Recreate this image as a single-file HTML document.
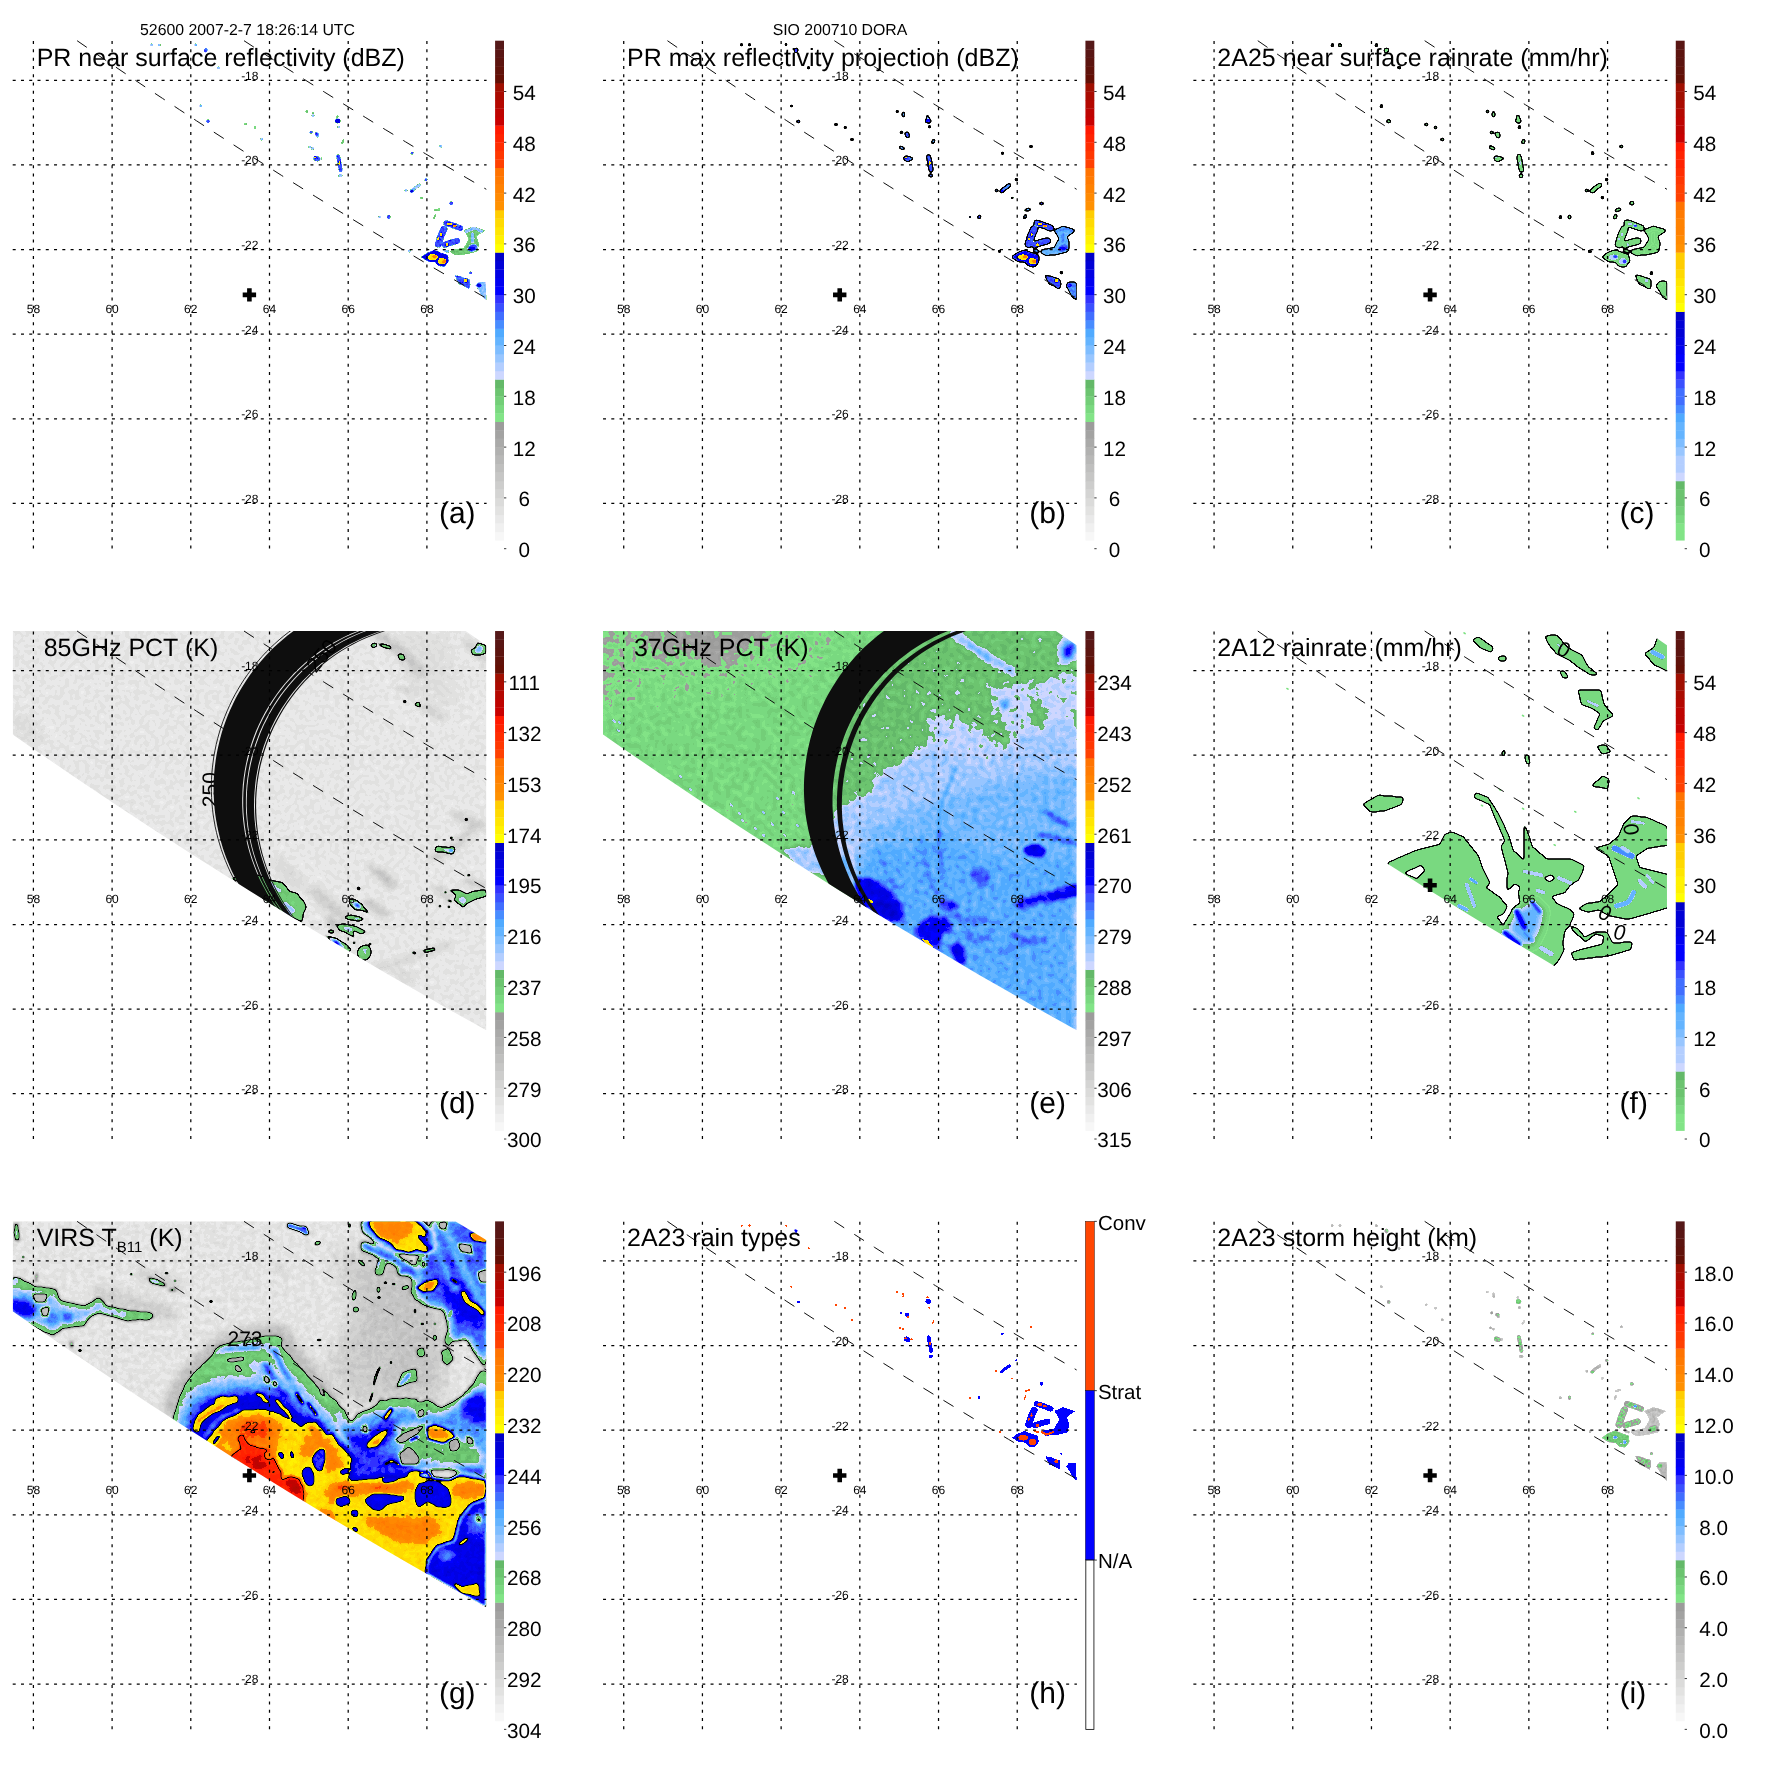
<!DOCTYPE html>
<html><head><meta charset="utf-8"><title>TRMM overpass 52600 DORA</title>
<style>html,body{margin:0;padding:0;background:#fff}svg{display:block}text{font-family:"Liberation Sans", sans-serif;fill:#000;text-rendering:geometricPrecision}</style></head><body>
<svg width="1771" height="1771" viewBox="0 0 1771 1771">
<rect width="1771" height="1771" fill="#fff"/><g opacity="0.999">
<defs><clipPath id="pc"><rect x="12.7" y="40.7" width="473.9" height="508.7"/></clipPath><clipPath id="tmiclip"><polygon points="12.7,40.7 465.6,40.7 486.3,54.9 486.3,439.9 466.6,428.9 446.8,417.8 427.1,406.5 407.4,395.2 387.6,383.8 367.9,372.2 348.2,360.5 328.4,348.7 308.7,336.8 289.0,324.8 269.2,312.6 249.5,300.4 229.8,288.0 210.0,275.5 190.3,262.9 170.6,250.2 150.8,237.3 131.1,224.4 111.4,211.3 91.6,198.1 71.9,184.8 52.2,171.4 32.4,157.9 12.7,144.2"/></clipPath><clipPath id="virsclip"><polygon points="12.7,40.7 455.3,40.7 486.3,59.4 486.3,426.5 466.6,415.6 446.8,404.5 427.1,393.3 407.4,382.0 387.6,370.5 367.9,359.0 348.2,347.3 328.4,335.5 308.7,323.6 289.0,311.6 269.2,299.4 249.5,287.1 229.8,274.8 210.0,262.2 190.3,249.6 170.6,236.9 150.8,224.0 131.1,211.0 111.4,197.9 91.6,184.7 71.9,171.3 52.2,157.8 32.4,144.3 12.7,130.6"/></clipPath><filter id="cme" filterUnits="userSpaceOnUse" x="0" y="30" width="500" height="530" color-interpolation-filters="sRGB"><feTurbulence type="fractalNoise" baseFrequency="0.17" numOctaves="1" seed="3" result="t"/><feColorMatrix in="t" type="matrix" values="1 0 0 0 0 1 0 0 0 0 1 0 0 0 0 0 0 0 0 1" result="n"/><feComposite in="SourceGraphic" in2="n" operator="arithmetic" k1="0" k2="1" k3="0.085" k4="-0.0425" result="fn0"/><feComposite in="fn0" in2="SourceGraphic" operator="in" result="fn"/><feComponentTransfer in="fn" result="col"><feFuncR type="discrete" tableValues="0.996 0.969 0.941 0.914 0.886 0.859 0.831 0.804 0.776 0.749 0.722 0.694 0.667 0.639 0.612 0.510 0.478 0.451 0.424 0.392 0.804 0.702 0.596 0.494 0.392 0.314 0.282 0.255 0.227 0.196 0.000 0.000 0.000 0.000 0.000 1.000 1.000 1.000 1.000 1.000 1.000 1.000 1.000 1.000 1.000 1.000 1.000 1.000 1.000 1.000 0.784 0.745 0.706 0.667 0.627 0.392 0.376 0.361 0.349 0.333 0.333 0.333 0.333 0.333"/><feFuncG type="discrete" tableValues="0.996 0.969 0.941 0.914 0.886 0.859 0.831 0.804 0.776 0.749 0.722 0.694 0.667 0.639 0.612 0.894 0.851 0.808 0.769 0.725 0.843 0.808 0.776 0.741 0.706 0.667 0.549 0.431 0.314 0.196 0.000 0.000 0.000 0.000 0.000 1.000 0.949 0.902 0.855 0.804 0.569 0.541 0.510 0.478 0.451 0.255 0.216 0.176 0.137 0.098 0.000 0.016 0.031 0.043 0.059 0.059 0.071 0.078 0.086 0.098 0.098 0.098 0.098 0.098"/><feFuncB type="discrete" tableValues="0.996 0.969 0.941 0.914 0.882 0.855 0.827 0.800 0.773 0.745 0.718 0.690 0.663 0.635 0.608 0.529 0.502 0.471 0.439 0.412 1.000 1.000 1.000 1.000 1.000 1.000 1.000 1.000 1.000 1.000 1.000 0.945 0.894 0.839 0.784 0.000 0.000 0.000 0.000 0.000 0.000 0.000 0.000 0.000 0.000 0.000 0.000 0.000 0.000 0.000 0.000 0.000 0.000 0.000 0.000 0.020 0.039 0.059 0.078 0.098 0.098 0.098 0.098 0.098"/></feComponentTransfer></filter><filter id="cmd" filterUnits="userSpaceOnUse" x="0" y="30" width="500" height="530" color-interpolation-filters="sRGB"><feTurbulence type="fractalNoise" baseFrequency="0.2" numOctaves="1" seed="7" result="t"/><feColorMatrix in="t" type="matrix" values="1 0 0 0 0 1 0 0 0 0 1 0 0 0 0 0 0 0 0 1" result="n"/><feComposite in="SourceGraphic" in2="n" operator="arithmetic" k1="0" k2="1" k3="0.06" k4="-0.0300" result="fn0"/><feComposite in="fn0" in2="SourceGraphic" operator="in" result="fn"/><feComponentTransfer in="fn" result="col"><feFuncR type="discrete" tableValues="0.996 0.969 0.941 0.914 0.886 0.859 0.831 0.804 0.776 0.749 0.722 0.694 0.667 0.639 0.612 0.510 0.478 0.451 0.424 0.392 0.804 0.702 0.596 0.494 0.392 0.314 0.282 0.255 0.227 0.196 0.000 0.000 0.000 0.000 0.000 1.000 1.000 1.000 1.000 1.000 1.000 1.000 1.000 1.000 1.000 1.000 1.000 1.000 1.000 1.000 0.784 0.745 0.706 0.667 0.627 0.392 0.376 0.361 0.349 0.333 0.333 0.333 0.333 0.333"/><feFuncG type="discrete" tableValues="0.996 0.969 0.941 0.914 0.886 0.859 0.831 0.804 0.776 0.749 0.722 0.694 0.667 0.639 0.612 0.894 0.851 0.808 0.769 0.725 0.843 0.808 0.776 0.741 0.706 0.667 0.549 0.431 0.314 0.196 0.000 0.000 0.000 0.000 0.000 1.000 0.949 0.902 0.855 0.804 0.569 0.541 0.510 0.478 0.451 0.255 0.216 0.176 0.137 0.098 0.000 0.016 0.031 0.043 0.059 0.059 0.071 0.078 0.086 0.098 0.098 0.098 0.098 0.098"/><feFuncB type="discrete" tableValues="0.996 0.969 0.941 0.914 0.882 0.855 0.827 0.800 0.773 0.745 0.718 0.690 0.663 0.635 0.608 0.529 0.502 0.471 0.439 0.412 1.000 1.000 1.000 1.000 1.000 1.000 1.000 1.000 1.000 1.000 1.000 0.945 0.894 0.839 0.784 0.000 0.000 0.000 0.000 0.000 0.000 0.000 0.000 0.000 0.000 0.000 0.000 0.000 0.000 0.000 0.000 0.000 0.000 0.000 0.000 0.020 0.039 0.059 0.078 0.098 0.098 0.098 0.098 0.098"/></feComponentTransfer><feComponentTransfer in="fn" result="m0a"><feFuncR type="discrete" tableValues="0 0 0 0 0 0 0 0 0 0 0 0 0 0 0 1 1 1 1 1 1 1 1 1 1 1 1 1 1 1 1 1 1 1 1 1 1 1 1 1 1 1 1 1 1 1 1 1 1 1 1 1 1 1 1 1 1 1 1 1 1 1 1 1"/></feComponentTransfer><feColorMatrix in="m0a" type="matrix" values="0 0 0 0 0 0 0 0 0 0 0 0 0 0 0 1 0 0 0 0" result="m0"/><feGaussianBlur in="m0" stdDeviation="0.9" result="d0"/><feComponentTransfer in="d0" result="e00"><feFuncA type="table" tableValues="0 0 0 0 0 0 0.5 1 1 1 1 1 1 1 0.5 0 0 0 0 0 0"/></feComponentTransfer><feComposite in="e00" in2="SourceGraphic" operator="in" result="e0"/><feMerge><feMergeNode in="col"/><feMergeNode in="e0"/></feMerge></filter><filter id="cmg" filterUnits="userSpaceOnUse" x="0" y="30" width="500" height="530" color-interpolation-filters="sRGB"><feTurbulence type="fractalNoise" baseFrequency="0.18" numOctaves="2" seed="11" result="t"/><feColorMatrix in="t" type="matrix" values="1 0 0 0 0 1 0 0 0 0 1 0 0 0 0 0 0 0 0 1" result="n"/><feComposite in="SourceGraphic" in2="n" operator="arithmetic" k1="0" k2="1" k3="0.07" k4="-0.0350" result="fn0"/><feComposite in="fn0" in2="SourceGraphic" operator="in" result="fn"/><feComponentTransfer in="fn" result="col"><feFuncR type="discrete" tableValues="0.996 0.969 0.941 0.914 0.886 0.859 0.831 0.804 0.776 0.749 0.722 0.694 0.667 0.639 0.612 0.510 0.478 0.451 0.424 0.392 0.804 0.702 0.596 0.494 0.392 0.314 0.282 0.255 0.227 0.196 0.000 0.000 0.000 0.000 0.000 1.000 1.000 1.000 1.000 1.000 1.000 1.000 1.000 1.000 1.000 1.000 1.000 1.000 1.000 1.000 0.784 0.745 0.706 0.667 0.627 0.392 0.376 0.361 0.349 0.333 0.333 0.333 0.333 0.333"/><feFuncG type="discrete" tableValues="0.996 0.969 0.941 0.914 0.886 0.859 0.831 0.804 0.776 0.749 0.722 0.694 0.667 0.639 0.612 0.894 0.851 0.808 0.769 0.725 0.843 0.808 0.776 0.741 0.706 0.667 0.549 0.431 0.314 0.196 0.000 0.000 0.000 0.000 0.000 1.000 0.949 0.902 0.855 0.804 0.569 0.541 0.510 0.478 0.451 0.255 0.216 0.176 0.137 0.098 0.000 0.016 0.031 0.043 0.059 0.059 0.071 0.078 0.086 0.098 0.098 0.098 0.098 0.098"/><feFuncB type="discrete" tableValues="0.996 0.969 0.941 0.914 0.882 0.855 0.827 0.800 0.773 0.745 0.718 0.690 0.663 0.635 0.608 0.529 0.502 0.471 0.439 0.412 1.000 1.000 1.000 1.000 1.000 1.000 1.000 1.000 1.000 1.000 1.000 0.945 0.894 0.839 0.784 0.000 0.000 0.000 0.000 0.000 0.000 0.000 0.000 0.000 0.000 0.000 0.000 0.000 0.000 0.000 0.000 0.000 0.000 0.000 0.000 0.020 0.039 0.059 0.078 0.098 0.098 0.098 0.098 0.098"/></feComponentTransfer><feComponentTransfer in="fn" result="m0a"><feFuncR type="discrete" tableValues="0 0 0 0 0 0 0 0 0 0 0 0 0 0 0 1 1 1 1 1 1 1 1 1 1 1 1 1 1 1 1 1 1 1 1 1 1 1 1 1 1 1 1 1 1 1 1 1 1 1 1 1 1 1 1 1 1 1 1 1 1 1 1 1"/></feComponentTransfer><feColorMatrix in="m0a" type="matrix" values="0 0 0 0 0 0 0 0 0 0 0 0 0 0 0 1 0 0 0 0" result="m0"/><feGaussianBlur in="m0" stdDeviation="0.9" result="d0"/><feComponentTransfer in="d0" result="e00"><feFuncA type="table" tableValues="0 0 0 0 0 0 0 0.5 1 1 1 1 1 0.5 0 0 0 0 0 0 0"/></feComponentTransfer><feComposite in="e00" in2="SourceGraphic" operator="in" result="e0"/><feComponentTransfer in="fn" result="m1a"><feFuncR type="discrete" tableValues="0 0 0 0 0 0 0 0 0 0 0 0 0 0 0 0 0 0 0 0 0 0 0 0 0 0 0 0 0 0 0 0 0 0 0 1 1 1 1 1 1 1 1 1 1 1 1 1 1 1 1 1 1 1 1 1 1 1 1 1 1 1 1 1"/></feComponentTransfer><feColorMatrix in="m1a" type="matrix" values="0 0 0 0 0 0 0 0 0 0 0 0 0 0 0 1 0 0 0 0" result="m1"/><feGaussianBlur in="m1" stdDeviation="0.9" result="d1"/><feComponentTransfer in="d1" result="e10"><feFuncA type="table" tableValues="0 0 0 0 0 0 0 0.5 1 1 1 1 1 0.5 0 0 0 0 0 0 0"/></feComponentTransfer><feComposite in="e10" in2="SourceGraphic" operator="in" result="e1"/><feComponentTransfer in="fn" result="m2a"><feFuncR type="discrete" tableValues="0 0 0 0 0 0 0 0 0 0 0 0 0 0 0 0 0 0 0 0 0 0 0 0 0 0 0 0 0 0 0 0 0 0 0 0 0 0 0 0 0 0 0 0 0 0 0 1 1 1 1 1 1 1 1 1 1 1 1 1 1 1 1 1"/></feComponentTransfer><feColorMatrix in="m2a" type="matrix" values="0 0 0 0 0 0 0 0 0 0 0 0 0 0 0 1 0 0 0 0" result="m2"/><feGaussianBlur in="m2" stdDeviation="0.9" result="d2"/><feComponentTransfer in="d2" result="e20"><feFuncA type="table" tableValues="0 0 0 0 0 0 0 0.5 1 1 1 1 1 0.5 0 0 0 0 0 0 0"/></feComponentTransfer><feComposite in="e20" in2="SourceGraphic" operator="in" result="e2"/><feMerge><feMergeNode in="col"/><feMergeNode in="e0"/><feMergeNode in="e1"/><feMergeNode in="e2"/></feMerge></filter><filter id="cmf" filterUnits="userSpaceOnUse" x="0" y="30" width="500" height="530" color-interpolation-filters="sRGB"><feComponentTransfer in="SourceGraphic" result="col"><feFuncR type="discrete" tableValues="1.000 0.510 0.510 0.478 0.451 0.424 0.424 0.392 0.804 0.702 0.702 0.596 0.494 0.392 0.392 0.314 0.282 0.255 0.255 0.227 0.196 0.000 0.000 0.000 0.000 0.000 0.000 0.000 1.000 1.000 1.000 1.000 1.000 1.000 1.000 1.000 1.000 1.000 1.000 1.000 1.000 1.000 1.000 1.000 1.000 1.000 1.000 1.000 0.784 0.745 0.745 0.706 0.667 0.627 0.627 0.392 0.376 0.361 0.361 0.349 0.349 0.349 0.349 0.349"/><feFuncG type="discrete" tableValues="1.000 0.894 0.894 0.851 0.808 0.769 0.769 0.725 0.843 0.808 0.808 0.776 0.741 0.706 0.706 0.667 0.549 0.431 0.431 0.314 0.196 0.000 0.000 0.000 0.000 0.000 0.000 0.000 1.000 0.949 0.949 0.902 0.855 0.804 0.804 0.569 0.541 0.510 0.510 0.478 0.451 0.255 0.255 0.216 0.176 0.137 0.137 0.098 0.000 0.016 0.016 0.031 0.043 0.059 0.059 0.059 0.071 0.078 0.078 0.086 0.086 0.086 0.086 0.086"/><feFuncB type="discrete" tableValues="1.000 0.529 0.529 0.502 0.471 0.439 0.439 0.412 1.000 1.000 1.000 1.000 1.000 1.000 1.000 1.000 1.000 1.000 1.000 1.000 1.000 1.000 1.000 0.945 0.894 0.839 0.839 0.784 0.000 0.000 0.000 0.000 0.000 0.000 0.000 0.000 0.000 0.000 0.000 0.000 0.000 0.000 0.000 0.000 0.000 0.000 0.000 0.000 0.000 0.000 0.000 0.000 0.000 0.000 0.000 0.020 0.039 0.059 0.059 0.078 0.078 0.078 0.078 0.078"/></feComponentTransfer><feComponentTransfer in="SourceGraphic" result="m0a"><feFuncR type="discrete" tableValues="0 1 1 1 1 1 1 1 1 1 1 1 1 1 1 1 1 1 1 1 1 1 1 1 1 1 1 1 1 1 1 1 1 1 1 1 1 1 1 1 1 1 1 1 1 1 1 1 1 1 1 1 1 1 1 1 1 1 1 1 1 1 1 1"/></feComponentTransfer><feColorMatrix in="m0a" type="matrix" values="0 0 0 0 0 0 0 0 0 0 0 0 0 0 0 1 0 0 0 0" result="m0"/><feGaussianBlur in="m0" stdDeviation="0.9" result="d0"/><feComponentTransfer in="d0" result="e00"><feFuncA type="table" tableValues="0 0 0 0 0 0 0.5 1 1 1 1 1 1 1 0.5 0 0 0 0 0 0"/></feComponentTransfer><feComposite in="e00" in2="SourceGraphic" operator="in" result="e0"/><feMerge><feMergeNode in="col"/><feMergeNode in="e0"/></feMerge></filter><filter id="cma" filterUnits="userSpaceOnUse" x="0" y="30" width="500" height="530" color-interpolation-filters="sRGB"><feTurbulence type="fractalNoise" baseFrequency="0.45" numOctaves="1" seed="5" result="t"/><feColorMatrix in="t" type="matrix" values="1 0 0 0 0 1 0 0 0 0 1 0 0 0 0 0 0 0 0 1" result="n"/><feComposite in="SourceGraphic" in2="n" operator="arithmetic" k1="0" k2="1" k3="0.11" k4="-0.0550" result="fn0"/><feComposite in="fn0" in2="SourceGraphic" operator="in" result="fn"/><feComponentTransfer in="fn" result="col"><feFuncR type="discrete" tableValues="1.000 1.000 1.000 1.000 1.000 1.000 1.000 1.000 1.000 1.000 1.000 1.000 1.000 1.000 1.000 0.510 0.478 0.451 0.424 0.392 0.804 0.702 0.596 0.494 0.392 0.314 0.282 0.255 0.227 0.196 0.000 0.000 0.000 0.000 0.000 1.000 1.000 1.000 1.000 1.000 1.000 1.000 1.000 1.000 1.000 1.000 1.000 1.000 1.000 1.000 0.784 0.745 0.706 0.667 0.627 0.392 0.376 0.361 0.349 0.333 0.333 0.333 0.333 0.333"/><feFuncG type="discrete" tableValues="1.000 1.000 1.000 1.000 1.000 1.000 1.000 1.000 1.000 1.000 1.000 1.000 1.000 1.000 1.000 0.894 0.851 0.808 0.769 0.725 0.843 0.808 0.776 0.741 0.706 0.667 0.549 0.431 0.314 0.196 0.000 0.000 0.000 0.000 0.000 1.000 0.949 0.902 0.855 0.804 0.569 0.541 0.510 0.478 0.451 0.255 0.216 0.176 0.137 0.098 0.000 0.016 0.031 0.043 0.059 0.059 0.071 0.078 0.086 0.098 0.098 0.098 0.098 0.098"/><feFuncB type="discrete" tableValues="1.000 1.000 1.000 1.000 1.000 1.000 1.000 1.000 1.000 1.000 1.000 1.000 1.000 1.000 1.000 0.529 0.502 0.471 0.439 0.412 1.000 1.000 1.000 1.000 1.000 1.000 1.000 1.000 1.000 1.000 1.000 0.945 0.894 0.839 0.784 0.000 0.000 0.000 0.000 0.000 0.000 0.000 0.000 0.000 0.000 0.000 0.000 0.000 0.000 0.000 0.000 0.000 0.000 0.000 0.000 0.020 0.039 0.059 0.078 0.098 0.098 0.098 0.098 0.098"/></feComponentTransfer></filter><filter id="cmb" filterUnits="userSpaceOnUse" x="0" y="30" width="500" height="530" color-interpolation-filters="sRGB"><feTurbulence type="fractalNoise" baseFrequency="0.4" numOctaves="1" seed="5" result="t"/><feColorMatrix in="t" type="matrix" values="1 0 0 0 0 1 0 0 0 0 1 0 0 0 0 0 0 0 0 1" result="n"/><feComposite in="SourceGraphic" in2="n" operator="arithmetic" k1="0" k2="1" k3="0.07" k4="-0.0350" result="fn0"/><feComposite in="fn0" in2="SourceGraphic" operator="in" result="fn"/><feComponentTransfer in="fn" result="col"><feFuncR type="discrete" tableValues="1.000 1.000 1.000 1.000 1.000 1.000 1.000 1.000 1.000 1.000 1.000 1.000 1.000 1.000 1.000 0.510 0.478 0.451 0.424 0.392 0.804 0.702 0.596 0.494 0.392 0.314 0.282 0.255 0.227 0.196 0.000 0.000 0.000 0.000 0.000 1.000 1.000 1.000 1.000 1.000 1.000 1.000 1.000 1.000 1.000 1.000 1.000 1.000 1.000 1.000 0.784 0.745 0.706 0.667 0.627 0.392 0.376 0.361 0.349 0.333 0.333 0.333 0.333 0.333"/><feFuncG type="discrete" tableValues="1.000 1.000 1.000 1.000 1.000 1.000 1.000 1.000 1.000 1.000 1.000 1.000 1.000 1.000 1.000 0.894 0.851 0.808 0.769 0.725 0.843 0.808 0.776 0.741 0.706 0.667 0.549 0.431 0.314 0.196 0.000 0.000 0.000 0.000 0.000 1.000 0.949 0.902 0.855 0.804 0.569 0.541 0.510 0.478 0.451 0.255 0.216 0.176 0.137 0.098 0.000 0.016 0.031 0.043 0.059 0.059 0.071 0.078 0.086 0.098 0.098 0.098 0.098 0.098"/><feFuncB type="discrete" tableValues="1.000 1.000 1.000 1.000 1.000 1.000 1.000 1.000 1.000 1.000 1.000 1.000 1.000 1.000 1.000 0.529 0.502 0.471 0.439 0.412 1.000 1.000 1.000 1.000 1.000 1.000 1.000 1.000 1.000 1.000 1.000 0.945 0.894 0.839 0.784 0.000 0.000 0.000 0.000 0.000 0.000 0.000 0.000 0.000 0.000 0.000 0.000 0.000 0.000 0.000 0.000 0.000 0.000 0.000 0.000 0.020 0.039 0.059 0.078 0.098 0.098 0.098 0.098 0.098"/></feComponentTransfer><feComponentTransfer in="fn" result="m0a"><feFuncR type="discrete" tableValues="0 0 0 0 0 0 0 0 0 0 0 0 0 0 0 1 1 1 1 1 1 1 1 1 1 1 1 1 1 1 1 1 1 1 1 1 1 1 1 1 1 1 1 1 1 1 1 1 1 1 1 1 1 1 1 1 1 1 1 1 1 1 1 1"/></feComponentTransfer><feColorMatrix in="m0a" type="matrix" values="0 0 0 0 0 0 0 0 0 0 0 0 0 0 0 1 0 0 0 0" result="m0"/><feGaussianBlur in="m0" stdDeviation="0.9" result="d0"/><feComponentTransfer in="d0" result="e00"><feFuncA type="table" tableValues="0 0 0 0 0 0 0.5 1 1 1 1 1 1 1 0.5 0 0 0 0 0 0"/></feComponentTransfer><feComposite in="e00" in2="SourceGraphic" operator="in" result="e0"/><feMerge><feMergeNode in="col"/><feMergeNode in="e0"/></feMerge></filter><filter id="cmc" filterUnits="userSpaceOnUse" x="0" y="30" width="500" height="530" color-interpolation-filters="sRGB"><feComponentTransfer in="SourceGraphic" result="col"><feFuncR type="discrete" tableValues="1.000 0.510 0.510 0.478 0.451 0.424 0.424 0.392 0.804 0.702 0.702 0.596 0.494 0.392 0.392 0.314 0.282 0.255 0.255 0.227 0.196 0.000 0.000 0.000 0.000 0.000 0.000 0.000 1.000 1.000 1.000 1.000 1.000 1.000 1.000 1.000 1.000 1.000 1.000 1.000 1.000 1.000 1.000 1.000 1.000 1.000 1.000 1.000 0.784 0.745 0.745 0.706 0.667 0.627 0.627 0.392 0.376 0.361 0.361 0.349 0.349 0.349 0.349 0.349"/><feFuncG type="discrete" tableValues="1.000 0.894 0.894 0.851 0.808 0.769 0.769 0.725 0.843 0.808 0.808 0.776 0.741 0.706 0.706 0.667 0.549 0.431 0.431 0.314 0.196 0.000 0.000 0.000 0.000 0.000 0.000 0.000 1.000 0.949 0.949 0.902 0.855 0.804 0.804 0.569 0.541 0.510 0.510 0.478 0.451 0.255 0.255 0.216 0.176 0.137 0.137 0.098 0.000 0.016 0.016 0.031 0.043 0.059 0.059 0.059 0.071 0.078 0.078 0.086 0.086 0.086 0.086 0.086"/><feFuncB type="discrete" tableValues="1.000 0.529 0.529 0.502 0.471 0.439 0.439 0.412 1.000 1.000 1.000 1.000 1.000 1.000 1.000 1.000 1.000 1.000 1.000 1.000 1.000 1.000 1.000 0.945 0.894 0.839 0.839 0.784 0.000 0.000 0.000 0.000 0.000 0.000 0.000 0.000 0.000 0.000 0.000 0.000 0.000 0.000 0.000 0.000 0.000 0.000 0.000 0.000 0.000 0.000 0.000 0.000 0.000 0.000 0.000 0.020 0.039 0.059 0.059 0.078 0.078 0.078 0.078 0.078"/></feComponentTransfer><feComponentTransfer in="SourceGraphic" result="m0a"><feFuncR type="discrete" tableValues="0 1 1 1 1 1 1 1 1 1 1 1 1 1 1 1 1 1 1 1 1 1 1 1 1 1 1 1 1 1 1 1 1 1 1 1 1 1 1 1 1 1 1 1 1 1 1 1 1 1 1 1 1 1 1 1 1 1 1 1 1 1 1 1"/></feComponentTransfer><feColorMatrix in="m0a" type="matrix" values="0 0 0 0 0 0 0 0 0 0 0 0 0 0 0 1 0 0 0 0" result="m0"/><feGaussianBlur in="m0" stdDeviation="0.9" result="d0"/><feComponentTransfer in="d0" result="e00"><feFuncA type="table" tableValues="0 0 0 0 0 0 0.5 1 1 1 1 1 1 1 0.5 0 0 0 0 0 0"/></feComponentTransfer><feComposite in="e00" in2="SourceGraphic" operator="in" result="e0"/><feMerge><feMergeNode in="col"/><feMergeNode in="e0"/></feMerge></filter><filter id="cmi" filterUnits="userSpaceOnUse" x="0" y="30" width="500" height="530" color-interpolation-filters="sRGB"><feTurbulence type="fractalNoise" baseFrequency="0.45" numOctaves="1" seed="8" result="t"/><feColorMatrix in="t" type="matrix" values="1 0 0 0 0 1 0 0 0 0 1 0 0 0 0 0 0 0 0 1" result="n"/><feComposite in="SourceGraphic" in2="n" operator="arithmetic" k1="0" k2="1" k3="0.1" k4="-0.0500" result="fn0"/><feComposite in="fn0" in2="SourceGraphic" operator="in" result="fn"/><feComponentTransfer in="fn" result="col"><feFuncR type="discrete" tableValues="1.000 1.000 1.000 1.000 1.000 0.859 0.831 0.804 0.776 0.749 0.722 0.694 0.667 0.639 0.612 0.510 0.478 0.451 0.424 0.392 0.804 0.702 0.596 0.494 0.392 0.314 0.282 0.255 0.227 0.196 0.000 0.000 0.000 0.000 0.000 1.000 1.000 1.000 1.000 1.000 1.000 1.000 1.000 1.000 1.000 1.000 1.000 1.000 1.000 1.000 0.784 0.745 0.706 0.667 0.627 0.392 0.376 0.361 0.349 0.333 0.333 0.333 0.333 0.333"/><feFuncG type="discrete" tableValues="1.000 1.000 1.000 1.000 1.000 0.859 0.831 0.804 0.776 0.749 0.722 0.694 0.667 0.639 0.612 0.894 0.851 0.808 0.769 0.725 0.843 0.808 0.776 0.741 0.706 0.667 0.549 0.431 0.314 0.196 0.000 0.000 0.000 0.000 0.000 1.000 0.949 0.902 0.855 0.804 0.569 0.541 0.510 0.478 0.451 0.255 0.216 0.176 0.137 0.098 0.000 0.016 0.031 0.043 0.059 0.059 0.071 0.078 0.086 0.098 0.098 0.098 0.098 0.098"/><feFuncB type="discrete" tableValues="1.000 1.000 1.000 1.000 1.000 0.855 0.827 0.800 0.773 0.745 0.718 0.690 0.663 0.635 0.608 0.529 0.502 0.471 0.439 0.412 1.000 1.000 1.000 1.000 1.000 1.000 1.000 1.000 1.000 1.000 1.000 0.945 0.894 0.839 0.784 0.000 0.000 0.000 0.000 0.000 0.000 0.000 0.000 0.000 0.000 0.000 0.000 0.000 0.000 0.000 0.000 0.000 0.000 0.000 0.000 0.020 0.039 0.059 0.078 0.098 0.098 0.098 0.098 0.098"/></feComponentTransfer></filter><filter id="cmh" filterUnits="userSpaceOnUse" x="0" y="30" width="500" height="530" color-interpolation-filters="sRGB"><feTurbulence type="fractalNoise" baseFrequency="0.5" numOctaves="1" seed="9" result="t"/><feColorMatrix in="t" type="matrix" values="1 0 0 0 0 1 0 0 0 0 1 0 0 0 0 0 0 0 0 1" result="n"/><feComposite in="SourceGraphic" in2="n" operator="arithmetic" k1="0" k2="1" k3="0.2" k4="-0.1000" result="fn0"/><feComposite in="fn0" in2="SourceGraphic" operator="in" result="fn"/><feComponentTransfer in="fn" result="col"><feFuncR type="discrete" tableValues="1.000 1.000 1.000 1.000 1.000 1.000 1.000 1.000 1.000 1.000 0.000 0.000 0.000 0.000 0.000 0.000 0.000 0.000 0.000 0.000 0.000 0.000 0.000 0.000 0.000 0.000 0.000 0.000 0.000 0.000 1.000 1.000 1.000 1.000 1.000 1.000 1.000 1.000 1.000 1.000 1.000 1.000 1.000 1.000 1.000 1.000 1.000 1.000 1.000 1.000 1.000 1.000 1.000 1.000 1.000 1.000 1.000 1.000 1.000 1.000 1.000 1.000 1.000 1.000"/><feFuncG type="discrete" tableValues="1.000 1.000 1.000 1.000 1.000 1.000 1.000 1.000 1.000 1.000 0.000 0.000 0.000 0.000 0.000 0.000 0.000 0.000 0.000 0.000 0.000 0.000 0.000 0.000 0.000 0.000 0.000 0.000 0.000 0.000 0.271 0.271 0.271 0.271 0.271 0.271 0.271 0.271 0.271 0.271 0.271 0.271 0.271 0.271 0.271 0.271 0.271 0.271 0.271 0.271 0.271 0.271 0.271 0.271 0.271 0.271 0.271 0.271 0.271 0.271 0.271 0.271 0.271 0.271"/><feFuncB type="discrete" tableValues="1.000 1.000 1.000 1.000 1.000 1.000 1.000 1.000 1.000 1.000 1.000 1.000 1.000 1.000 1.000 1.000 1.000 1.000 1.000 1.000 1.000 1.000 1.000 1.000 1.000 1.000 1.000 1.000 1.000 1.000 0.000 0.000 0.000 0.000 0.000 0.000 0.000 0.000 0.000 0.000 0.000 0.000 0.000 0.000 0.000 0.000 0.000 0.000 0.000 0.000 0.000 0.000 0.000 0.000 0.000 0.000 0.000 0.000 0.000 0.000 0.000 0.000 0.000 0.000"/></feComponentTransfer></filter><filter id="b9" filterUnits="userSpaceOnUse" x="-40" y="-20" width="600" height="640" color-interpolation-filters="sRGB"><feGaussianBlur stdDeviation="9"/></filter><filter id="b3" filterUnits="userSpaceOnUse" x="-40" y="-20" width="600" height="640" color-interpolation-filters="sRGB"><feGaussianBlur stdDeviation="3"/></filter><filter id="b2" filterUnits="userSpaceOnUse" x="-40" y="-20" width="600" height="640" color-interpolation-filters="sRGB"><feGaussianBlur stdDeviation="2"/></filter><filter id="b5" filterUnits="userSpaceOnUse" x="-40" y="-20" width="600" height="640" color-interpolation-filters="sRGB"><feGaussianBlur stdDeviation="5"/></filter><filter id="b6" filterUnits="userSpaceOnUse" x="-40" y="-20" width="600" height="640" color-interpolation-filters="sRGB"><feGaussianBlur stdDeviation="6"/></filter><filter id="b1_5" filterUnits="userSpaceOnUse" x="-40" y="-20" width="600" height="640" color-interpolation-filters="sRGB"><feGaussianBlur stdDeviation="1.5"/></filter><filter id="b0_7" filterUnits="userSpaceOnUse" x="-40" y="-20" width="600" height="640" color-interpolation-filters="sRGB"><feGaussianBlur stdDeviation="0.7"/></filter><filter id="b2_5" filterUnits="userSpaceOnUse" x="-40" y="-20" width="600" height="640" color-interpolation-filters="sRGB"><feGaussianBlur stdDeviation="2.5"/></filter><filter id="b7" filterUnits="userSpaceOnUse" x="-40" y="-20" width="600" height="640" color-interpolation-filters="sRGB"><feGaussianBlur stdDeviation="7"/></filter><filter id="b3_5" filterUnits="userSpaceOnUse" x="-40" y="-20" width="600" height="640" color-interpolation-filters="sRGB"><feGaussianBlur stdDeviation="3.5"/></filter><filter id="b4" filterUnits="userSpaceOnUse" x="-40" y="-20" width="600" height="640" color-interpolation-filters="sRGB"><feGaussianBlur stdDeviation="4"/></filter><filter id="b0_9" filterUnits="userSpaceOnUse" x="-40" y="-20" width="600" height="640" color-interpolation-filters="sRGB"><feGaussianBlur stdDeviation="0.9"/></filter><filter id="b0_6" filterUnits="userSpaceOnUse" x="-40" y="-20" width="600" height="640" color-interpolation-filters="sRGB"><feGaussianBlur stdDeviation="0.6"/></filter><filter id="b0_8" filterUnits="userSpaceOnUse" x="-40" y="-20" width="600" height="640" color-interpolation-filters="sRGB"><feGaussianBlur stdDeviation="0.8"/></filter><filter id="b1_2" filterUnits="userSpaceOnUse" x="-40" y="-20" width="600" height="640" color-interpolation-filters="sRGB"><feGaussianBlur stdDeviation="1.2"/></filter><filter id="b1" filterUnits="userSpaceOnUse" x="-40" y="-20" width="600" height="640" color-interpolation-filters="sRGB"><feGaussianBlur stdDeviation="1"/></filter><filter id="b1_3" filterUnits="userSpaceOnUse" x="-40" y="-20" width="600" height="640" color-interpolation-filters="sRGB"><feGaussianBlur stdDeviation="1.3"/></filter><filter id="b0_75" filterUnits="userSpaceOnUse" x="-40" y="-20" width="600" height="640" color-interpolation-filters="sRGB"><feGaussianBlur stdDeviation="0.75"/></filter></defs>
<text x="247.5" y="35.1" font-size="15.85" text-anchor="middle">52600 2007-2-7 18:26:14 UTC</text>
<text x="840" y="35.1" font-size="15.85" text-anchor="middle">SIO 200710 DORA</text>
<g transform="translate(0.00 0.00)">
<g clip-path="url(#pc)"><g filter="url(#cma)"><polygon points="0.0,30.0 500.0,30.0 500.0,560.0 0.0,560.0" fill="#020202"/><ellipse cx="151.6" cy="44.9" rx="1.8" ry="1.6" fill="#5c5c5c"/><ellipse cx="159.2" cy="44.9" rx="1.8" ry="1.6" fill="#5c5c5c"/><ellipse cx="195.7" cy="44.9" rx="1.8" ry="1.6" fill="#5c5c5c"/><ellipse cx="218.5" cy="67.8" rx="1.8" ry="1.6" fill="#5c5c5c"/><ellipse cx="200.7" cy="105.9" rx="1.8" ry="1.6" fill="#5c5c5c"/><ellipse cx="261.7" cy="139.2" rx="1.8" ry="1.6" fill="#5c5c5c"/><ellipse cx="245.6" cy="124.2" rx="1.8" ry="1.6" fill="#484848"/><ellipse cx="254.9" cy="127.4" rx="1.8" ry="1.6" fill="#484848"/><ellipse cx="205.8" cy="50.3" rx="2.1" ry="2.5" fill="#727272" transform="rotate(20 205.8 50.3)"/><ellipse cx="208.0" cy="121.3" rx="2.0" ry="2.0" fill="#727272"/><ellipse cx="306.8" cy="111.4" rx="1.8" ry="1.6" fill="#484848"/><ellipse cx="313.0" cy="113.0" rx="1.8" ry="1.6" fill="#484848"/><ellipse cx="313.0" cy="115.7" rx="1.8" ry="1.6" fill="#5c5c5c"/><ellipse cx="337.2" cy="116.7" rx="1.8" ry="1.6" fill="#484848"/><ellipse cx="338.8" cy="126.9" rx="1.8" ry="1.6" fill="#5c5c5c"/><ellipse cx="311.1" cy="132.2" rx="1.8" ry="1.6" fill="#727272"/><ellipse cx="317.6" cy="136.2" rx="1.8" ry="1.6" fill="#5c5c5c"/><ellipse cx="309.9" cy="147.1" rx="1.8" ry="1.6" fill="#5c5c5c"/><ellipse cx="312.6" cy="148.4" rx="1.8" ry="1.6" fill="#5c5c5c"/><ellipse cx="321.1" cy="158.7" rx="1.8" ry="1.6" fill="#484848"/><ellipse cx="412.1" cy="153.1" rx="1.8" ry="1.6" fill="#727272"/><ellipse cx="426.0" cy="179.7" rx="1.8" ry="1.6" fill="#727272"/><ellipse cx="406.1" cy="190.4" rx="1.8" ry="1.6" fill="#5c5c5c"/><ellipse cx="421.7" cy="197.8" rx="1.8" ry="1.6" fill="#484848"/><ellipse cx="379.7" cy="217.0" rx="1.8" ry="1.6" fill="#5c5c5c"/><ellipse cx="470.7" cy="272.9" rx="1.8" ry="1.6" fill="#727272"/><ellipse cx="409.3" cy="251.2" rx="1.8" ry="1.6" fill="#5c5c5c"/><ellipse cx="440.7" cy="146.3" rx="1.8" ry="1.6" fill="#5c5c5c"/><g filter="url(#b0_75)"><ellipse cx="337.8" cy="120.8" rx="2.9" ry="2.6" fill="#808080"/><ellipse cx="316.7" cy="134.1" rx="2.4" ry="2.1" fill="#727272"/></g><path d="M342.2 142.8L343.4 140.3" fill="none" stroke="#484848" stroke-width="2.8" stroke-linecap="round" stroke-linejoin="round"/><g filter="url(#b0_75)"><ellipse cx="316.7" cy="158.6" rx="3.7" ry="2.8" fill="#727272" transform="rotate(20 316.7 158.6)"/></g><ellipse cx="315.2" cy="157.5" rx="1.3" ry="1.1" fill="#989898"/><g filter="url(#b0_75)"><path d="M338.2 156.5C338.4 157.5 339.0 160.4 339.4 162.7C339.9 164.9 340.5 168.9 340.7 170.1" fill="none" stroke="#727272" stroke-width="4.4" stroke-linecap="round" stroke-linejoin="round"/></g><ellipse cx="339.4" cy="163.0" rx="1.3" ry="1.9" fill="#989898"/><g filter="url(#b0_75)"><ellipse cx="340.4" cy="175.7" rx="2.4" ry="2.0" fill="#5c5c5c"/><path d="M411.1 191.2C411.7 190.7 413.5 189.2 414.8 188.1C416.2 187.1 418.5 185.7 419.2 185.2" fill="none" stroke="#5c5c5c" stroke-width="3.6" stroke-linecap="round" stroke-linejoin="round"/></g><ellipse cx="412.0" cy="191.2" rx="1.8" ry="1.6" fill="#808080"/><g filter="url(#b0_75)"><ellipse cx="451.2" cy="203.3" rx="2.2" ry="2.0" fill="#727272"/></g><path d="M435.3 210.2L439.1 209.5" fill="none" stroke="#484848" stroke-width="2.9" stroke-linecap="round" stroke-linejoin="round"/><path d="M434.1 218.0L435.3 215.5" fill="none" stroke="#484848" stroke-width="2.8" stroke-linecap="round" stroke-linejoin="round"/><ellipse cx="388.8" cy="217.0" rx="1.9" ry="2.4" fill="#727272" transform="rotate(20 388.8 217.0)"/><g filter="url(#b0_75)"><path d="M446.3 223.2C447.3 223.5 450.4 224.3 452.7 225.2C455.1 226.0 459.2 227.6 460.4 228.1" fill="none" stroke="#727272" stroke-width="6.2" stroke-linecap="round" stroke-linejoin="round"/></g><ellipse cx="449.6" cy="223.9" rx="2.7" ry="1.5" fill="#989898"/><ellipse cx="454.6" cy="225.7" rx="2.1" ry="1.3" fill="#aaaaaa"/><g filter="url(#b0_75)"><path d="M443.8 229.4C443.3 230.5 441.8 233.5 440.9 236.0C440.0 238.4 438.9 242.7 438.4 244.0" fill="none" stroke="#727272" stroke-width="7.5" stroke-linecap="round" stroke-linejoin="round"/></g><ellipse cx="441.2" cy="234.7" rx="1.2" ry="2.1" fill="#989898"/><ellipse cx="438.4" cy="238.7" rx="1.3" ry="1.5" fill="#989898"/><g filter="url(#b0_75)"><path d="M444.7 244.7C445.6 244.3 448.2 243.4 450.2 242.8C452.3 242.2 455.9 241.2 457.1 240.9" fill="none" stroke="#727272" stroke-width="6.5" stroke-linecap="round" stroke-linejoin="round"/></g><ellipse cx="447.1" cy="244.9" rx="1.6" ry="1.8" fill="#989898"/><g filter="url(#b0_75)"><polygon points="463.9,230.4 472.6,226.6 485.0,230.4 476.3,236.6 478.8,242.8 477.6,251.5 467.6,254.0 455.2,255.2 451.5,250.2 463.9,247.8 468.9,239.1 466.4,234.1" fill="#484848"/><path d="M463.9 230.4L472.6 226.6L485.0 230.4L476.3 236.6L478.8 242.8L477.6 251.5L467.6 254.0L455.2 255.2L451.5 250.2L463.9 247.8L468.9 239.1L466.4 234.1L463.9 230.4" fill="none" stroke="#484848" stroke-width="1.0" stroke-linecap="round" stroke-linejoin="round"/><path d="M466.4 231.6C467.6 231.1 471.4 228.6 473.9 228.5C476.3 228.4 480.1 230.6 481.3 231.0" fill="none" stroke="#5c5c5c" stroke-width="3.2" stroke-linecap="round" stroke-linejoin="round"/><path d="M472.6 234.1L472.6 241.6" fill="none" stroke="#5c5c5c" stroke-width="3.4" stroke-linecap="round" stroke-linejoin="round"/><ellipse cx="472.6" cy="248.0" rx="5.1" ry="3.5" fill="#727272" transform="rotate(-20 472.6 248.0)"/></g><ellipse cx="472.0" cy="248.4" rx="3.1" ry="1.9" fill="#808080"/><g filter="url(#b0_75)"><polygon points="421.7,257.1 426.6,253.4 434.1,250.2 440.3,252.7 447.8,255.2 448.4,261.4 444.7,266.4 438.4,265.8 435.3,262.0 427.9,261.2" fill="#808080"/><path d="M421.7 257.1L426.6 253.4L434.1 250.2L440.3 252.7L447.8 255.2L448.4 261.4L444.7 266.4L438.4 265.8L435.3 262.0L427.9 261.2L421.7 257.1" fill="none" stroke="#808080" stroke-width="1.0" stroke-linecap="round" stroke-linejoin="round"/></g><ellipse cx="432.9" cy="257.1" rx="4.9" ry="2.9" fill="#989898"/><ellipse cx="434.7" cy="256.5" rx="2.3" ry="1.5" fill="#aaaaaa"/><ellipse cx="442.2" cy="261.2" rx="3.9" ry="3.3" fill="#989898"/><ellipse cx="444.0" cy="261.4" rx="1.9" ry="1.9" fill="#aaaaaa"/><path d="M451.5 251.5C452.3 251.9 454.6 254.0 456.5 254.0C458.3 254.0 461.6 251.9 462.7 251.5" fill="none" stroke="#484848" stroke-width="3.1" stroke-linecap="round" stroke-linejoin="round"/><path d="M444.0 250.2L447.8 251.5" fill="none" stroke="#5c5c5c" stroke-width="3.0" stroke-linecap="round" stroke-linejoin="round"/><g filter="url(#b0_75)"><polygon points="455.2,275.7 460.2,276.3 464.5,278.2 469.5,279.4 470.1,285.0 468.9,288.8 463.9,285.7 458.9,283.8" fill="#727272"/><path d="M455.2 275.7L460.2 276.3L464.5 278.2L469.5 279.4L470.1 285.0L468.9 288.8L463.9 285.7L458.9 283.8L455.2 275.7" fill="none" stroke="#727272" stroke-width="1.0" stroke-linecap="round" stroke-linejoin="round"/></g><ellipse cx="465.8" cy="280.7" rx="1.9" ry="2.1" fill="#989898"/><g filter="url(#b0_75)"><polygon points="475.7,285.7 478.8,281.9 485.7,281.9 486.3,299.9 481.9,296.2 478.8,290.0" fill="#5c5c5c"/><path d="M475.7 285.7L478.8 281.9L485.7 281.9L486.3 299.9L481.9 296.2L478.8 290.0L475.7 285.7" fill="none" stroke="#5c5c5c" stroke-width="1.0" stroke-linecap="round" stroke-linejoin="round"/></g><ellipse cx="479.1" cy="285.3" rx="2.5" ry="2.1" fill="#808080"/></g></g>
<path d="M244.0 40.7L254.1 47.3L264.2 53.8L274.3 60.3L284.4 66.8L294.5 73.2L304.6 79.6L314.7 86.0L324.8 92.3L334.9 98.6L345.0 104.9L355.1 111.1L365.2 117.3L375.2 123.5L385.3 129.6L395.4 135.7L405.5 141.8L415.6 147.9L425.7 153.9L435.8 159.9L445.9 165.8L456.0 171.7L466.1 177.6L476.2 183.5L486.3 189.3" stroke="#0e0e0e" stroke-width="1.0" stroke-dasharray="11.8 11.7" fill="none"/>
<path d="M77.1 40.7L94.1 52.4L111.2 64.0L128.2 75.5L145.3 87.0L162.4 98.3L179.4 109.6L196.5 120.8L213.5 131.9L230.6 142.9L247.6 153.9L264.7 164.7L281.7 175.5L298.8 186.2L315.8 196.8L332.9 207.3L349.9 217.7L367.0 228.1L384.0 238.4L401.1 248.5L418.1 258.6L435.1 268.7L452.2 278.6L469.2 288.4L486.3 298.2" stroke="#0e0e0e" stroke-width="1.0" stroke-dasharray="11.8 11.7" fill="none"/>

<path d="M33.4 41.1V549.4M112.1 41.1V549.4M190.8 41.1V549.4M269.5 41.1V549.4M348.2 41.1V549.4M426.9 41.1V549.4M12.7 80.3H486.6M12.7 164.9H486.6M12.7 249.5H486.6M12.7 334.2H486.6M12.7 418.8H486.6M12.7 503.4H486.6" stroke="#000" stroke-width="1.25" stroke-dasharray="3 5.27" fill="none"/>
<g font-size="12" text-anchor="middle">
<text x="33.4" y="312.9">58</text>
<text x="112.1" y="312.9">60</text>
<text x="190.8" y="312.9">62</text>
<text x="269.5" y="312.9">64</text>
<text x="348.2" y="312.9">66</text>
<text x="426.9" y="312.9">68</text>
<text x="249.8" y="79.7">-18</text>
<text x="249.8" y="164.3">-20</text>
<text x="249.8" y="248.9">-22</text>
<text x="249.8" y="333.6">-24</text>
<text x="249.8" y="418.2">-26</text>
<text x="249.8" y="502.8">-28</text>
</g>
<path d="M242.70000000000002 294.9H256.1M249.4 288.2V301.59999999999997" stroke="#000" stroke-width="4.6" fill="none"/>
<text x="36.7" y="65.5" font-size="25" xml:space="preserve">PR near surface reflectivity (dBZ)</text>
<text x="438.9" y="522.6" font-size="30">(a)</text>
<rect x="495.1" y="531.79" width="8.9" height="8.77" fill="#f7f7f7"/>
<rect x="495.1" y="523.32" width="8.9" height="8.77" fill="#f0f0f0"/>
<rect x="495.1" y="514.85" width="8.9" height="8.77" fill="#e9e9e9"/>
<rect x="495.1" y="506.38" width="8.9" height="8.77" fill="#e2e2e1"/>
<rect x="495.1" y="497.92" width="8.9" height="8.77" fill="#dbdbda"/>
<rect x="495.1" y="489.45" width="8.9" height="8.77" fill="#d4d4d3"/>
<rect x="495.1" y="480.98" width="8.9" height="8.77" fill="#cdcdcc"/>
<rect x="495.1" y="472.52" width="8.9" height="8.77" fill="#c6c6c5"/>
<rect x="495.1" y="464.05" width="8.9" height="8.77" fill="#bfbfbe"/>
<rect x="495.1" y="455.58" width="8.9" height="8.77" fill="#b8b8b7"/>
<rect x="495.1" y="447.12" width="8.9" height="8.77" fill="#b1b1b0"/>
<rect x="495.1" y="438.65" width="8.9" height="8.77" fill="#aaaaa9"/>
<rect x="495.1" y="430.18" width="8.9" height="8.77" fill="#a3a3a2"/>
<rect x="495.1" y="421.72" width="8.9" height="8.77" fill="#9c9c9b"/>
<rect x="495.1" y="413.25" width="8.9" height="8.77" fill="#82e487"/>
<rect x="495.1" y="404.78" width="8.9" height="8.77" fill="#7ad980"/>
<rect x="495.1" y="396.31" width="8.9" height="8.77" fill="#73ce78"/>
<rect x="495.1" y="387.85" width="8.9" height="8.77" fill="#6cc470"/>
<rect x="495.1" y="379.38" width="8.9" height="8.77" fill="#64b969"/>
<rect x="495.1" y="370.91" width="8.9" height="8.77" fill="#cdd7ff"/>
<rect x="495.1" y="362.45" width="8.9" height="8.77" fill="#b3ceff"/>
<rect x="495.1" y="353.98" width="8.9" height="8.77" fill="#98c6ff"/>
<rect x="495.1" y="345.51" width="8.9" height="8.77" fill="#7ebdff"/>
<rect x="495.1" y="337.05" width="8.9" height="8.77" fill="#64b4ff"/>
<rect x="495.1" y="328.58" width="8.9" height="8.77" fill="#50aaff"/>
<rect x="495.1" y="320.11" width="8.9" height="8.77" fill="#488cff"/>
<rect x="495.1" y="311.64" width="8.9" height="8.77" fill="#416eff"/>
<rect x="495.1" y="303.18" width="8.9" height="8.77" fill="#3a50ff"/>
<rect x="495.1" y="294.71" width="8.9" height="8.77" fill="#3232ff"/>
<rect x="495.1" y="286.24" width="8.9" height="8.77" fill="#0000ff"/>
<rect x="495.1" y="277.78" width="8.9" height="8.77" fill="#0000f1"/>
<rect x="495.1" y="269.31" width="8.9" height="8.77" fill="#0000e4"/>
<rect x="495.1" y="260.84" width="8.9" height="8.77" fill="#0000d6"/>
<rect x="495.1" y="252.38" width="8.9" height="8.77" fill="#0000c8"/>
<rect x="495.1" y="243.91" width="8.9" height="8.77" fill="#ffff00"/>
<rect x="495.1" y="235.44" width="8.9" height="8.77" fill="#fff200"/>
<rect x="495.1" y="226.97" width="8.9" height="8.77" fill="#ffe600"/>
<rect x="495.1" y="218.51" width="8.9" height="8.77" fill="#ffda00"/>
<rect x="495.1" y="210.04" width="8.9" height="8.77" fill="#ffcd00"/>
<rect x="495.1" y="201.57" width="8.9" height="8.77" fill="#ff9100"/>
<rect x="495.1" y="193.11" width="8.9" height="8.77" fill="#ff8a00"/>
<rect x="495.1" y="184.64" width="8.9" height="8.77" fill="#ff8200"/>
<rect x="495.1" y="176.17" width="8.9" height="8.77" fill="#ff7a00"/>
<rect x="495.1" y="167.71" width="8.9" height="8.77" fill="#ff7300"/>
<rect x="495.1" y="159.24" width="8.9" height="8.77" fill="#ff4100"/>
<rect x="495.1" y="150.77" width="8.9" height="8.77" fill="#ff3700"/>
<rect x="495.1" y="142.30" width="8.9" height="8.77" fill="#ff2d00"/>
<rect x="495.1" y="133.84" width="8.9" height="8.77" fill="#ff2300"/>
<rect x="495.1" y="125.37" width="8.9" height="8.77" fill="#ff1900"/>
<rect x="495.1" y="116.90" width="8.9" height="8.77" fill="#c80000"/>
<rect x="495.1" y="108.44" width="8.9" height="8.77" fill="#be0400"/>
<rect x="495.1" y="99.97" width="8.9" height="8.77" fill="#b40800"/>
<rect x="495.1" y="91.50" width="8.9" height="8.77" fill="#aa0b00"/>
<rect x="495.1" y="83.03" width="8.9" height="8.77" fill="#a00f00"/>
<rect x="495.1" y="74.57" width="8.9" height="8.77" fill="#640f05"/>
<rect x="495.1" y="66.10" width="8.9" height="8.77" fill="#60120a"/>
<rect x="495.1" y="57.63" width="8.9" height="8.77" fill="#5c140f"/>
<rect x="495.1" y="49.17" width="8.9" height="8.77" fill="#591614"/>
<rect x="495.1" y="40.70" width="8.9" height="8.77" fill="#551919"/>
<line x1="504.0" x2="506.3" y1="91.5" y2="91.5" stroke="#000" stroke-width="0.8"/>
<text x="524.2" y="99.9" font-size="20.7" text-anchor="middle">54</text>
<line x1="504.0" x2="506.3" y1="142.3" y2="142.3" stroke="#000" stroke-width="0.8"/>
<text x="524.2" y="150.7" font-size="20.7" text-anchor="middle">48</text>
<line x1="504.0" x2="506.3" y1="193.1" y2="193.1" stroke="#000" stroke-width="0.8"/>
<text x="524.2" y="201.5" font-size="20.7" text-anchor="middle">42</text>
<line x1="504.0" x2="506.3" y1="243.9" y2="243.9" stroke="#000" stroke-width="0.8"/>
<text x="524.2" y="252.3" font-size="20.7" text-anchor="middle">36</text>
<line x1="504.0" x2="506.3" y1="294.7" y2="294.7" stroke="#000" stroke-width="0.8"/>
<text x="524.2" y="303.1" font-size="20.7" text-anchor="middle">30</text>
<line x1="504.0" x2="506.3" y1="345.5" y2="345.5" stroke="#000" stroke-width="0.8"/>
<text x="524.2" y="353.9" font-size="20.7" text-anchor="middle">24</text>
<line x1="504.0" x2="506.3" y1="396.3" y2="396.3" stroke="#000" stroke-width="0.8"/>
<text x="524.2" y="404.7" font-size="20.7" text-anchor="middle">18</text>
<line x1="504.0" x2="506.3" y1="447.1" y2="447.1" stroke="#000" stroke-width="0.8"/>
<text x="524.2" y="455.5" font-size="20.7" text-anchor="middle">12</text>
<line x1="504.0" x2="506.3" y1="497.9" y2="497.9" stroke="#000" stroke-width="0.8"/>
<text x="524.2" y="506.3" font-size="20.7" text-anchor="middle">6</text>
<line x1="504.0" x2="506.3" y1="548.7" y2="548.7" stroke="#000" stroke-width="0.8"/>
<text x="524.2" y="557.1" font-size="20.7" text-anchor="middle">0</text>
</g>
<g transform="translate(590.33 0.00)">
<g clip-path="url(#pc)"><g filter="url(#cmb)"><polygon points="0.0,30.0 500.0,30.0 500.0,560.0 0.0,560.0" fill="#020202"/><ellipse cx="151.6" cy="44.9" rx="1.7" ry="1.6" fill="#6a6a6a"/><ellipse cx="159.2" cy="44.9" rx="1.7" ry="1.6" fill="#6a6a6a"/><ellipse cx="195.7" cy="44.9" rx="1.7" ry="1.6" fill="#6a6a6a"/><ellipse cx="218.5" cy="67.8" rx="1.7" ry="1.6" fill="#6a6a6a"/><ellipse cx="200.7" cy="105.9" rx="1.7" ry="1.6" fill="#6a6a6a"/><ellipse cx="261.7" cy="139.2" rx="1.7" ry="1.6" fill="#6a6a6a"/><ellipse cx="245.6" cy="124.2" rx="1.7" ry="1.6" fill="#626262"/><ellipse cx="254.9" cy="127.4" rx="1.7" ry="1.6" fill="#626262"/><ellipse cx="205.8" cy="50.3" rx="2.1" ry="2.4" fill="#727272" transform="rotate(20 205.8 50.3)"/><ellipse cx="208.0" cy="121.3" rx="2.0" ry="1.9" fill="#727272"/><ellipse cx="306.8" cy="111.4" rx="1.7" ry="1.6" fill="#626262"/><ellipse cx="313.0" cy="113.0" rx="1.7" ry="1.6" fill="#626262"/><ellipse cx="313.0" cy="115.7" rx="1.7" ry="1.6" fill="#6a6a6a"/><ellipse cx="337.2" cy="116.7" rx="1.7" ry="1.6" fill="#626262"/><ellipse cx="338.8" cy="126.9" rx="1.7" ry="1.6" fill="#6a6a6a"/><ellipse cx="311.1" cy="132.2" rx="1.7" ry="1.6" fill="#727272"/><ellipse cx="317.6" cy="136.2" rx="1.7" ry="1.6" fill="#6a6a6a"/><ellipse cx="309.9" cy="147.1" rx="1.7" ry="1.6" fill="#6a6a6a"/><ellipse cx="312.6" cy="148.4" rx="1.7" ry="1.6" fill="#6a6a6a"/><ellipse cx="321.1" cy="158.7" rx="1.7" ry="1.6" fill="#626262"/><ellipse cx="412.1" cy="153.1" rx="1.7" ry="1.6" fill="#727272"/><ellipse cx="426.0" cy="179.7" rx="1.7" ry="1.6" fill="#727272"/><ellipse cx="406.1" cy="190.4" rx="1.7" ry="1.6" fill="#6a6a6a"/><ellipse cx="421.7" cy="197.8" rx="1.7" ry="1.6" fill="#626262"/><ellipse cx="379.7" cy="217.0" rx="1.7" ry="1.6" fill="#6a6a6a"/><ellipse cx="470.7" cy="272.9" rx="1.7" ry="1.6" fill="#727272"/><ellipse cx="409.3" cy="251.2" rx="1.7" ry="1.6" fill="#6a6a6a"/><ellipse cx="440.7" cy="146.3" rx="1.7" ry="1.6" fill="#6a6a6a"/><g filter="url(#b0_7)"><ellipse cx="337.8" cy="120.8" rx="2.9" ry="2.6" fill="#7a7a7a"/><ellipse cx="316.7" cy="134.1" rx="2.4" ry="2.1" fill="#727272"/></g><path d="M342.2 142.8L343.4 140.3" fill="none" stroke="#626262" stroke-width="2.7" stroke-linecap="round" stroke-linejoin="round"/><g filter="url(#b0_7)"><ellipse cx="316.7" cy="158.6" rx="3.7" ry="2.8" fill="#727272" transform="rotate(20 316.7 158.6)"/></g><ellipse cx="315.2" cy="157.5" rx="1.3" ry="1.1" fill="#989898"/><g filter="url(#b0_7)"><path d="M338.2 156.5C338.4 157.5 339.0 160.4 339.4 162.7C339.9 164.9 340.5 168.9 340.7 170.1" fill="none" stroke="#727272" stroke-width="4.3" stroke-linecap="round" stroke-linejoin="round"/></g><ellipse cx="339.4" cy="163.0" rx="1.3" ry="1.9" fill="#989898"/><g filter="url(#b0_7)"><ellipse cx="340.4" cy="175.7" rx="2.4" ry="1.9" fill="#6a6a6a"/><path d="M411.1 191.2C411.7 190.7 413.5 189.2 414.8 188.1C416.2 187.1 418.5 185.7 419.2 185.2" fill="none" stroke="#6a6a6a" stroke-width="3.5" stroke-linecap="round" stroke-linejoin="round"/></g><ellipse cx="412.0" cy="191.2" rx="1.8" ry="1.6" fill="#7a7a7a"/><g filter="url(#b0_7)"><ellipse cx="451.2" cy="203.3" rx="2.1" ry="1.9" fill="#727272"/></g><path d="M435.3 210.2L439.1 209.5" fill="none" stroke="#626262" stroke-width="2.8" stroke-linecap="round" stroke-linejoin="round"/><path d="M434.1 218.0L435.3 215.5" fill="none" stroke="#626262" stroke-width="2.7" stroke-linecap="round" stroke-linejoin="round"/><ellipse cx="388.8" cy="217.0" rx="1.8" ry="2.3" fill="#727272" transform="rotate(20 388.8 217.0)"/><g filter="url(#b0_7)"><path d="M446.3 223.2C447.3 223.5 450.4 224.3 452.7 225.2C455.1 226.0 459.2 227.6 460.4 228.1" fill="none" stroke="#727272" stroke-width="6.1000000000000005" stroke-linecap="round" stroke-linejoin="round"/></g><ellipse cx="449.6" cy="223.9" rx="2.7" ry="1.5" fill="#989898"/><ellipse cx="454.6" cy="225.7" rx="2.1" ry="1.3" fill="#aaaaaa"/><g filter="url(#b0_7)"><path d="M443.8 229.4C443.3 230.5 441.8 233.5 440.9 236.0C440.0 238.4 438.9 242.7 438.4 244.0" fill="none" stroke="#727272" stroke-width="7.4" stroke-linecap="round" stroke-linejoin="round"/></g><ellipse cx="441.2" cy="234.7" rx="1.2" ry="2.1" fill="#989898"/><ellipse cx="438.4" cy="238.7" rx="1.3" ry="1.5" fill="#989898"/><g filter="url(#b0_7)"><path d="M444.7 244.7C445.6 244.3 448.2 243.4 450.2 242.8C452.3 242.2 455.9 241.2 457.1 240.9" fill="none" stroke="#727272" stroke-width="6.4" stroke-linecap="round" stroke-linejoin="round"/></g><ellipse cx="447.1" cy="244.9" rx="1.6" ry="1.8" fill="#989898"/><g filter="url(#b0_7)"><polygon points="463.9,230.4 472.6,226.6 485.0,230.4 476.3,236.6 478.8,242.8 477.6,251.5 467.6,254.0 455.2,255.2 451.5,250.2 463.9,247.8 468.9,239.1 466.4,234.1" fill="#626262"/><path d="M463.9 230.4L472.6 226.6L485.0 230.4L476.3 236.6L478.8 242.8L477.6 251.5L467.6 254.0L455.2 255.2L451.5 250.2L463.9 247.8L468.9 239.1L466.4 234.1L463.9 230.4" fill="none" stroke="#626262" stroke-width="0.9" stroke-linecap="round" stroke-linejoin="round"/><path d="M466.4 231.6C467.6 231.1 471.4 228.6 473.9 228.5C476.3 228.4 480.1 230.6 481.3 231.0" fill="none" stroke="#6a6a6a" stroke-width="3.1" stroke-linecap="round" stroke-linejoin="round"/><path d="M472.6 234.1L472.6 241.6" fill="none" stroke="#6a6a6a" stroke-width="3.3" stroke-linecap="round" stroke-linejoin="round"/><ellipse cx="472.6" cy="248.0" rx="5.0" ry="3.5" fill="#727272" transform="rotate(-20 472.6 248.0)"/></g><ellipse cx="472.0" cy="248.4" rx="3.1" ry="1.9" fill="#7a7a7a"/><g filter="url(#b0_7)"><polygon points="421.7,257.1 426.6,253.4 434.1,250.2 440.3,252.7 447.8,255.2 448.4,261.4 444.7,266.4 438.4,265.8 435.3,262.0 427.9,261.2" fill="#7a7a7a"/><path d="M421.7 257.1L426.6 253.4L434.1 250.2L440.3 252.7L447.8 255.2L448.4 261.4L444.7 266.4L438.4 265.8L435.3 262.0L427.9 261.2L421.7 257.1" fill="none" stroke="#7a7a7a" stroke-width="0.9" stroke-linecap="round" stroke-linejoin="round"/></g><ellipse cx="432.9" cy="257.1" rx="4.9" ry="2.9" fill="#989898"/><ellipse cx="434.7" cy="256.5" rx="2.3" ry="1.5" fill="#aaaaaa"/><ellipse cx="442.2" cy="261.2" rx="3.9" ry="3.3" fill="#989898"/><ellipse cx="444.0" cy="261.4" rx="1.9" ry="1.9" fill="#aaaaaa"/><path d="M451.5 251.5C452.3 251.9 454.6 254.0 456.5 254.0C458.3 254.0 461.6 251.9 462.7 251.5" fill="none" stroke="#626262" stroke-width="3.0" stroke-linecap="round" stroke-linejoin="round"/><path d="M444.0 250.2L447.8 251.5" fill="none" stroke="#6a6a6a" stroke-width="2.9" stroke-linecap="round" stroke-linejoin="round"/><g filter="url(#b0_7)"><polygon points="455.2,275.7 460.2,276.3 464.5,278.2 469.5,279.4 470.1,285.0 468.9,288.8 463.9,285.7 458.9,283.8" fill="#727272"/><path d="M455.2 275.7L460.2 276.3L464.5 278.2L469.5 279.4L470.1 285.0L468.9 288.8L463.9 285.7L458.9 283.8L455.2 275.7" fill="none" stroke="#727272" stroke-width="0.9" stroke-linecap="round" stroke-linejoin="round"/></g><ellipse cx="465.8" cy="280.7" rx="1.9" ry="2.1" fill="#989898"/><g filter="url(#b0_7)"><polygon points="475.7,285.7 478.8,281.9 485.7,281.9 486.3,299.9 481.9,296.2 478.8,290.0" fill="#6a6a6a"/><path d="M475.7 285.7L478.8 281.9L485.7 281.9L486.3 299.9L481.9 296.2L478.8 290.0L475.7 285.7" fill="none" stroke="#6a6a6a" stroke-width="0.9" stroke-linecap="round" stroke-linejoin="round"/></g><ellipse cx="479.1" cy="285.3" rx="2.5" ry="2.1" fill="#7a7a7a"/></g></g>
<path d="M244.0 40.7L254.1 47.3L264.2 53.8L274.3 60.3L284.4 66.8L294.5 73.2L304.6 79.6L314.7 86.0L324.8 92.3L334.9 98.6L345.0 104.9L355.1 111.1L365.2 117.3L375.2 123.5L385.3 129.6L395.4 135.7L405.5 141.8L415.6 147.9L425.7 153.9L435.8 159.9L445.9 165.8L456.0 171.7L466.1 177.6L476.2 183.5L486.3 189.3" stroke="#0e0e0e" stroke-width="1.0" stroke-dasharray="11.8 11.7" fill="none"/>
<path d="M77.1 40.7L94.1 52.4L111.2 64.0L128.2 75.5L145.3 87.0L162.4 98.3L179.4 109.6L196.5 120.8L213.5 131.9L230.6 142.9L247.6 153.9L264.7 164.7L281.7 175.5L298.8 186.2L315.8 196.8L332.9 207.3L349.9 217.7L367.0 228.1L384.0 238.4L401.1 248.5L418.1 258.6L435.1 268.7L452.2 278.6L469.2 288.4L486.3 298.2" stroke="#0e0e0e" stroke-width="1.0" stroke-dasharray="11.8 11.7" fill="none"/>

<path d="M33.4 41.1V549.4M112.1 41.1V549.4M190.8 41.1V549.4M269.5 41.1V549.4M348.2 41.1V549.4M426.9 41.1V549.4M12.7 80.3H486.6M12.7 164.9H486.6M12.7 249.5H486.6M12.7 334.2H486.6M12.7 418.8H486.6M12.7 503.4H486.6" stroke="#000" stroke-width="1.25" stroke-dasharray="3 5.27" fill="none"/>
<g font-size="12" text-anchor="middle">
<text x="33.4" y="312.9">58</text>
<text x="112.1" y="312.9">60</text>
<text x="190.8" y="312.9">62</text>
<text x="269.5" y="312.9">64</text>
<text x="348.2" y="312.9">66</text>
<text x="426.9" y="312.9">68</text>
<text x="249.8" y="79.7">-18</text>
<text x="249.8" y="164.3">-20</text>
<text x="249.8" y="248.9">-22</text>
<text x="249.8" y="333.6">-24</text>
<text x="249.8" y="418.2">-26</text>
<text x="249.8" y="502.8">-28</text>
</g>
<path d="M242.70000000000002 294.9H256.1M249.4 288.2V301.59999999999997" stroke="#000" stroke-width="4.6" fill="none"/>
<text x="36.7" y="65.5" font-size="25" xml:space="preserve">PR max reflectivity projection (dBZ)</text>
<text x="438.9" y="522.6" font-size="30">(b)</text>
<rect x="495.1" y="531.79" width="8.9" height="8.77" fill="#f7f7f7"/>
<rect x="495.1" y="523.32" width="8.9" height="8.77" fill="#f0f0f0"/>
<rect x="495.1" y="514.85" width="8.9" height="8.77" fill="#e9e9e9"/>
<rect x="495.1" y="506.38" width="8.9" height="8.77" fill="#e2e2e1"/>
<rect x="495.1" y="497.92" width="8.9" height="8.77" fill="#dbdbda"/>
<rect x="495.1" y="489.45" width="8.9" height="8.77" fill="#d4d4d3"/>
<rect x="495.1" y="480.98" width="8.9" height="8.77" fill="#cdcdcc"/>
<rect x="495.1" y="472.52" width="8.9" height="8.77" fill="#c6c6c5"/>
<rect x="495.1" y="464.05" width="8.9" height="8.77" fill="#bfbfbe"/>
<rect x="495.1" y="455.58" width="8.9" height="8.77" fill="#b8b8b7"/>
<rect x="495.1" y="447.12" width="8.9" height="8.77" fill="#b1b1b0"/>
<rect x="495.1" y="438.65" width="8.9" height="8.77" fill="#aaaaa9"/>
<rect x="495.1" y="430.18" width="8.9" height="8.77" fill="#a3a3a2"/>
<rect x="495.1" y="421.72" width="8.9" height="8.77" fill="#9c9c9b"/>
<rect x="495.1" y="413.25" width="8.9" height="8.77" fill="#82e487"/>
<rect x="495.1" y="404.78" width="8.9" height="8.77" fill="#7ad980"/>
<rect x="495.1" y="396.31" width="8.9" height="8.77" fill="#73ce78"/>
<rect x="495.1" y="387.85" width="8.9" height="8.77" fill="#6cc470"/>
<rect x="495.1" y="379.38" width="8.9" height="8.77" fill="#64b969"/>
<rect x="495.1" y="370.91" width="8.9" height="8.77" fill="#cdd7ff"/>
<rect x="495.1" y="362.45" width="8.9" height="8.77" fill="#b3ceff"/>
<rect x="495.1" y="353.98" width="8.9" height="8.77" fill="#98c6ff"/>
<rect x="495.1" y="345.51" width="8.9" height="8.77" fill="#7ebdff"/>
<rect x="495.1" y="337.05" width="8.9" height="8.77" fill="#64b4ff"/>
<rect x="495.1" y="328.58" width="8.9" height="8.77" fill="#50aaff"/>
<rect x="495.1" y="320.11" width="8.9" height="8.77" fill="#488cff"/>
<rect x="495.1" y="311.64" width="8.9" height="8.77" fill="#416eff"/>
<rect x="495.1" y="303.18" width="8.9" height="8.77" fill="#3a50ff"/>
<rect x="495.1" y="294.71" width="8.9" height="8.77" fill="#3232ff"/>
<rect x="495.1" y="286.24" width="8.9" height="8.77" fill="#0000ff"/>
<rect x="495.1" y="277.78" width="8.9" height="8.77" fill="#0000f1"/>
<rect x="495.1" y="269.31" width="8.9" height="8.77" fill="#0000e4"/>
<rect x="495.1" y="260.84" width="8.9" height="8.77" fill="#0000d6"/>
<rect x="495.1" y="252.38" width="8.9" height="8.77" fill="#0000c8"/>
<rect x="495.1" y="243.91" width="8.9" height="8.77" fill="#ffff00"/>
<rect x="495.1" y="235.44" width="8.9" height="8.77" fill="#fff200"/>
<rect x="495.1" y="226.97" width="8.9" height="8.77" fill="#ffe600"/>
<rect x="495.1" y="218.51" width="8.9" height="8.77" fill="#ffda00"/>
<rect x="495.1" y="210.04" width="8.9" height="8.77" fill="#ffcd00"/>
<rect x="495.1" y="201.57" width="8.9" height="8.77" fill="#ff9100"/>
<rect x="495.1" y="193.11" width="8.9" height="8.77" fill="#ff8a00"/>
<rect x="495.1" y="184.64" width="8.9" height="8.77" fill="#ff8200"/>
<rect x="495.1" y="176.17" width="8.9" height="8.77" fill="#ff7a00"/>
<rect x="495.1" y="167.71" width="8.9" height="8.77" fill="#ff7300"/>
<rect x="495.1" y="159.24" width="8.9" height="8.77" fill="#ff4100"/>
<rect x="495.1" y="150.77" width="8.9" height="8.77" fill="#ff3700"/>
<rect x="495.1" y="142.30" width="8.9" height="8.77" fill="#ff2d00"/>
<rect x="495.1" y="133.84" width="8.9" height="8.77" fill="#ff2300"/>
<rect x="495.1" y="125.37" width="8.9" height="8.77" fill="#ff1900"/>
<rect x="495.1" y="116.90" width="8.9" height="8.77" fill="#c80000"/>
<rect x="495.1" y="108.44" width="8.9" height="8.77" fill="#be0400"/>
<rect x="495.1" y="99.97" width="8.9" height="8.77" fill="#b40800"/>
<rect x="495.1" y="91.50" width="8.9" height="8.77" fill="#aa0b00"/>
<rect x="495.1" y="83.03" width="8.9" height="8.77" fill="#a00f00"/>
<rect x="495.1" y="74.57" width="8.9" height="8.77" fill="#640f05"/>
<rect x="495.1" y="66.10" width="8.9" height="8.77" fill="#60120a"/>
<rect x="495.1" y="57.63" width="8.9" height="8.77" fill="#5c140f"/>
<rect x="495.1" y="49.17" width="8.9" height="8.77" fill="#591614"/>
<rect x="495.1" y="40.70" width="8.9" height="8.77" fill="#551919"/>
<line x1="504.0" x2="506.3" y1="91.5" y2="91.5" stroke="#000" stroke-width="0.8"/>
<text x="524.2" y="99.9" font-size="20.7" text-anchor="middle">54</text>
<line x1="504.0" x2="506.3" y1="142.3" y2="142.3" stroke="#000" stroke-width="0.8"/>
<text x="524.2" y="150.7" font-size="20.7" text-anchor="middle">48</text>
<line x1="504.0" x2="506.3" y1="193.1" y2="193.1" stroke="#000" stroke-width="0.8"/>
<text x="524.2" y="201.5" font-size="20.7" text-anchor="middle">42</text>
<line x1="504.0" x2="506.3" y1="243.9" y2="243.9" stroke="#000" stroke-width="0.8"/>
<text x="524.2" y="252.3" font-size="20.7" text-anchor="middle">36</text>
<line x1="504.0" x2="506.3" y1="294.7" y2="294.7" stroke="#000" stroke-width="0.8"/>
<text x="524.2" y="303.1" font-size="20.7" text-anchor="middle">30</text>
<line x1="504.0" x2="506.3" y1="345.5" y2="345.5" stroke="#000" stroke-width="0.8"/>
<text x="524.2" y="353.9" font-size="20.7" text-anchor="middle">24</text>
<line x1="504.0" x2="506.3" y1="396.3" y2="396.3" stroke="#000" stroke-width="0.8"/>
<text x="524.2" y="404.7" font-size="20.7" text-anchor="middle">18</text>
<line x1="504.0" x2="506.3" y1="447.1" y2="447.1" stroke="#000" stroke-width="0.8"/>
<text x="524.2" y="455.5" font-size="20.7" text-anchor="middle">12</text>
<line x1="504.0" x2="506.3" y1="497.9" y2="497.9" stroke="#000" stroke-width="0.8"/>
<text x="524.2" y="506.3" font-size="20.7" text-anchor="middle">6</text>
<line x1="504.0" x2="506.3" y1="548.7" y2="548.7" stroke="#000" stroke-width="0.8"/>
<text x="524.2" y="557.1" font-size="20.7" text-anchor="middle">0</text>
</g>
<g transform="translate(1180.67 0.00)">
<g clip-path="url(#pc)"><g filter="url(#cmc)"><polygon points="0.0,30.0 500.0,30.0 500.0,560.0 0.0,560.0" fill="#020202"/><ellipse cx="151.6" cy="44.9" rx="1.6" ry="1.5" fill="#0c0c0c"/><ellipse cx="159.2" cy="44.9" rx="1.6" ry="1.5" fill="#0c0c0c"/><ellipse cx="195.7" cy="44.9" rx="1.6" ry="1.5" fill="#0c0c0c"/><ellipse cx="218.5" cy="67.8" rx="1.6" ry="1.5" fill="#0c0c0c"/><ellipse cx="200.7" cy="105.9" rx="1.6" ry="1.5" fill="#0c0c0c"/><ellipse cx="261.7" cy="139.2" rx="1.6" ry="1.5" fill="#0c0c0c"/><ellipse cx="245.6" cy="124.2" rx="1.6" ry="1.5" fill="#0c0c0c"/><ellipse cx="254.9" cy="127.4" rx="1.6" ry="1.5" fill="#0c0c0c"/><ellipse cx="205.8" cy="50.3" rx="2.0" ry="2.3" fill="#0c0c0c" transform="rotate(20 205.8 50.3)"/><ellipse cx="208.0" cy="121.3" rx="1.9" ry="1.8" fill="#0c0c0c"/><ellipse cx="306.8" cy="111.4" rx="1.6" ry="1.5" fill="#0c0c0c"/><ellipse cx="313.0" cy="113.0" rx="1.6" ry="1.5" fill="#0c0c0c"/><ellipse cx="313.0" cy="115.7" rx="1.6" ry="1.5" fill="#0c0c0c"/><ellipse cx="337.2" cy="116.7" rx="1.6" ry="1.5" fill="#0c0c0c"/><ellipse cx="338.8" cy="126.9" rx="1.6" ry="1.5" fill="#0c0c0c"/><ellipse cx="311.1" cy="132.2" rx="1.6" ry="1.5" fill="#0c0c0c"/><ellipse cx="317.6" cy="136.2" rx="1.6" ry="1.5" fill="#0c0c0c"/><ellipse cx="309.9" cy="147.1" rx="1.6" ry="1.5" fill="#0c0c0c"/><ellipse cx="312.6" cy="148.4" rx="1.6" ry="1.5" fill="#0c0c0c"/><ellipse cx="321.1" cy="158.7" rx="1.6" ry="1.5" fill="#0c0c0c"/><ellipse cx="412.1" cy="153.1" rx="1.6" ry="1.5" fill="#0c0c0c"/><ellipse cx="426.0" cy="179.7" rx="1.6" ry="1.5" fill="#0c0c0c"/><ellipse cx="406.1" cy="190.4" rx="1.6" ry="1.5" fill="#0c0c0c"/><ellipse cx="421.7" cy="197.8" rx="1.6" ry="1.5" fill="#0c0c0c"/><ellipse cx="379.7" cy="217.0" rx="1.6" ry="1.5" fill="#0c0c0c"/><ellipse cx="470.7" cy="272.9" rx="1.6" ry="1.5" fill="#0c0c0c"/><ellipse cx="409.3" cy="251.2" rx="1.6" ry="1.5" fill="#0c0c0c"/><ellipse cx="440.7" cy="146.3" rx="1.6" ry="1.5" fill="#0c0c0c"/><g filter="url(#b0_6)"><ellipse cx="337.8" cy="120.8" rx="2.8" ry="2.5" fill="#0c0c0c"/><ellipse cx="316.7" cy="134.1" rx="2.2" ry="2.0" fill="#0c0c0c"/></g><path d="M342.2 142.8L343.4 140.3" fill="none" stroke="#0c0c0c" stroke-width="2.5" stroke-linecap="round" stroke-linejoin="round"/><g filter="url(#b0_6)"><ellipse cx="316.7" cy="158.6" rx="3.6" ry="2.6" fill="#0c0c0c" transform="rotate(20 316.7 158.6)"/></g><ellipse cx="315.2" cy="157.5" rx="1.3" ry="1.1" fill="#282828"/><g filter="url(#b0_6)"><path d="M338.2 156.5C338.4 157.5 339.0 160.4 339.4 162.7C339.9 164.9 340.5 168.9 340.7 170.1" fill="none" stroke="#0c0c0c" stroke-width="4.1" stroke-linecap="round" stroke-linejoin="round"/></g><ellipse cx="339.4" cy="163.0" rx="1.3" ry="1.9" fill="#282828"/><g filter="url(#b0_6)"><ellipse cx="340.4" cy="175.7" rx="2.2" ry="1.9" fill="#0c0c0c"/><path d="M411.1 191.2C411.7 190.7 413.5 189.2 414.8 188.1C416.2 187.1 418.5 185.7 419.2 185.2" fill="none" stroke="#0c0c0c" stroke-width="3.3" stroke-linecap="round" stroke-linejoin="round"/></g><ellipse cx="412.0" cy="191.2" rx="1.8" ry="1.6" fill="#0c0c0c"/><g filter="url(#b0_6)"><ellipse cx="451.2" cy="203.3" rx="2.0" ry="1.9" fill="#0c0c0c"/></g><path d="M435.3 210.2L439.1 209.5" fill="none" stroke="#0c0c0c" stroke-width="2.5999999999999996" stroke-linecap="round" stroke-linejoin="round"/><path d="M434.1 218.0L435.3 215.5" fill="none" stroke="#0c0c0c" stroke-width="2.5" stroke-linecap="round" stroke-linejoin="round"/><ellipse cx="388.8" cy="217.0" rx="1.7" ry="2.2" fill="#0c0c0c" transform="rotate(20 388.8 217.0)"/><g filter="url(#b0_6)"><path d="M446.3 223.2C447.3 223.5 450.4 224.3 452.7 225.2C455.1 226.0 459.2 227.6 460.4 228.1" fill="none" stroke="#0c0c0c" stroke-width="5.9" stroke-linecap="round" stroke-linejoin="round"/></g><ellipse cx="449.6" cy="223.9" rx="2.7" ry="1.5" fill="#282828"/><ellipse cx="454.6" cy="225.7" rx="2.1" ry="1.3" fill="#525252"/><g filter="url(#b0_6)"><path d="M443.8 229.4C443.3 230.5 441.8 233.5 440.9 236.0C440.0 238.4 438.9 242.7 438.4 244.0" fill="none" stroke="#0c0c0c" stroke-width="7.2" stroke-linecap="round" stroke-linejoin="round"/></g><ellipse cx="441.2" cy="234.7" rx="1.2" ry="2.1" fill="#282828"/><ellipse cx="438.4" cy="238.7" rx="1.3" ry="1.5" fill="#282828"/><g filter="url(#b0_6)"><path d="M444.7 244.7C445.6 244.3 448.2 243.4 450.2 242.8C452.3 242.2 455.9 241.2 457.1 240.9" fill="none" stroke="#0c0c0c" stroke-width="6.2" stroke-linecap="round" stroke-linejoin="round"/></g><ellipse cx="447.1" cy="244.9" rx="1.6" ry="1.8" fill="#282828"/><g filter="url(#b0_6)"><polygon points="463.9,230.4 472.6,226.6 485.0,230.4 476.3,236.6 478.8,242.8 477.6,251.5 467.6,254.0 455.2,255.2 451.5,250.2 463.9,247.8 468.9,239.1 466.4,234.1" fill="#0c0c0c"/><path d="M463.9 230.4L472.6 226.6L485.0 230.4L476.3 236.6L478.8 242.8L477.6 251.5L467.6 254.0L455.2 255.2L451.5 250.2L463.9 247.8L468.9 239.1L466.4 234.1L463.9 230.4" fill="none" stroke="#0c0c0c" stroke-width="0.7" stroke-linecap="round" stroke-linejoin="round"/><path d="M466.4 231.6C467.6 231.1 471.4 228.6 473.9 228.5C476.3 228.4 480.1 230.6 481.3 231.0" fill="none" stroke="#0c0c0c" stroke-width="2.9000000000000004" stroke-linecap="round" stroke-linejoin="round"/><path d="M472.6 234.1L472.6 241.6" fill="none" stroke="#0c0c0c" stroke-width="3.0999999999999996" stroke-linecap="round" stroke-linejoin="round"/><ellipse cx="472.6" cy="248.0" rx="4.9" ry="3.4" fill="#0c0c0c" transform="rotate(-20 472.6 248.0)"/></g><ellipse cx="472.0" cy="248.4" rx="3.1" ry="1.9" fill="#0c0c0c"/><g filter="url(#b0_6)"><polygon points="421.7,257.1 426.6,253.4 434.1,250.2 440.3,252.7 447.8,255.2 448.4,261.4 444.7,266.4 438.4,265.8 435.3,262.0 427.9,261.2" fill="#0c0c0c"/><path d="M421.7 257.1L426.6 253.4L434.1 250.2L440.3 252.7L447.8 255.2L448.4 261.4L444.7 266.4L438.4 265.8L435.3 262.0L427.9 261.2L421.7 257.1" fill="none" stroke="#0c0c0c" stroke-width="0.7" stroke-linecap="round" stroke-linejoin="round"/></g><ellipse cx="432.9" cy="257.1" rx="4.9" ry="2.9" fill="#282828"/><ellipse cx="434.7" cy="256.5" rx="2.3" ry="1.5" fill="#525252"/><ellipse cx="442.2" cy="261.2" rx="3.9" ry="3.3" fill="#282828"/><ellipse cx="444.0" cy="261.4" rx="1.9" ry="1.9" fill="#525252"/><path d="M451.5 251.5C452.3 251.9 454.6 254.0 456.5 254.0C458.3 254.0 461.6 251.9 462.7 251.5" fill="none" stroke="#0c0c0c" stroke-width="2.8" stroke-linecap="round" stroke-linejoin="round"/><path d="M444.0 250.2L447.8 251.5" fill="none" stroke="#0c0c0c" stroke-width="2.7" stroke-linecap="round" stroke-linejoin="round"/><g filter="url(#b0_6)"><polygon points="455.2,275.7 460.2,276.3 464.5,278.2 469.5,279.4 470.1,285.0 468.9,288.8 463.9,285.7 458.9,283.8" fill="#0c0c0c"/><path d="M455.2 275.7L460.2 276.3L464.5 278.2L469.5 279.4L470.1 285.0L468.9 288.8L463.9 285.7L458.9 283.8L455.2 275.7" fill="none" stroke="#0c0c0c" stroke-width="0.7" stroke-linecap="round" stroke-linejoin="round"/></g><ellipse cx="465.8" cy="280.7" rx="1.9" ry="2.1" fill="#282828"/><g filter="url(#b0_6)"><polygon points="475.7,285.7 478.8,281.9 485.7,281.9 486.3,299.9 481.9,296.2 478.8,290.0" fill="#0c0c0c"/><path d="M475.7 285.7L478.8 281.9L485.7 281.9L486.3 299.9L481.9 296.2L478.8 290.0L475.7 285.7" fill="none" stroke="#0c0c0c" stroke-width="0.7" stroke-linecap="round" stroke-linejoin="round"/></g><ellipse cx="479.1" cy="285.3" rx="2.5" ry="2.1" fill="#0c0c0c"/></g></g>
<path d="M244.0 40.7L254.1 47.3L264.2 53.8L274.3 60.3L284.4 66.8L294.5 73.2L304.6 79.6L314.7 86.0L324.8 92.3L334.9 98.6L345.0 104.9L355.1 111.1L365.2 117.3L375.2 123.5L385.3 129.6L395.4 135.7L405.5 141.8L415.6 147.9L425.7 153.9L435.8 159.9L445.9 165.8L456.0 171.7L466.1 177.6L476.2 183.5L486.3 189.3" stroke="#0e0e0e" stroke-width="1.0" stroke-dasharray="11.8 11.7" fill="none"/>
<path d="M77.1 40.7L94.1 52.4L111.2 64.0L128.2 75.5L145.3 87.0L162.4 98.3L179.4 109.6L196.5 120.8L213.5 131.9L230.6 142.9L247.6 153.9L264.7 164.7L281.7 175.5L298.8 186.2L315.8 196.8L332.9 207.3L349.9 217.7L367.0 228.1L384.0 238.4L401.1 248.5L418.1 258.6L435.1 268.7L452.2 278.6L469.2 288.4L486.3 298.2" stroke="#0e0e0e" stroke-width="1.0" stroke-dasharray="11.8 11.7" fill="none"/>

<path d="M33.4 41.1V549.4M112.1 41.1V549.4M190.8 41.1V549.4M269.5 41.1V549.4M348.2 41.1V549.4M426.9 41.1V549.4M12.7 80.3H486.6M12.7 164.9H486.6M12.7 249.5H486.6M12.7 334.2H486.6M12.7 418.8H486.6M12.7 503.4H486.6" stroke="#000" stroke-width="1.25" stroke-dasharray="3 5.27" fill="none"/>
<g font-size="12" text-anchor="middle">
<text x="33.4" y="312.9">58</text>
<text x="112.1" y="312.9">60</text>
<text x="190.8" y="312.9">62</text>
<text x="269.5" y="312.9">64</text>
<text x="348.2" y="312.9">66</text>
<text x="426.9" y="312.9">68</text>
<text x="249.8" y="79.7">-18</text>
<text x="249.8" y="164.3">-20</text>
<text x="249.8" y="248.9">-22</text>
<text x="249.8" y="333.6">-24</text>
<text x="249.8" y="418.2">-26</text>
<text x="249.8" y="502.8">-28</text>
</g>
<path d="M242.70000000000002 294.9H256.1M249.4 288.2V301.59999999999997" stroke="#000" stroke-width="4.6" fill="none"/>
<text x="36.7" y="65.5" font-size="25" xml:space="preserve">2A25 near surface rainrate (mm/hr)</text>
<text x="438.9" y="522.6" font-size="30">(c)</text>
<rect x="495.1" y="531.79" width="8.9" height="8.77" fill="#82e487"/>
<rect x="495.1" y="523.32" width="8.9" height="8.77" fill="#82e487"/>
<rect x="495.1" y="514.85" width="8.9" height="8.77" fill="#7ad980"/>
<rect x="495.1" y="506.38" width="8.9" height="8.77" fill="#73ce78"/>
<rect x="495.1" y="497.92" width="8.9" height="8.77" fill="#6cc470"/>
<rect x="495.1" y="489.45" width="8.9" height="8.77" fill="#6cc470"/>
<rect x="495.1" y="480.98" width="8.9" height="8.77" fill="#64b969"/>
<rect x="495.1" y="472.52" width="8.9" height="8.77" fill="#cdd7ff"/>
<rect x="495.1" y="464.05" width="8.9" height="8.77" fill="#b3ceff"/>
<rect x="495.1" y="455.58" width="8.9" height="8.77" fill="#b3ceff"/>
<rect x="495.1" y="447.12" width="8.9" height="8.77" fill="#98c6ff"/>
<rect x="495.1" y="438.65" width="8.9" height="8.77" fill="#7ebdff"/>
<rect x="495.1" y="430.18" width="8.9" height="8.77" fill="#64b4ff"/>
<rect x="495.1" y="421.72" width="8.9" height="8.77" fill="#64b4ff"/>
<rect x="495.1" y="413.25" width="8.9" height="8.77" fill="#50aaff"/>
<rect x="495.1" y="404.78" width="8.9" height="8.77" fill="#488cff"/>
<rect x="495.1" y="396.31" width="8.9" height="8.77" fill="#416eff"/>
<rect x="495.1" y="387.85" width="8.9" height="8.77" fill="#416eff"/>
<rect x="495.1" y="379.38" width="8.9" height="8.77" fill="#3a50ff"/>
<rect x="495.1" y="370.91" width="8.9" height="8.77" fill="#3232ff"/>
<rect x="495.1" y="362.45" width="8.9" height="8.77" fill="#0000ff"/>
<rect x="495.1" y="353.98" width="8.9" height="8.77" fill="#0000ff"/>
<rect x="495.1" y="345.51" width="8.9" height="8.77" fill="#0000f1"/>
<rect x="495.1" y="337.05" width="8.9" height="8.77" fill="#0000e4"/>
<rect x="495.1" y="328.58" width="8.9" height="8.77" fill="#0000d6"/>
<rect x="495.1" y="320.11" width="8.9" height="8.77" fill="#0000d6"/>
<rect x="495.1" y="311.64" width="8.9" height="8.77" fill="#0000c8"/>
<rect x="495.1" y="303.18" width="8.9" height="8.77" fill="#ffff00"/>
<rect x="495.1" y="294.71" width="8.9" height="8.77" fill="#fff200"/>
<rect x="495.1" y="286.24" width="8.9" height="8.77" fill="#fff200"/>
<rect x="495.1" y="277.78" width="8.9" height="8.77" fill="#ffe600"/>
<rect x="495.1" y="269.31" width="8.9" height="8.77" fill="#ffda00"/>
<rect x="495.1" y="260.84" width="8.9" height="8.77" fill="#ffcd00"/>
<rect x="495.1" y="252.38" width="8.9" height="8.77" fill="#ffcd00"/>
<rect x="495.1" y="243.91" width="8.9" height="8.77" fill="#ff9100"/>
<rect x="495.1" y="235.44" width="8.9" height="8.77" fill="#ff8a00"/>
<rect x="495.1" y="226.97" width="8.9" height="8.77" fill="#ff8200"/>
<rect x="495.1" y="218.51" width="8.9" height="8.77" fill="#ff8200"/>
<rect x="495.1" y="210.04" width="8.9" height="8.77" fill="#ff7a00"/>
<rect x="495.1" y="201.57" width="8.9" height="8.77" fill="#ff7300"/>
<rect x="495.1" y="193.11" width="8.9" height="8.77" fill="#ff4100"/>
<rect x="495.1" y="184.64" width="8.9" height="8.77" fill="#ff4100"/>
<rect x="495.1" y="176.17" width="8.9" height="8.77" fill="#ff3700"/>
<rect x="495.1" y="167.71" width="8.9" height="8.77" fill="#ff2d00"/>
<rect x="495.1" y="159.24" width="8.9" height="8.77" fill="#ff2300"/>
<rect x="495.1" y="150.77" width="8.9" height="8.77" fill="#ff2300"/>
<rect x="495.1" y="142.30" width="8.9" height="8.77" fill="#ff1900"/>
<rect x="495.1" y="133.84" width="8.9" height="8.77" fill="#c80000"/>
<rect x="495.1" y="125.37" width="8.9" height="8.77" fill="#be0400"/>
<rect x="495.1" y="116.90" width="8.9" height="8.77" fill="#be0400"/>
<rect x="495.1" y="108.44" width="8.9" height="8.77" fill="#b40800"/>
<rect x="495.1" y="99.97" width="8.9" height="8.77" fill="#aa0b00"/>
<rect x="495.1" y="91.50" width="8.9" height="8.77" fill="#a00f00"/>
<rect x="495.1" y="83.03" width="8.9" height="8.77" fill="#a00f00"/>
<rect x="495.1" y="74.57" width="8.9" height="8.77" fill="#640f05"/>
<rect x="495.1" y="66.10" width="8.9" height="8.77" fill="#60120a"/>
<rect x="495.1" y="57.63" width="8.9" height="8.77" fill="#5c140f"/>
<rect x="495.1" y="49.17" width="8.9" height="8.77" fill="#5c140f"/>
<rect x="495.1" y="40.70" width="8.9" height="8.77" fill="#591614"/>
<line x1="504.0" x2="506.3" y1="91.5" y2="91.5" stroke="#000" stroke-width="0.8"/>
<text x="524.2" y="99.9" font-size="20.7" text-anchor="middle">54</text>
<line x1="504.0" x2="506.3" y1="142.3" y2="142.3" stroke="#000" stroke-width="0.8"/>
<text x="524.2" y="150.7" font-size="20.7" text-anchor="middle">48</text>
<line x1="504.0" x2="506.3" y1="193.1" y2="193.1" stroke="#000" stroke-width="0.8"/>
<text x="524.2" y="201.5" font-size="20.7" text-anchor="middle">42</text>
<line x1="504.0" x2="506.3" y1="243.9" y2="243.9" stroke="#000" stroke-width="0.8"/>
<text x="524.2" y="252.3" font-size="20.7" text-anchor="middle">36</text>
<line x1="504.0" x2="506.3" y1="294.7" y2="294.7" stroke="#000" stroke-width="0.8"/>
<text x="524.2" y="303.1" font-size="20.7" text-anchor="middle">30</text>
<line x1="504.0" x2="506.3" y1="345.5" y2="345.5" stroke="#000" stroke-width="0.8"/>
<text x="524.2" y="353.9" font-size="20.7" text-anchor="middle">24</text>
<line x1="504.0" x2="506.3" y1="396.3" y2="396.3" stroke="#000" stroke-width="0.8"/>
<text x="524.2" y="404.7" font-size="20.7" text-anchor="middle">18</text>
<line x1="504.0" x2="506.3" y1="447.1" y2="447.1" stroke="#000" stroke-width="0.8"/>
<text x="524.2" y="455.5" font-size="20.7" text-anchor="middle">12</text>
<line x1="504.0" x2="506.3" y1="497.9" y2="497.9" stroke="#000" stroke-width="0.8"/>
<text x="524.2" y="506.3" font-size="20.7" text-anchor="middle">6</text>
<line x1="504.0" x2="506.3" y1="548.7" y2="548.7" stroke="#000" stroke-width="0.8"/>
<text x="524.2" y="557.1" font-size="20.7" text-anchor="middle">0</text>
</g>
<g transform="translate(0.00 590.33)">
<g clip-path="url(#pc)"><g clip-path="url(#tmiclip)"><g filter="url(#cmd)"><polygon points="0.0,30.0 500.0,30.0 500.0,560.0 0.0,560.0" fill="#0f0f0f"/><g filter="url(#b9)"><polygon points="392.1,41.3 449.0,41.3 458.5,120.3 411.1,114.0" fill="#141414"/></g><g filter="url(#b7)"><path d="M19.0 129.8L34.8 148.8" fill="none" stroke="#181818" stroke-width="14" stroke-linecap="round" stroke-linejoin="round"/></g><g filter="url(#b3_5)"><path d="M378.1 44.0C381.6 46.7 392.2 53.7 399.3 60.1C406.3 66.4 416.9 78.4 420.5 82.1" fill="none" stroke="#242424" stroke-width="9" stroke-linecap="round" stroke-linejoin="round"/></g><g filter="url(#b2)"><path d="M397.6 99.0L416.2 101.6" fill="none" stroke="#1c1c1c" stroke-width="4" stroke-linecap="round" stroke-linejoin="round"/></g><g filter="url(#b3)"><path d="M424.7 116.0L441.6 127.0" fill="none" stroke="#1e1e1e" stroke-width="7" stroke-linecap="round" stroke-linejoin="round"/><path d="M467.0 51.6L485.7 70.2" fill="none" stroke="#1e1e1e" stroke-width="8" stroke-linecap="round" stroke-linejoin="round"/><path d="M454.3 224.5L484.0 235.5" fill="none" stroke="#202020" stroke-width="7" stroke-linecap="round" stroke-linejoin="round"/><path d="M475.5 235.5C471.3 239.7 457.2 255.8 450.1 260.9C443.0 266.0 436.0 265.1 433.2 266.0" fill="none" stroke="#202020" stroke-width="7" stroke-linecap="round" stroke-linejoin="round"/><path d="M369.6 276.1L390.8 294.8" fill="none" stroke="#1c1c1c" stroke-width="7" stroke-linecap="round" stroke-linejoin="round"/><path d="M437.4 299.0L450.1 307.5" fill="none" stroke="#1e1e1e" stroke-width="8" stroke-linecap="round" stroke-linejoin="round"/><path d="M467.0 290.5L485.7 297.3" fill="none" stroke="#1e1e1e" stroke-width="8" stroke-linecap="round" stroke-linejoin="round"/><path d="M379.7 282.3L391.6 294.2" fill="none" stroke="#262626" stroke-width="9" stroke-linecap="round" stroke-linejoin="round"/></g><g filter="url(#b4)"><path d="M314.5 300.1C317.5 303.1 326.8 313.3 332.3 317.9C337.8 322.4 345.1 325.8 347.7 327.4" fill="none" stroke="#222222" stroke-width="10" stroke-linecap="round" stroke-linejoin="round"/></g><g filter="url(#b3)"><path d="M367.9 312.0L385.7 323.8" fill="none" stroke="#222222" stroke-width="8" stroke-linecap="round" stroke-linejoin="round"/><path d="M329.9 329.7L338.2 338.0" fill="none" stroke="#262626" stroke-width="8" stroke-linecap="round" stroke-linejoin="round"/><path d="M373.1 379.6C379.4 377.5 398.4 371.2 411.1 367.0C423.7 362.8 442.7 356.4 449.0 354.3" fill="none" stroke="#1c1c1c" stroke-width="6" stroke-linecap="round" stroke-linejoin="round"/></g><g filter="url(#b4)"><path d="M395.3 379.6L411.1 389.1" fill="none" stroke="#1a1a1a" stroke-width="8" stroke-linecap="round" stroke-linejoin="round"/></g><g filter="url(#b5)"><path d="M278.3 272.1L300.4 294.3" fill="none" stroke="#1a1a1a" stroke-width="10" stroke-linecap="round" stroke-linejoin="round"/></g><g filter="url(#b0_7)"><ellipse cx="373.9" cy="55.0" rx="3.2" ry="2.2" fill="#4e4e4e" transform="rotate(-15 373.9 55.0)"/><polygon points="378.1,52.9 384.0,53.7 390.8,55.8 391.7,59.2 385.7,58.0 379.8,55.8" fill="#484848"/><path d="M397.6 64.3C398.2 63.5 401.4 63.2 402.7 63.9C403.9 64.6 405.2 67.5 405.2 68.5C405.2 69.6 403.7 70.2 402.7 70.2C401.7 70.2 400.1 69.5 399.3 68.5C398.4 67.6 397.0 65.1 397.6 64.3Z" fill="#484848"/><polygon points="470.4,60.1 475.5,56.7 477.2,51.6 486.5,55.0 486.5,62.6 480.6,65.2 473.0,64.3" fill="#464646"/></g><g filter="url(#b0_9)"><polygon points="474.7,60.1 478.9,55.0 483.1,56.7 482.3,61.8 477.2,63.5" fill="#5e5e5e"/></g><g filter="url(#b0_6)"><ellipse cx="404.8" cy="111.3" rx="1.7" ry="1.7" fill="#4e4e4e"/></g><g filter="url(#b0_7)"><path d="M414.5 113.4C415.0 112.7 417.7 111.2 418.8 111.7C419.8 112.3 421.3 116.1 420.9 116.8C420.5 117.5 417.3 116.5 416.2 116.0C415.2 115.4 414.1 114.1 414.5 113.4Z" fill="#484848"/></g><g filter="url(#b0_6)"><ellipse cx="466.2" cy="229.1" rx="1.7" ry="1.7" fill="#4e4e4e"/><ellipse cx="451.4" cy="247.3" rx="1.5" ry="1.5" fill="#4a4a4a"/></g><g filter="url(#b0_7)"><path d="M434.9 258.4C435.1 257.4 435.1 256.0 437.4 255.8C439.7 255.6 445.9 257.1 448.4 257.1C451.0 257.1 451.5 255.5 452.6 255.8C453.8 256.2 455.2 257.8 455.2 259.2C455.2 260.6 453.9 263.7 452.6 264.3C451.4 264.8 449.5 262.9 447.6 262.6C445.6 262.2 442.8 262.4 440.8 262.2C438.8 262.0 436.7 262.0 435.7 261.3C434.7 260.7 434.6 259.3 434.9 258.4Z" fill="#464646"/></g><g filter="url(#b0_8)"><path d="M441.6 258.8C442.1 258.4 447.3 258.1 449.3 258.4C451.2 258.6 453.2 259.3 453.5 260.0C453.8 260.8 452.1 262.4 451.0 262.6C449.8 262.7 448.3 261.5 446.7 260.9C445.2 260.3 441.2 259.2 441.6 258.8Z" fill="#585858"/></g><g filter="url(#b0_7)"><ellipse cx="451.0" cy="260.2" rx="2.2" ry="1.8" fill="#646464"/></g><g filter="url(#b0_6)"><ellipse cx="468.7" cy="285.0" rx="1.7" ry="1.5" fill="#4e4e4e"/></g><g filter="url(#b0_7)"><polygon points="449.3,299.9 458.6,299.0 467.0,303.2 473.0,300.7 485.7,299.0 487.4,305.8 475.5,309.2 467.0,313.4 462.8,317.6 457.7,312.6 453.5,310.0 456.0,304.9" fill="#464646"/></g><g filter="url(#b0_8)"><polygon points="457.7,305.8 464.5,305.8 468.7,310.0 462.8,315.1 458.6,311.7" fill="#545454"/></g><g filter="url(#b0_6)"><ellipse cx="445.4" cy="302.0" rx="1.4" ry="1.4" fill="#4e4e4e"/><ellipse cx="449.7" cy="310.6" rx="2.4" ry="1.3" fill="#4a4a4a" transform="rotate(25 449.7 310.6)"/><ellipse cx="439.9" cy="315.9" rx="1.4" ry="1.4" fill="#4e4e4e"/><ellipse cx="448.8" cy="316.4" rx="1.5" ry="1.5" fill="#4e4e4e"/><ellipse cx="358.6" cy="298.2" rx="2.0" ry="1.7" fill="#4e4e4e" transform="rotate(30 358.6 298.2)"/></g><g filter="url(#b0_7)"><path d="M348.5 310.0C348.6 308.3 352.8 308.3 355.2 309.2C357.6 310.0 360.6 312.8 362.9 315.1C365.1 317.4 369.1 321.9 368.8 322.7C368.5 323.6 363.6 320.7 361.2 320.2C358.8 319.6 356.5 321.0 354.4 319.3C352.3 317.6 348.3 311.7 348.5 310.0Z" fill="#484848"/></g><g filter="url(#b0_8)"><path d="M351.0 311.7C350.9 310.7 354.4 310.9 356.1 311.7C357.8 312.6 361.0 315.8 361.2 316.8C361.3 317.8 358.6 318.5 356.9 317.6C355.2 316.8 351.2 312.7 351.0 311.7Z" fill="#5a5a5a"/><ellipse cx="357.4" cy="315.1" rx="2.6" ry="1.6" fill="#7e7e7e" transform="rotate(35 357.4 315.1)"/></g><g filter="url(#b0_7)"><path d="M345.1 326.1C345.9 325.4 349.6 324.6 352.7 324.8C355.8 325.1 362.6 326.8 363.7 327.8C364.8 328.8 362.2 330.6 359.5 330.8C356.8 331.0 350.0 329.9 347.6 329.1C345.2 328.3 344.2 326.8 345.1 326.1Z" fill="#484848"/><polygon points="352.7,327.0 359.5,327.8 356.9,329.5" fill="#585858"/><polygon points="335.8,334.5 344.2,333.3 356.0,335.7 366.7,341.6 360.8,344.0 353.6,340.4 354.2,347.5 344.2,341.6 339.4,340.4" fill="#484848"/></g><g filter="url(#b0_8)"><polygon points="343.0,335.7 352.5,336.9 351.3,341.6 344.2,339.2" fill="#5a5a5a"/></g><g filter="url(#b0_7)"><ellipse cx="331.1" cy="341.2" rx="3.0" ry="2.0" fill="#484848" transform="rotate(10 331.1 341.2)"/><polygon points="325.2,345.2 335.8,347.5 347.7,354.6 351.3,359.4 347.7,362.4 338.2,358.2" fill="#484848"/></g><g filter="url(#b0_9)"><polygon points="328.7,346.9 338.2,351.1 345.3,358.2 338.2,356.4" fill="#6a6a6a"/></g><g filter="url(#b0_8)"><ellipse cx="336.4" cy="352.9" rx="3.5" ry="1.7" fill="#828282" transform="rotate(35 336.4 352.9)"/></g><g filter="url(#b0_7)"><path d="M359.6 357.0C361.3 355.4 365.9 353.9 367.9 354.6C369.8 355.4 371.4 359.4 371.4 361.8C371.4 364.1 369.4 367.5 367.9 368.9C366.3 370.3 363.7 370.9 361.9 370.1C360.2 369.3 357.6 366.3 357.2 364.1C356.8 362.0 357.8 358.6 359.6 357.0Z" fill="#484848"/><polygon points="361.9,358.2 366.7,358.2 365.5,364.1" fill="#565656"/></g><g filter="url(#b0_6)"><ellipse cx="354.2" cy="352.3" rx="1.5" ry="1.3" fill="#4e4e4e"/><ellipse cx="370.2" cy="353.7" rx="1.5" ry="1.3" fill="#4e4e4e"/><ellipse cx="348.9" cy="358.8" rx="2.5" ry="1.5" fill="#4a4a4a" transform="rotate(40 348.9 358.8)"/><ellipse cx="414.2" cy="362.6" rx="2.2" ry="1.3" fill="#4a4a4a" transform="rotate(20 414.2 362.6)"/><polygon points="422.1,360.0 434.8,356.9 435.7,360.0 425.3,362.6" fill="#4a4a4a"/></g><g filter="url(#b0_7)"><polygon points="256.4,283.5 271.8,290.0 282.5,291.8 290.8,301.3 296.7,302.5 303.8,310.8 306.8,316.7 303.8,322.6 302.1,332.1 268.3,315.5 256.4,300.1" fill="#464646"/></g><g filter="url(#b0_8)"><path d="M270.6 293.0L280.1 301.3" fill="none" stroke="#585858" stroke-width="3.4" stroke-linecap="round" stroke-linejoin="round"/><path d="M284.9 313.1L293.2 320.3" fill="none" stroke="#5a5a5a" stroke-width="4" stroke-linecap="round" stroke-linejoin="round"/><path d="M283.7 320.3L290.8 323.8" fill="none" stroke="#646464" stroke-width="3" stroke-linecap="round" stroke-linejoin="round"/></g><g filter="url(#b0_7)"><polygon points="231.5,288.2 237.4,285.3 245.7,288.2 245.7,295.4" fill="#464646"/></g></g></g><g clip-path="url(#tmiclip)"><text x="217.3" y="199.3" font-size="21" text-anchor="middle" transform="rotate(-90 217.3 199.3)">250</text><polygon points="316.8,26.0 311.7,28.9 306.6,31.9 301.6,35.1 296.7,38.4 291.9,41.9 287.2,45.5 282.6,49.3 278.2,53.2 273.8,57.2 269.6,61.4 265.5,65.7 261.6,70.1 257.7,74.6 254.1,79.2 250.5,84.0 247.1,88.9 243.9,93.8 240.8,98.9 237.9,104.0 235.1,109.2 232.5,114.6 230.0,120.0 227.7,125.4 225.6,130.9 223.6,136.5 221.8,142.2 220.2,147.9 218.8,153.6 217.5,159.4 216.4,165.2 215.5,171.1 214.8,177.0 214.2,182.9 213.8,188.8 213.6,194.7 213.6,200.6 213.8,206.6 214.1,212.5 214.6,218.4 215.3,224.3 216.2,230.1 217.3,235.9 218.5,241.7 219.9,247.5 221.5,253.2 223.2,258.9 225.1,264.5 227.2,270.0 229.5,275.5 231.9,280.9 234.5,286.2 237.2,291.5 240.1,296.6 243.2,301.7 246.4,306.7 249.8,311.6 253.3,316.3 256.9,321.0 260.7,325.6 264.7,330.0 286.4,330.0 282.0,324.6 277.8,319.1 273.7,313.4 269.9,307.6 266.4,301.6 263.0,295.5 259.9,289.3 257.0,283.0 254.4,276.5 252.0,270.0 249.9,263.4 248.0,256.7 246.4,249.9 245.0,243.1 243.9,236.2 243.1,229.3 242.5,222.4 242.2,215.4 242.2,208.5 242.4,201.5 242.8,194.6 243.6,187.7 244.6,180.8 245.9,174.0 247.4,167.2 249.2,160.4 251.2,153.8 253.5,147.2 256.0,140.7 258.8,134.4 261.8,128.1 265.1,122.0 268.6,115.9 272.3,110.1 276.2,104.3 280.4,98.7 284.7,93.3 289.3,88.1 294.0,83.0 299.0,78.1 304.1,73.4 309.4,68.9 314.9,64.6 320.5,60.5 326.3,56.7 332.2,53.0 338.3,49.6 344.5,46.4 350.8,43.5 357.2,40.8 363.7,38.3 370.3,36.1 377.0,34.1 383.7,32.4 390.5,31.0 397.4,29.8 404.3,28.9 411.2,28.2 418.1,27.8 425.1,27.7" fill="#0e0e0e"/><polyline points="313.1,26.0 308.0,28.9 302.9,32.0 297.9,35.2 293.1,38.6 288.3,42.1 283.7,45.7 279.1,49.5 274.7,53.5 270.4,57.5 266.2,61.7 262.2,66.0 258.3,70.5 254.5,75.0 250.9,79.7 247.4,84.4 244.0,89.3 240.8,94.3 237.8,99.4 234.9,104.5 232.1,109.8 229.6,115.1 227.2,120.5 224.9,126.0 222.8,131.5 220.9,137.1 219.2,142.7 217.6,148.4 216.2,154.2 215.0,160.0 213.9,165.8 213.1,171.7 212.4,177.5 211.8,183.4 211.5,189.3 211.3,195.2 211.4,201.1 211.6,207.1 211.9,213.0 212.5,218.8 213.2,224.7 214.2,230.6 215.2,236.4 216.5,242.2 217.9,247.9 219.6,253.6 221.3,259.2 223.3,264.8 225.4,270.3 227.7,275.8 230.1,281.2 232.8,286.5 235.5,291.7 238.5,296.8 241.5,301.9 244.8,306.8 248.2,311.7 251.7,316.4 255.4,321.1 259.2,325.6 263.1,330.0" fill="none" stroke="#0e0e0e" stroke-width="0.90"/><polygon points="426.1,28.0 419.2,28.2 412.2,28.6 405.3,29.2 398.4,30.2 391.6,31.3 384.8,32.8 378.0,34.5 371.4,36.4 364.8,38.6 358.3,41.1 351.9,43.8 345.6,46.7 339.4,49.9 333.3,53.3 327.4,56.9 321.6,60.8 316.0,64.9 310.5,69.2 305.2,73.7 300.1,78.3 295.2,83.2 290.4,88.3 285.8,93.5 281.5,98.9 277.3,104.5 273.4,110.2 269.7,116.1 266.2,122.1 262.9,128.3 259.9,134.5 257.1,140.9 254.6,147.3 252.3,153.9 250.2,160.5 248.5,167.3 246.9,174.0 245.6,180.9 244.6,187.7 243.9,194.6 243.4,201.6 243.2,208.5 243.2,215.5 243.5,222.4 244.1,229.3 244.9,236.2 246.0,243.1 247.3,249.9 248.9,256.7 250.8,263.4 252.9,270.0 255.3,276.5 257.9,283.0 260.8,289.3 263.8,295.5 267.2,301.6 270.7,307.6 274.5,313.4 278.5,319.1 282.7,324.6 287.1,330.0 289.0,330.0 284.6,324.6 280.5,319.1 276.5,313.4 272.8,307.6 269.3,301.6 266.0,295.5 263.0,289.3 260.2,282.9 257.6,276.5 255.3,270.0 253.2,263.3 251.4,256.7 249.8,249.9 248.5,243.1 247.4,236.3 246.7,229.4 246.1,222.5 245.9,215.5 245.9,208.6 246.1,201.7 246.6,194.8 247.4,187.9 248.4,181.1 249.7,174.2 251.3,167.5 253.1,160.8 255.2,154.2 257.5,147.7 260.0,141.2 262.8,134.9 265.9,128.7 269.1,122.6 272.6,116.6 276.4,110.7 280.3,105.0 284.5,99.5 288.8,94.1 293.4,88.9 298.1,83.8 303.1,79.0 308.2,74.3 313.5,69.9 319.0,65.6 324.6,61.5 330.4,57.7 336.3,54.1 342.3,50.7 348.5,47.5 354.8,44.6 361.1,41.9 367.6,39.5 374.2,37.3 380.8,35.4 387.6,33.7 394.3,32.2 401.2,31.1 408.0,30.2 414.9,29.5 421.9,29.1 428.8,29.0" fill="#0e0e0e"/><polygon points="429.7,29.3 422.8,29.4 415.8,29.8 409.0,30.5 402.1,31.4 395.3,32.6 388.5,34.0 381.8,35.7 375.1,37.6 368.6,39.8 362.1,42.2 355.7,44.9 349.4,47.8 343.3,51.0 337.2,54.4 331.3,58.0 325.6,61.8 320.0,65.8 314.5,70.1 309.2,74.6 304.1,79.2 299.1,84.1 294.4,89.1 289.8,94.3 285.5,99.7 281.3,105.2 277.4,110.9 273.6,116.7 270.1,122.7 266.9,128.8 263.8,135.0 261.0,141.3 258.5,147.8 256.1,154.3 254.1,160.9 252.3,167.6 250.7,174.3 249.4,181.1 248.3,188.0 247.5,194.8 247.0,201.7 246.8,208.7 246.7,215.6 247.0,222.5 247.5,229.4 248.3,236.3 249.3,243.1 250.6,249.9 252.2,256.7 254.0,263.3 256.1,269.9 258.4,276.5 260.9,282.9 263.7,289.2 266.7,295.5 270.0,301.6 273.5,307.5 277.2,313.4 281.1,319.1 285.3,324.6 289.6,330.0 294.8,330.0 290.6,324.6 286.6,319.0 282.8,313.3 279.2,307.4 275.9,301.5 272.7,295.4 269.8,289.1 267.1,282.8 264.7,276.4 262.5,269.9 260.6,263.3 258.9,256.6 257.4,249.9 256.2,243.2 255.3,236.4 254.6,229.5 254.2,222.7 254.0,215.8 254.1,208.9 254.5,202.1 255.1,195.3 255.9,188.4 257.1,181.7 258.4,174.9 260.1,168.3 261.9,161.7 264.0,155.1 266.4,148.7 269.0,142.3 271.8,136.1 274.9,129.9 278.2,123.9 281.7,118.0 285.5,112.3 289.4,106.6 293.6,101.2 298.0,95.9 302.5,90.7 307.3,85.8 312.2,81.0 317.3,76.4 322.6,72.0 328.0,67.8 333.6,63.9 339.4,60.1 345.2,56.5 351.2,53.2 357.4,50.1 363.6,47.2 369.9,44.6 376.4,42.2 382.9,40.0 389.5,38.1 396.1,36.5 402.9,35.1 409.6,33.9 416.4,33.0 423.3,32.4 430.1,32.0 437.0,31.8" fill="#0e0e0e"/><polygon points="437.9,32.2 431.1,32.3 424.2,32.7 417.4,33.3 410.6,34.2 403.8,35.4 397.1,36.8 390.5,38.4 383.9,40.3 377.4,42.5 370.9,44.9 364.6,47.5 358.4,50.4 352.3,53.5 346.3,56.8 340.4,60.4 334.7,64.1 329.1,68.1 323.6,72.3 318.4,76.7 313.2,81.2 308.3,86.0 303.6,91.0 299.0,96.1 294.6,101.4 290.5,106.8 286.5,112.4 282.8,118.2 279.3,124.1 276.0,130.1 272.9,136.2 270.0,142.5 267.4,148.8 265.1,155.2 262.9,161.8 261.1,168.4 259.4,175.0 258.1,181.7 256.9,188.5 256.1,195.3 255.4,202.1 255.1,209.0 255.0,215.8 255.1,222.7 255.5,229.5 256.2,236.4 257.1,243.2 258.3,249.9 259.7,256.6 261.4,263.3 263.4,269.9 265.5,276.4 267.9,282.8 270.6,289.1 273.5,295.3 276.6,301.4 280.0,307.4 283.5,313.3 287.3,319.0 291.3,324.6 295.5,330.0 296.3,330.0 292.2,324.6 288.2,319.0 284.4,313.3 280.9,307.4 277.5,301.4 274.4,295.3 271.6,289.1 268.9,282.8 266.5,276.4 264.4,269.9 262.5,263.3 260.8,256.6 259.4,249.9 258.2,243.2 257.3,236.4 256.7,229.6 256.3,222.7 256.1,215.9 256.2,209.0 256.6,202.2 257.2,195.4 258.1,188.6 259.2,181.8 260.6,175.1 262.3,168.5 264.2,161.9 266.3,155.4 268.7,148.9 271.3,142.6 274.1,136.4 277.2,130.3 280.5,124.3 284.0,118.4 287.8,112.6 291.7,107.1 295.9,101.6 300.3,96.3 304.8,91.2 309.6,86.3 314.5,81.5 319.6,77.0 324.9,72.6 330.3,68.4 335.9,64.4 341.6,60.7 347.5,57.1 353.5,53.8 359.6,50.7 365.8,47.9 372.2,45.3 378.6,42.9 385.1,40.7 391.7,38.8 398.3,37.2 405.0,35.8 411.8,34.6 418.6,33.7 425.4,33.1 432.2,32.7 439.1,32.6" fill="#0e0e0e"/><text x="327" y="70" font-size="21" text-anchor="middle" transform="rotate(-50 327 70)">250</text></g></g>
<path d="M244.0 40.7L254.1 47.3L264.2 53.8L274.3 60.3L284.4 66.8L294.5 73.2L304.6 79.6L314.7 86.0L324.8 92.3L334.9 98.6L345.0 104.9L355.1 111.1L365.2 117.3L375.2 123.5L385.3 129.6L395.4 135.7L405.5 141.8L415.6 147.9L425.7 153.9L435.8 159.9L445.9 165.8L456.0 171.7L466.1 177.6L476.2 183.5L486.3 189.3" stroke="#0e0e0e" stroke-width="1.0" stroke-dasharray="11.8 11.7" fill="none"/>
<path d="M77.1 40.7L94.1 52.4L111.2 64.0L128.2 75.5L145.3 87.0L162.4 98.3L179.4 109.6L196.5 120.8L213.5 131.9L230.6 142.9L247.6 153.9L264.7 164.7L281.7 175.5L298.8 186.2L315.8 196.8L332.9 207.3L349.9 217.7L367.0 228.1L384.0 238.4L401.1 248.5L418.1 258.6L435.1 268.7L452.2 278.6L469.2 288.4L486.3 298.2" stroke="#0e0e0e" stroke-width="1.0" stroke-dasharray="11.8 11.7" fill="none"/>

<path d="M33.4 41.1V549.4M112.1 41.1V549.4M190.8 41.1V549.4M269.5 41.1V549.4M348.2 41.1V549.4M426.9 41.1V549.4M12.7 80.3H486.6M12.7 164.9H486.6M12.7 249.5H486.6M12.7 334.2H486.6M12.7 418.8H486.6M12.7 503.4H486.6" stroke="#000" stroke-width="1.25" stroke-dasharray="3 5.27" fill="none"/>
<g font-size="12" text-anchor="middle">
<text x="33.4" y="312.9">58</text>
<text x="112.1" y="312.9">60</text>
<text x="190.8" y="312.9">62</text>
<text x="269.5" y="312.9">64</text>
<text x="348.2" y="312.9">66</text>
<text x="426.9" y="312.9">68</text>
<text x="249.8" y="79.7">-18</text>
<text x="249.8" y="164.3">-20</text>
<text x="249.8" y="248.9">-22</text>
<text x="249.8" y="333.6">-24</text>
<text x="249.8" y="418.2">-26</text>
<text x="249.8" y="502.8">-28</text>
</g>
<text x="36.7" y="65.5" font-size="25" xml:space="preserve"> 85GHz PCT (K)</text>
<text x="438.9" y="522.6" font-size="30">(d)</text>
<rect x="495.1" y="531.79" width="8.9" height="8.77" fill="#f7f7f7"/>
<rect x="495.1" y="523.32" width="8.9" height="8.77" fill="#f0f0f0"/>
<rect x="495.1" y="514.85" width="8.9" height="8.77" fill="#e9e9e9"/>
<rect x="495.1" y="506.38" width="8.9" height="8.77" fill="#e2e2e1"/>
<rect x="495.1" y="497.92" width="8.9" height="8.77" fill="#dbdbda"/>
<rect x="495.1" y="489.45" width="8.9" height="8.77" fill="#d4d4d3"/>
<rect x="495.1" y="480.98" width="8.9" height="8.77" fill="#cdcdcc"/>
<rect x="495.1" y="472.52" width="8.9" height="8.77" fill="#c6c6c5"/>
<rect x="495.1" y="464.05" width="8.9" height="8.77" fill="#bfbfbe"/>
<rect x="495.1" y="455.58" width="8.9" height="8.77" fill="#b8b8b7"/>
<rect x="495.1" y="447.12" width="8.9" height="8.77" fill="#b1b1b0"/>
<rect x="495.1" y="438.65" width="8.9" height="8.77" fill="#aaaaa9"/>
<rect x="495.1" y="430.18" width="8.9" height="8.77" fill="#a3a3a2"/>
<rect x="495.1" y="421.72" width="8.9" height="8.77" fill="#9c9c9b"/>
<rect x="495.1" y="413.25" width="8.9" height="8.77" fill="#82e487"/>
<rect x="495.1" y="404.78" width="8.9" height="8.77" fill="#7ad980"/>
<rect x="495.1" y="396.31" width="8.9" height="8.77" fill="#73ce78"/>
<rect x="495.1" y="387.85" width="8.9" height="8.77" fill="#6cc470"/>
<rect x="495.1" y="379.38" width="8.9" height="8.77" fill="#64b969"/>
<rect x="495.1" y="370.91" width="8.9" height="8.77" fill="#cdd7ff"/>
<rect x="495.1" y="362.45" width="8.9" height="8.77" fill="#b3ceff"/>
<rect x="495.1" y="353.98" width="8.9" height="8.77" fill="#98c6ff"/>
<rect x="495.1" y="345.51" width="8.9" height="8.77" fill="#7ebdff"/>
<rect x="495.1" y="337.05" width="8.9" height="8.77" fill="#64b4ff"/>
<rect x="495.1" y="328.58" width="8.9" height="8.77" fill="#50aaff"/>
<rect x="495.1" y="320.11" width="8.9" height="8.77" fill="#488cff"/>
<rect x="495.1" y="311.64" width="8.9" height="8.77" fill="#416eff"/>
<rect x="495.1" y="303.18" width="8.9" height="8.77" fill="#3a50ff"/>
<rect x="495.1" y="294.71" width="8.9" height="8.77" fill="#3232ff"/>
<rect x="495.1" y="286.24" width="8.9" height="8.77" fill="#0000ff"/>
<rect x="495.1" y="277.78" width="8.9" height="8.77" fill="#0000f1"/>
<rect x="495.1" y="269.31" width="8.9" height="8.77" fill="#0000e4"/>
<rect x="495.1" y="260.84" width="8.9" height="8.77" fill="#0000d6"/>
<rect x="495.1" y="252.38" width="8.9" height="8.77" fill="#0000c8"/>
<rect x="495.1" y="243.91" width="8.9" height="8.77" fill="#ffff00"/>
<rect x="495.1" y="235.44" width="8.9" height="8.77" fill="#fff200"/>
<rect x="495.1" y="226.97" width="8.9" height="8.77" fill="#ffe600"/>
<rect x="495.1" y="218.51" width="8.9" height="8.77" fill="#ffda00"/>
<rect x="495.1" y="210.04" width="8.9" height="8.77" fill="#ffcd00"/>
<rect x="495.1" y="201.57" width="8.9" height="8.77" fill="#ff9100"/>
<rect x="495.1" y="193.11" width="8.9" height="8.77" fill="#ff8a00"/>
<rect x="495.1" y="184.64" width="8.9" height="8.77" fill="#ff8200"/>
<rect x="495.1" y="176.17" width="8.9" height="8.77" fill="#ff7a00"/>
<rect x="495.1" y="167.71" width="8.9" height="8.77" fill="#ff7300"/>
<rect x="495.1" y="159.24" width="8.9" height="8.77" fill="#ff4100"/>
<rect x="495.1" y="150.77" width="8.9" height="8.77" fill="#ff3700"/>
<rect x="495.1" y="142.30" width="8.9" height="8.77" fill="#ff2d00"/>
<rect x="495.1" y="133.84" width="8.9" height="8.77" fill="#ff2300"/>
<rect x="495.1" y="125.37" width="8.9" height="8.77" fill="#ff1900"/>
<rect x="495.1" y="116.90" width="8.9" height="8.77" fill="#c80000"/>
<rect x="495.1" y="108.44" width="8.9" height="8.77" fill="#be0400"/>
<rect x="495.1" y="99.97" width="8.9" height="8.77" fill="#b40800"/>
<rect x="495.1" y="91.50" width="8.9" height="8.77" fill="#aa0b00"/>
<rect x="495.1" y="83.03" width="8.9" height="8.77" fill="#a00f00"/>
<rect x="495.1" y="74.57" width="8.9" height="8.77" fill="#640f05"/>
<rect x="495.1" y="66.10" width="8.9" height="8.77" fill="#60120a"/>
<rect x="495.1" y="57.63" width="8.9" height="8.77" fill="#5c140f"/>
<rect x="495.1" y="49.17" width="8.9" height="8.77" fill="#591614"/>
<rect x="495.1" y="40.70" width="8.9" height="8.77" fill="#551919"/>
<line x1="504.0" x2="506.3" y1="91.5" y2="91.5" stroke="#000" stroke-width="0.8"/>
<text x="524.2" y="99.9" font-size="20.7" text-anchor="middle">111</text>
<line x1="504.0" x2="506.3" y1="142.3" y2="142.3" stroke="#000" stroke-width="0.8"/>
<text x="524.2" y="150.7" font-size="20.7" text-anchor="middle">132</text>
<line x1="504.0" x2="506.3" y1="193.1" y2="193.1" stroke="#000" stroke-width="0.8"/>
<text x="524.2" y="201.5" font-size="20.7" text-anchor="middle">153</text>
<line x1="504.0" x2="506.3" y1="243.9" y2="243.9" stroke="#000" stroke-width="0.8"/>
<text x="524.2" y="252.3" font-size="20.7" text-anchor="middle">174</text>
<line x1="504.0" x2="506.3" y1="294.7" y2="294.7" stroke="#000" stroke-width="0.8"/>
<text x="524.2" y="303.1" font-size="20.7" text-anchor="middle">195</text>
<line x1="504.0" x2="506.3" y1="345.5" y2="345.5" stroke="#000" stroke-width="0.8"/>
<text x="524.2" y="353.9" font-size="20.7" text-anchor="middle">216</text>
<line x1="504.0" x2="506.3" y1="396.3" y2="396.3" stroke="#000" stroke-width="0.8"/>
<text x="524.2" y="404.7" font-size="20.7" text-anchor="middle">237</text>
<line x1="504.0" x2="506.3" y1="447.1" y2="447.1" stroke="#000" stroke-width="0.8"/>
<text x="524.2" y="455.5" font-size="20.7" text-anchor="middle">258</text>
<line x1="504.0" x2="506.3" y1="497.9" y2="497.9" stroke="#000" stroke-width="0.8"/>
<text x="524.2" y="506.3" font-size="20.7" text-anchor="middle">279</text>
<line x1="504.0" x2="506.3" y1="548.7" y2="548.7" stroke="#000" stroke-width="0.8"/>
<text x="524.2" y="557.1" font-size="20.7" text-anchor="middle">300</text>
</g>
<g transform="translate(590.33 590.33)">
<g clip-path="url(#pc)"><g clip-path="url(#tmiclip)"><g filter="url(#cme)"><polygon points="0.0,30.0 500.0,30.0 500.0,560.0 0.0,560.0" fill="#424242"/><g filter="url(#b9)"><polygon points="12.0,30.0 270.0,30.0 230.0,80.0 140.0,100.0 60.0,105.0 12.0,130.0" fill="#3f3f3f"/></g><g filter="url(#b3)"><polygon points="6.8,41.0 184.7,41.0 179.1,50.2 152.2,62.9 143.8,77.0 118.4,81.3 108.5,68.5 88.7,65.0 69.0,71.4 56.3,58.7 37.9,50.2 25.2,77.0 15.3,113.7 6.8,119.4" fill="#3c3c3c"/></g><g filter="url(#b2)"><polygon points="56.3,41.0 179.1,41.0 150.8,55.8 136.7,71.4 119.8,75.6 108.5,62.9 88.7,58.7 66.1,62.9" fill="#383838"/><polygon points="425.1,27.7 418.1,27.8 411.2,28.2 404.3,28.9 397.4,29.8 390.5,31.0 383.7,32.4 377.0,34.1 370.3,36.1 363.7,38.3 357.2,40.8 350.8,43.5 344.5,46.4 338.3,49.6 332.2,53.0 326.3,56.7 320.5,60.5 314.9,64.6 309.4,68.9 304.1,73.4 299.0,78.1 294.0,83.0 289.3,88.1 284.7,93.3 280.4,98.7 276.2,104.3 272.3,110.1 268.6,115.9 265.1,122.0 261.8,128.1 258.8,134.4 256.0,140.7 253.5,147.2 251.2,153.8 249.2,160.4 247.4,167.2 245.9,174.0 244.6,180.8 243.6,187.7 242.8,194.6 242.4,201.5 242.2,208.5 242.2,215.4 242.5,222.4 243.1,229.3 243.9,236.2 245.0,243.1 246.4,249.9 248.0,256.7 249.9,263.4 252.0,270.0 254.4,276.5 257.0,283.0 259.9,289.3 263.0,295.5 266.4,301.6 269.9,307.6 273.7,313.4 277.8,319.1 282.0,324.6 286.4,330.0 486.6,440.0 486.6,40.0" fill="#4b4b4b"/></g><g filter="url(#b5)"><polygon points="330.0,40.0 486.0,40.0 486.0,120.0 380.0,100.0" fill="#4a4a4a"/></g><g filter="url(#b3)"><polygon points="248.1,216.8 282.0,202.7 289.1,182.9 307.4,175.8 314.5,168.8 338.5,154.7 340.6,126.4 352.6,126.4 359.7,142.0 372.4,153.2 387.9,161.7 396.4,170.2 416.1,158.9 426.0,147.6 420.4,127.8 406.2,119.4 402.0,102.4 427.4,95.4 441.5,108.1 440.1,133.5 451.4,142.0 459.9,132.1 454.2,118.0 468.4,108.1 488.1,94.0 488.1,288.8 248.1,288.8 486.6,445.0 273.0,318.0" fill="#585858"/><polygon points="445.8,91.1 488.1,79.8 488.1,136.3 471.2,133.5 459.9,122.2 447.2,113.7" fill="#535353"/><polygon points="399.2,94.0 442.9,91.1 442.9,136.3 423.2,147.6 402.0,125.0" fill="#525252"/><polygon points="338.5,125.0 380.8,133.5 416.1,158.9 394.9,173.0 338.5,156.1" fill="#545454"/></g><g filter="url(#b2)"><path d="M363.9 44.5C366.7 46.4 374.5 51.6 380.8 55.8C387.2 60.1 395.2 65.7 402.0 70.0C408.8 74.2 418.5 79.4 421.8 81.3" fill="none" stroke="#595959" stroke-width="9" stroke-linecap="round" stroke-linejoin="round"/><path d="M380.8 55.8L402.0 70.0" fill="none" stroke="#646464" stroke-width="4" stroke-linecap="round" stroke-linejoin="round"/><ellipse cx="414.7" cy="113.7" rx="5.0" ry="4.0" fill="#6e6e6e"/></g><g filter="url(#b3)"><ellipse cx="478.2" cy="59.4" rx="9.0" ry="13.0" fill="#666666" transform="rotate(20 478.2 59.4)"/></g><g filter="url(#b2)"><ellipse cx="478.2" cy="60.1" rx="3.5" ry="7.0" fill="#828282" transform="rotate(20 478.2 60.1)"/></g><g filter="url(#b6)"><polygon points="275.0,239.4 338.5,211.1 409.1,189.9 488.1,175.8 488.1,288.8 253.8,288.8 486.6,460.0 273.0,330.0" fill="#5f5f5f"/><polygon points="267.9,265.0 352.6,246.6 423.2,272.0 488.1,265.0 488.1,455.5 267.9,328.5" fill="#646464"/></g><g filter="url(#b1_5)"><path d="M347.0 284.7C347.2 277.1 347.4 251.6 348.4 239.4C349.3 227.1 349.5 221.7 352.6 211.1C355.7 200.5 364.4 181.7 366.7 175.8" fill="none" stroke="#666666" stroke-width="3" stroke-linecap="round" stroke-linejoin="round"/></g><g filter="url(#b2)"><path d="M331.4 250.8C332.6 256.7 335.0 276.5 338.5 286.1C342.0 295.8 350.2 305.0 352.6 308.7" fill="none" stroke="#6c6c6c" stroke-width="5" stroke-linecap="round" stroke-linejoin="round"/><path d="M348.4 238.1C348.8 243.8 350.5 263.5 351.2 272.0C351.9 280.5 352.4 286.1 352.6 289.0" fill="none" stroke="#6e6e6e" stroke-width="4" stroke-linecap="round" stroke-linejoin="round"/><path d="M289.1 257.9C290.3 262.1 293.1 276.7 296.1 283.3C299.2 289.9 305.5 295.1 307.4 297.4" fill="none" stroke="#6c6c6c" stroke-width="4" stroke-linecap="round" stroke-linejoin="round"/><path d="M265.1 289.0C267.8 285.0 279.2 287.1 286.3 290.4C293.3 293.7 303.0 302.6 307.4 308.7C311.9 314.8 314.5 323.3 313.1 327.1C311.7 330.8 304.4 332.5 299.0 331.3C293.5 330.1 285.4 322.8 280.6 320.0C275.8 317.2 272.6 319.5 270.0 314.4C267.4 309.2 262.4 293.0 265.1 289.0Z" fill="#808080"/></g><g filter="url(#b1_5)"><path d="M286.3 308.7C289.1 308.5 302.7 316.7 306.0 320.0C309.3 323.3 308.8 328.2 306.0 328.5C303.2 328.7 292.4 324.7 289.1 321.4C285.8 318.1 283.4 309.0 286.3 308.7Z" fill="#868686"/></g><g filter="url(#b0_7)"><ellipse cx="279.9" cy="310.8" rx="3.0" ry="1.6" fill="#969696" transform="rotate(30 279.9 310.8)"/></g><g filter="url(#b2)"><path d="M324.4 342.6C324.8 338.4 333.3 328.0 338.5 325.7C343.7 323.3 353.1 325.7 355.4 328.5C357.8 331.3 353.8 337.4 352.6 342.6C351.4 347.8 351.2 358.1 348.4 359.5C345.5 360.9 339.7 353.9 335.7 351.1C331.7 348.2 323.9 346.8 324.4 342.6Z" fill="#7c7c7c"/></g><g filter="url(#b0_7)"><polygon points="330.0,348.2 337.1,349.7 344.1,358.1 338.5,356.7" fill="#969696"/></g><g filter="url(#b2)"><path d="M349.8 308.7C352.1 307.8 364.4 310.8 366.7 313.0C369.1 315.1 366.2 320.5 363.9 321.4C361.5 322.4 354.9 320.7 352.6 318.6C350.2 316.5 347.4 309.7 349.8 308.7Z" fill="#787878"/><path d="M341.3 337.0C342.2 334.6 351.9 328.0 355.4 328.5C358.9 329.0 363.4 337.4 362.5 339.8C361.5 342.1 353.3 343.1 349.8 342.6C346.2 342.1 340.4 339.3 341.3 337.0Z" fill="#7e7e7e"/><path d="M359.7 356.7C360.4 353.7 368.4 351.5 370.9 353.9C373.5 356.2 375.9 367.8 375.2 370.8C374.5 373.9 369.3 374.6 366.7 372.2C364.1 369.9 358.9 359.8 359.7 356.7Z" fill="#808080"/><path d="M428.8 314.4C432.1 313.4 442.0 310.6 448.6 308.7C455.2 306.8 461.8 305.2 468.4 303.1C474.9 301.0 484.8 297.2 488.1 296.0" fill="none" stroke="#7a7a7a" stroke-width="9" stroke-linecap="round" stroke-linejoin="round"/><path d="M459.9 308.7L488.1 303.1" fill="none" stroke="#848484" stroke-width="5" stroke-linecap="round" stroke-linejoin="round"/></g><g filter="url(#b1_5)"><path d="M433.1 257.9C434.2 256.0 440.6 253.4 444.4 253.7C448.1 253.9 454.5 257.2 455.6 259.3C456.8 261.4 454.5 265.4 451.4 266.4C448.4 267.3 440.4 266.4 437.3 265.0C434.2 263.5 431.9 259.8 433.1 257.9Z" fill="#808080"/></g><g filter="url(#b2)"><path d="M448.6 245.2C451.4 245.7 458.9 246.6 465.5 248.0C472.1 249.4 484.3 252.7 488.1 253.7" fill="none" stroke="#727272" stroke-width="6" stroke-linecap="round" stroke-linejoin="round"/><path d="M454.2 221.2C456.6 222.6 464.1 227.3 468.4 229.7C472.6 232.0 477.8 234.4 479.6 235.3" fill="none" stroke="#767676" stroke-width="5" stroke-linecap="round" stroke-linejoin="round"/><path d="M380.8 277.7C383.4 276.3 396.6 280.5 399.2 283.3C401.8 286.1 398.9 293.2 396.4 294.6C393.8 296.0 386.2 294.6 383.7 291.8C381.1 289.0 378.2 279.1 380.8 277.7Z" fill="#727272"/><path d="M423.2 345.4C425.5 346.4 432.6 350.4 437.3 351.1C442.0 351.8 449.1 349.9 451.4 349.7" fill="none" stroke="#707070" stroke-width="7" stroke-linecap="round" stroke-linejoin="round"/><path d="M409.1 360.9L423.2 360.9" fill="none" stroke="#747474" stroke-width="4" stroke-linecap="round" stroke-linejoin="round"/><path d="M366.7 325.7C369.1 326.6 376.1 330.8 380.8 331.3C385.5 331.8 392.6 329.0 394.9 328.5" fill="none" stroke="#707070" stroke-width="6" stroke-linecap="round" stroke-linejoin="round"/><path d="M373.8 342.6C376.1 343.8 383.2 349.7 387.9 349.7C392.6 349.7 399.7 343.8 402.0 342.6" fill="none" stroke="#6e6e6e" stroke-width="6" stroke-linecap="round" stroke-linejoin="round"/></g><g filter="url(#b2_5)"><polygon points="190.4,257.7 221.4,254.9 235.5,232.3 249.6,218.2 259.7,218.2 259.7,288.8 207.3,281.7" fill="#575757"/></g><g filter="url(#b2)"><polygon points="221.4,274.6 259.7,267.6 259.7,288.8" fill="#646464"/></g><ellipse cx="90.1" cy="186.4" rx="2.4" ry="1.3" fill="#565656" transform="rotate(40 90.1 186.4)"/><ellipse cx="100.0" cy="199.1" rx="2.4" ry="1.3" fill="#565656" transform="rotate(40 100.0 199.1)"/><ellipse cx="140.9" cy="214.6" rx="2.4" ry="1.3" fill="#565656" transform="rotate(40 140.9 214.6)"/><ellipse cx="149.4" cy="223.1" rx="2.4" ry="1.3" fill="#565656" transform="rotate(40 149.4 223.1)"/><ellipse cx="152.2" cy="230.2" rx="2.4" ry="1.3" fill="#565656" transform="rotate(40 152.2 230.2)"/><ellipse cx="164.9" cy="237.9" rx="2.4" ry="1.3" fill="#565656" transform="rotate(40 164.9 237.9)"/><ellipse cx="173.4" cy="222.4" rx="2.4" ry="1.3" fill="#565656" transform="rotate(40 173.4 222.4)"/><ellipse cx="187.5" cy="208.3" rx="2.4" ry="1.3" fill="#565656" transform="rotate(40 187.5 208.3)"/><ellipse cx="203.1" cy="202.7" rx="2.4" ry="1.3" fill="#565656" transform="rotate(40 203.1 202.7)"/><ellipse cx="193.2" cy="222.4" rx="2.4" ry="1.3" fill="#565656" transform="rotate(40 193.2 222.4)"/><ellipse cx="181.9" cy="233.7" rx="2.4" ry="1.3" fill="#565656" transform="rotate(40 181.9 233.7)"/><ellipse cx="207.3" cy="235.1" rx="2.4" ry="1.3" fill="#565656" transform="rotate(40 207.3 235.1)"/><ellipse cx="173.4" cy="245.0" rx="2.4" ry="1.3" fill="#565656" transform="rotate(40 173.4 245.0)"/><ellipse cx="194.6" cy="245.0" rx="2.4" ry="1.3" fill="#565656" transform="rotate(40 194.6 245.0)"/><ellipse cx="23.8" cy="130.7" rx="2.4" ry="1.3" fill="#565656" transform="rotate(40 23.8 130.7)"/><ellipse cx="29.4" cy="132.1" rx="2.4" ry="1.3" fill="#565656" transform="rotate(40 29.4 132.1)"/><ellipse cx="28.0" cy="140.5" rx="2.4" ry="1.3" fill="#565656" transform="rotate(40 28.0 140.5)"/></g></g><g clip-path="url(#tmiclip)"><polygon points="316.8,26.0 311.7,28.9 306.6,31.9 301.6,35.1 296.7,38.4 291.9,41.9 287.2,45.5 282.6,49.3 278.2,53.2 273.8,57.2 269.6,61.4 265.5,65.7 261.6,70.1 257.7,74.6 254.1,79.2 250.5,84.0 247.1,88.9 243.9,93.8 240.8,98.9 237.9,104.0 235.1,109.2 232.5,114.6 230.0,120.0 227.7,125.4 225.6,130.9 223.6,136.5 221.8,142.2 220.2,147.9 218.8,153.6 217.5,159.4 216.4,165.2 215.5,171.1 214.8,177.0 214.2,182.9 213.8,188.8 213.6,194.7 213.6,200.6 213.8,206.6 214.1,212.5 214.6,218.4 215.3,224.3 216.2,230.1 217.3,235.9 218.5,241.7 219.9,247.5 221.5,253.2 223.2,258.9 225.1,264.5 227.2,270.0 229.5,275.5 231.9,280.9 234.5,286.2 237.2,291.5 240.1,296.6 243.2,301.7 246.4,306.7 249.8,311.6 253.3,316.3 256.9,321.0 260.7,325.6 264.7,330.0 286.4,330.0 282.0,324.6 277.8,319.1 273.7,313.4 269.9,307.6 266.4,301.6 263.0,295.5 259.9,289.3 257.0,283.0 254.4,276.5 252.0,270.0 249.9,263.4 248.0,256.7 246.4,249.9 245.0,243.1 243.9,236.2 243.1,229.3 242.5,222.4 242.2,215.4 242.2,208.5 242.4,201.5 242.8,194.6 243.6,187.7 244.6,180.8 245.9,174.0 247.4,167.2 249.2,160.4 251.2,153.8 253.5,147.2 256.0,140.7 258.8,134.4 261.8,128.1 265.1,122.0 268.6,115.9 272.3,110.1 276.2,104.3 280.4,98.7 284.7,93.3 289.3,88.1 294.0,83.0 299.0,78.1 304.1,73.4 309.4,68.9 314.9,64.6 320.5,60.5 326.3,56.7 332.2,53.0 338.3,49.6 344.5,46.4 350.8,43.5 357.2,40.8 363.7,38.3 370.3,36.1 377.0,34.1 383.7,32.4 390.5,31.0 397.4,29.8 404.3,28.9 411.2,28.2 418.1,27.8 425.1,27.7" fill="#0e0e0e"/><polygon points="429.5,29.2 422.6,29.4 415.7,29.8 408.8,30.4 402.0,31.3 395.1,32.5 388.4,33.9 381.6,35.6 375.0,37.6 368.4,39.7 361.9,42.2 355.6,44.9 349.3,47.8 343.1,50.9 337.1,54.3 331.2,57.9 325.4,61.8 319.8,65.8 314.3,70.1 309.0,74.5 303.9,79.2 299.0,84.0 294.2,89.1 289.7,94.3 285.3,99.6 281.1,105.2 277.2,110.9 273.5,116.7 270.0,122.7 266.7,128.8 263.7,135.0 260.9,141.3 258.3,147.8 256.0,154.3 253.9,160.9 252.1,167.6 250.5,174.3 249.2,181.1 248.2,188.0 247.4,194.8 246.9,201.7 246.6,208.6 246.6,215.6 246.9,222.5 247.4,229.4 248.2,236.3 249.2,243.1 250.5,249.9 252.1,256.7 253.9,263.3 255.9,270.0 258.2,276.5 260.8,282.9 263.6,289.2 266.6,295.5 269.9,301.6 273.4,307.5 277.1,313.4 281.0,319.1 285.2,324.6 289.5,330.0 293.0,330.0 288.8,324.6 284.7,319.0 280.8,313.3 277.2,307.5 273.8,301.5 270.6,295.4 267.7,289.2 265.0,282.8 262.5,276.4 260.3,269.9 258.3,263.3 256.5,256.6 255.1,249.9 253.8,243.1 252.9,236.3 252.1,229.5 251.7,222.6 251.5,215.7 251.6,208.8 251.9,202.0 252.5,195.1 253.3,188.3 254.4,181.5 255.7,174.7 257.3,168.0 259.2,161.4 261.3,154.8 263.6,148.4 266.2,142.0 269.0,135.7 272.1,129.5 275.4,123.5 278.9,117.6 282.6,111.8 286.6,106.1 290.8,100.7 295.1,95.3 299.7,90.2 304.4,85.2 309.4,80.4 314.5,75.8 319.8,71.4 325.2,67.1 330.8,63.1 336.6,59.3 342.4,55.8 348.5,52.4 354.6,49.3 360.8,46.4 367.2,43.8 373.7,41.4 380.2,39.2 386.8,37.3 393.5,35.6 400.2,34.2 407.0,33.0 413.8,32.1 420.7,31.5 427.6,31.1 434.4,31.0" fill="#0e0e0e"/></g></g>
<path d="M244.0 40.7L254.1 47.3L264.2 53.8L274.3 60.3L284.4 66.8L294.5 73.2L304.6 79.6L314.7 86.0L324.8 92.3L334.9 98.6L345.0 104.9L355.1 111.1L365.2 117.3L375.2 123.5L385.3 129.6L395.4 135.7L405.5 141.8L415.6 147.9L425.7 153.9L435.8 159.9L445.9 165.8L456.0 171.7L466.1 177.6L476.2 183.5L486.3 189.3" stroke="#0e0e0e" stroke-width="1.0" stroke-dasharray="11.8 11.7" fill="none"/>
<path d="M77.1 40.7L94.1 52.4L111.2 64.0L128.2 75.5L145.3 87.0L162.4 98.3L179.4 109.6L196.5 120.8L213.5 131.9L230.6 142.9L247.6 153.9L264.7 164.7L281.7 175.5L298.8 186.2L315.8 196.8L332.9 207.3L349.9 217.7L367.0 228.1L384.0 238.4L401.1 248.5L418.1 258.6L435.1 268.7L452.2 278.6L469.2 288.4L486.3 298.2" stroke="#0e0e0e" stroke-width="1.0" stroke-dasharray="11.8 11.7" fill="none"/>

<path d="M33.4 41.1V549.4M112.1 41.1V549.4M190.8 41.1V549.4M269.5 41.1V549.4M348.2 41.1V549.4M426.9 41.1V549.4M12.7 80.3H486.6M12.7 164.9H486.6M12.7 249.5H486.6M12.7 334.2H486.6M12.7 418.8H486.6M12.7 503.4H486.6" stroke="#000" stroke-width="1.25" stroke-dasharray="3 5.27" fill="none"/>
<g font-size="12" text-anchor="middle">
<text x="33.4" y="312.9">58</text>
<text x="112.1" y="312.9">60</text>
<text x="190.8" y="312.9">62</text>
<text x="269.5" y="312.9">64</text>
<text x="348.2" y="312.9">66</text>
<text x="426.9" y="312.9">68</text>
<text x="249.8" y="79.7">-18</text>
<text x="249.8" y="164.3">-20</text>
<text x="249.8" y="248.9">-22</text>
<text x="249.8" y="333.6">-24</text>
<text x="249.8" y="418.2">-26</text>
<text x="249.8" y="502.8">-28</text>
</g>
<text x="36.7" y="65.5" font-size="25" xml:space="preserve"> 37GHz PCT (K)</text>
<text x="438.9" y="522.6" font-size="30">(e)</text>
<rect x="495.1" y="531.79" width="8.9" height="8.77" fill="#f7f7f7"/>
<rect x="495.1" y="523.32" width="8.9" height="8.77" fill="#f0f0f0"/>
<rect x="495.1" y="514.85" width="8.9" height="8.77" fill="#e9e9e9"/>
<rect x="495.1" y="506.38" width="8.9" height="8.77" fill="#e2e2e1"/>
<rect x="495.1" y="497.92" width="8.9" height="8.77" fill="#dbdbda"/>
<rect x="495.1" y="489.45" width="8.9" height="8.77" fill="#d4d4d3"/>
<rect x="495.1" y="480.98" width="8.9" height="8.77" fill="#cdcdcc"/>
<rect x="495.1" y="472.52" width="8.9" height="8.77" fill="#c6c6c5"/>
<rect x="495.1" y="464.05" width="8.9" height="8.77" fill="#bfbfbe"/>
<rect x="495.1" y="455.58" width="8.9" height="8.77" fill="#b8b8b7"/>
<rect x="495.1" y="447.12" width="8.9" height="8.77" fill="#b1b1b0"/>
<rect x="495.1" y="438.65" width="8.9" height="8.77" fill="#aaaaa9"/>
<rect x="495.1" y="430.18" width="8.9" height="8.77" fill="#a3a3a2"/>
<rect x="495.1" y="421.72" width="8.9" height="8.77" fill="#9c9c9b"/>
<rect x="495.1" y="413.25" width="8.9" height="8.77" fill="#82e487"/>
<rect x="495.1" y="404.78" width="8.9" height="8.77" fill="#7ad980"/>
<rect x="495.1" y="396.31" width="8.9" height="8.77" fill="#73ce78"/>
<rect x="495.1" y="387.85" width="8.9" height="8.77" fill="#6cc470"/>
<rect x="495.1" y="379.38" width="8.9" height="8.77" fill="#64b969"/>
<rect x="495.1" y="370.91" width="8.9" height="8.77" fill="#cdd7ff"/>
<rect x="495.1" y="362.45" width="8.9" height="8.77" fill="#b3ceff"/>
<rect x="495.1" y="353.98" width="8.9" height="8.77" fill="#98c6ff"/>
<rect x="495.1" y="345.51" width="8.9" height="8.77" fill="#7ebdff"/>
<rect x="495.1" y="337.05" width="8.9" height="8.77" fill="#64b4ff"/>
<rect x="495.1" y="328.58" width="8.9" height="8.77" fill="#50aaff"/>
<rect x="495.1" y="320.11" width="8.9" height="8.77" fill="#488cff"/>
<rect x="495.1" y="311.64" width="8.9" height="8.77" fill="#416eff"/>
<rect x="495.1" y="303.18" width="8.9" height="8.77" fill="#3a50ff"/>
<rect x="495.1" y="294.71" width="8.9" height="8.77" fill="#3232ff"/>
<rect x="495.1" y="286.24" width="8.9" height="8.77" fill="#0000ff"/>
<rect x="495.1" y="277.78" width="8.9" height="8.77" fill="#0000f1"/>
<rect x="495.1" y="269.31" width="8.9" height="8.77" fill="#0000e4"/>
<rect x="495.1" y="260.84" width="8.9" height="8.77" fill="#0000d6"/>
<rect x="495.1" y="252.38" width="8.9" height="8.77" fill="#0000c8"/>
<rect x="495.1" y="243.91" width="8.9" height="8.77" fill="#ffff00"/>
<rect x="495.1" y="235.44" width="8.9" height="8.77" fill="#fff200"/>
<rect x="495.1" y="226.97" width="8.9" height="8.77" fill="#ffe600"/>
<rect x="495.1" y="218.51" width="8.9" height="8.77" fill="#ffda00"/>
<rect x="495.1" y="210.04" width="8.9" height="8.77" fill="#ffcd00"/>
<rect x="495.1" y="201.57" width="8.9" height="8.77" fill="#ff9100"/>
<rect x="495.1" y="193.11" width="8.9" height="8.77" fill="#ff8a00"/>
<rect x="495.1" y="184.64" width="8.9" height="8.77" fill="#ff8200"/>
<rect x="495.1" y="176.17" width="8.9" height="8.77" fill="#ff7a00"/>
<rect x="495.1" y="167.71" width="8.9" height="8.77" fill="#ff7300"/>
<rect x="495.1" y="159.24" width="8.9" height="8.77" fill="#ff4100"/>
<rect x="495.1" y="150.77" width="8.9" height="8.77" fill="#ff3700"/>
<rect x="495.1" y="142.30" width="8.9" height="8.77" fill="#ff2d00"/>
<rect x="495.1" y="133.84" width="8.9" height="8.77" fill="#ff2300"/>
<rect x="495.1" y="125.37" width="8.9" height="8.77" fill="#ff1900"/>
<rect x="495.1" y="116.90" width="8.9" height="8.77" fill="#c80000"/>
<rect x="495.1" y="108.44" width="8.9" height="8.77" fill="#be0400"/>
<rect x="495.1" y="99.97" width="8.9" height="8.77" fill="#b40800"/>
<rect x="495.1" y="91.50" width="8.9" height="8.77" fill="#aa0b00"/>
<rect x="495.1" y="83.03" width="8.9" height="8.77" fill="#a00f00"/>
<rect x="495.1" y="74.57" width="8.9" height="8.77" fill="#640f05"/>
<rect x="495.1" y="66.10" width="8.9" height="8.77" fill="#60120a"/>
<rect x="495.1" y="57.63" width="8.9" height="8.77" fill="#5c140f"/>
<rect x="495.1" y="49.17" width="8.9" height="8.77" fill="#591614"/>
<rect x="495.1" y="40.70" width="8.9" height="8.77" fill="#551919"/>
<line x1="504.0" x2="506.3" y1="91.5" y2="91.5" stroke="#000" stroke-width="0.8"/>
<text x="524.2" y="99.9" font-size="20.7" text-anchor="middle">234</text>
<line x1="504.0" x2="506.3" y1="142.3" y2="142.3" stroke="#000" stroke-width="0.8"/>
<text x="524.2" y="150.7" font-size="20.7" text-anchor="middle">243</text>
<line x1="504.0" x2="506.3" y1="193.1" y2="193.1" stroke="#000" stroke-width="0.8"/>
<text x="524.2" y="201.5" font-size="20.7" text-anchor="middle">252</text>
<line x1="504.0" x2="506.3" y1="243.9" y2="243.9" stroke="#000" stroke-width="0.8"/>
<text x="524.2" y="252.3" font-size="20.7" text-anchor="middle">261</text>
<line x1="504.0" x2="506.3" y1="294.7" y2="294.7" stroke="#000" stroke-width="0.8"/>
<text x="524.2" y="303.1" font-size="20.7" text-anchor="middle">270</text>
<line x1="504.0" x2="506.3" y1="345.5" y2="345.5" stroke="#000" stroke-width="0.8"/>
<text x="524.2" y="353.9" font-size="20.7" text-anchor="middle">279</text>
<line x1="504.0" x2="506.3" y1="396.3" y2="396.3" stroke="#000" stroke-width="0.8"/>
<text x="524.2" y="404.7" font-size="20.7" text-anchor="middle">288</text>
<line x1="504.0" x2="506.3" y1="447.1" y2="447.1" stroke="#000" stroke-width="0.8"/>
<text x="524.2" y="455.5" font-size="20.7" text-anchor="middle">297</text>
<line x1="504.0" x2="506.3" y1="497.9" y2="497.9" stroke="#000" stroke-width="0.8"/>
<text x="524.2" y="506.3" font-size="20.7" text-anchor="middle">306</text>
<line x1="504.0" x2="506.3" y1="548.7" y2="548.7" stroke="#000" stroke-width="0.8"/>
<text x="524.2" y="557.1" font-size="20.7" text-anchor="middle">315</text>
</g>
<g transform="translate(1180.67 590.33)">
<g clip-path="url(#pc)"><g clip-path="url(#tmiclip)"><g filter="url(#cmf)"><polygon points="0.0,30.0 500.0,30.0 500.0,560.0 0.0,560.0" fill="#020202"/><g filter="url(#b0_6)"><polygon points="182.4,213.8 197.7,205.2 222.7,207.1 220.8,213.8 203.5,220.5 190.1,221.5" fill="#0c0c0c"/><polygon points="207.3,272.4 222.7,265.7 236.1,259.9 259.2,254.1 264.0,244.5 270.7,241.7 282.2,246.5 297.6,265.7 301.4,277.2 309.1,292.5 305.2,297.3 318.7,306.9 326.4,315.6 322.5,323.3 315.8,326.1 322.5,335.7 330.2,332.9 334.0,323.3 339.8,315.6 337.9,302.1 339.8,296.4 334.0,293.5 326.4,300.2 327.3,281.0 320.6,256.1 324.4,250.3 312.9,223.4 309.1,213.8 293.7,207.1 294.7,202.3 307.2,207.1 312.9,215.7 318.7,225.3 328.3,246.5 332.1,259.9 343.6,270.5 344.0,234.9 348.4,246.5 351.3,256.1 366.7,269.5 380.1,269.5 389.7,268.5 403.2,275.3 401.2,282.9 397.4,289.7 389.7,294.5 384.0,302.1 370.5,306.0 376.3,313.7 389.7,319.4 393.6,323.3 388.8,334.8 384.0,340.5 382.0,352.0 383.0,359.7 378.2,369.3 372.4,376.0 351.3,380.8 207.3,284.9" fill="#0c0c0c"/><polygon points="222.7,282.9 240.0,274.3 244.8,280.1 236.1,288.7" fill="#020202"/><polygon points="362.8,287.2 370.5,284.1 374.7,287.9 368.6,291.8" fill="#020202"/><polygon points="414.7,258.0 428.1,254.1 437.7,246.5 443.5,233.0 451.1,225.3 466.5,227.3 485.7,235.9 489.5,254.1 466.5,258.0 455.0,265.7 458.8,277.2 489.5,284.9 489.5,316.5 466.5,323.3 447.3,329.0 428.1,325.2 418.5,319.4 407.0,321.3 398.4,318.5 405.1,313.7 418.5,311.7 428.1,304.1 437.7,294.5 431.9,277.2 428.1,265.7" fill="#0c0c0c"/><polygon points="389.7,335.7 397.4,338.6 404.1,347.2 414.7,341.5 426.2,342.5 431.9,353.0 451.1,352.0 450.2,358.8 428.1,365.5 408.9,367.4 393.6,369.3 390.7,362.6 402.2,358.8 422.3,354.0 423.3,345.3 414.7,343.4 405.1,351.1 393.6,341.5" fill="#0c0c0c"/><polygon points="410.8,195.6 422.3,186.0 428.1,188.9 427.1,198.5 418.5,196.5" fill="#0c0c0c"/><polygon points="291.8,49.2 298.1,47.0 312.4,57.1 310.8,61.8 299.7,57.1" fill="#0c0c0c"/><polygon points="317.1,66.6 325.0,66.0 325.7,70.4 318.7,70.4" fill="#0c0c0c"/><polygon points="364.6,46.0 375.6,44.4 386.7,57.1 400.9,65.0 407.2,76.1 416.7,84.0 410.4,84.6 397.8,76.7 388.3,69.1 375.6,62.8 367.7,53.3" fill="#0c0c0c"/><polygon points="378.8,80.8 383.5,80.8 387.6,87.1 382.6,87.1" fill="#0c0c0c"/><polygon points="397.8,99.8 419.9,99.8 423.0,114.0 432.5,125.1 423.0,129.8 416.7,139.9 412.9,137.7 419.9,123.5 410.4,117.2 400.9,114.0" fill="#0c0c0c"/><polygon points="416.7,155.8 424.6,154.5 430.0,161.4 421.5,163.7" fill="#0c0c0c"/><polygon points="344.0,164.6 347.8,165.2 349.1,174.1 345.9,172.5" fill="#0c0c0c"/><polygon points="321.2,160.8 324.4,160.2 323.8,165.2 321.2,165.2" fill="#0c0c0c"/><polygon points="464.2,63.4 473.6,57.1 476.8,47.6 487.9,44.4 487.9,80.8 473.6,74.5" fill="#0c0c0c"/></g><g filter="url(#b3)"><polygon points="326.4,338.6 337.9,319.4 353.2,311.7 362.8,321.3 359.0,338.6 351.3,354.0 339.8,354.0" fill="#363636"/></g><g filter="url(#b1_2)"><path d="M324.4 342.5L337.9 354.0" fill="none" stroke="#5a5a5a" stroke-width="6" stroke-linecap="round" stroke-linejoin="round"/><path d="M336.0 321.3L343.6 336.7" fill="none" stroke="#5a5a5a" stroke-width="6" stroke-linecap="round" stroke-linejoin="round"/><path d="M351.3 311.7L359.0 321.3" fill="none" stroke="#565656" stroke-width="4" stroke-linecap="round" stroke-linejoin="round"/><path d="M343.6 342.5L351.3 350.1" fill="none" stroke="#424242" stroke-width="4" stroke-linecap="round" stroke-linejoin="round"/></g><path d="M360.9 357.8L370.5 363.6" fill="none" stroke="#2a2a2a" stroke-width="5" stroke-linecap="round" stroke-linejoin="round"/><path d="M343.6 281.0L360.9 284.9" fill="none" stroke="#2a2a2a" stroke-width="4" stroke-linecap="round" stroke-linejoin="round"/><path d="M357.1 300.2L362.8 302.1" fill="none" stroke="#2a2a2a" stroke-width="4" stroke-linecap="round" stroke-linejoin="round"/><path d="M378.2 287.7L389.7 292.5" fill="none" stroke="#2a2a2a" stroke-width="4" stroke-linecap="round" stroke-linejoin="round"/><path d="M286.0 294.5L293.7 315.6" fill="none" stroke="#2e2e2e" stroke-width="4" stroke-linecap="round" stroke-linejoin="round"/><path d="M289.9 288.7L295.6 292.5" fill="none" stroke="#3e3e3e" stroke-width="3" stroke-linecap="round" stroke-linejoin="round"/><path d="M278.4 315.6L286.0 319.4" fill="none" stroke="#363636" stroke-width="4" stroke-linecap="round" stroke-linejoin="round"/><path d="M433.9 258.0L451.1 265.7" fill="none" stroke="#424242" stroke-width="6" stroke-linecap="round" stroke-linejoin="round"/><path d="M441.5 257.0L447.3 260.9" fill="none" stroke="#2a2a2a" stroke-width="4" stroke-linecap="round" stroke-linejoin="round"/><path d="M435.8 315.6C437.7 314.9 444.4 314.0 447.3 311.7C450.2 309.5 452.1 303.7 453.1 302.1" fill="none" stroke="#363636" stroke-width="5" stroke-linecap="round" stroke-linejoin="round"/><path d="M458.8 290.6L464.6 296.4" fill="none" stroke="#2a2a2a" stroke-width="4" stroke-linecap="round" stroke-linejoin="round"/><path d="M466.5 284.9L472.3 292.5" fill="none" stroke="#2a2a2a" stroke-width="3" stroke-linecap="round" stroke-linejoin="round"/><path d="M451.1 231.1L462.7 233.0" fill="none" stroke="#2a2a2a" stroke-width="3" stroke-linecap="round" stroke-linejoin="round"/><path d="M472.1 61.8L481.5 66.6" fill="none" stroke="#363636" stroke-width="5" stroke-linecap="round" stroke-linejoin="round"/><path d="M407.2 110.9L416.7 115.6" fill="none" stroke="#2a2a2a" stroke-width="3" stroke-linecap="round" stroke-linejoin="round"/><path d="M377.2 53.9L380.4 57.1" fill="none" stroke="#2a2a2a" stroke-width="2" stroke-linecap="round" stroke-linejoin="round"/></g></g><ellipse cx="106.8" cy="98.5" rx="1.5" ry="0.9" fill="#7de182" transform="rotate(30 106.8 98.5)"/><ellipse cx="283.9" cy="42.9" rx="1.5" ry="0.9" fill="#7de182" transform="rotate(30 283.9 42.9)"/><ellipse cx="342.4" cy="125.4" rx="1.5" ry="0.9" fill="#7de182" transform="rotate(30 342.4 125.4)"/><ellipse cx="394.6" cy="221.5" rx="1.5" ry="0.9" fill="#7de182" transform="rotate(30 394.6 221.5)"/><ellipse cx="457.8" cy="207.9" rx="1.5" ry="0.9" fill="#7de182" transform="rotate(30 457.8 207.9)"/><ellipse cx="374.0" cy="254.7" rx="1.5" ry="0.9" fill="#7de182" transform="rotate(30 374.0 254.7)"/><ellipse cx="319.3" cy="199.4" rx="1.5" ry="0.9" fill="#7de182" transform="rotate(30 319.3 199.4)"/><ellipse cx="342.4" cy="218.4" rx="1.5" ry="0.9" fill="#7de182" transform="rotate(30 342.4 218.4)"/><ellipse cx="301.3" cy="215.2" rx="1.5" ry="0.9" fill="#7de182" transform="rotate(30 301.3 215.2)"/><text x="443.5" y="241.1" font-size="21" font-style="italic" text-anchor="middle" transform="rotate(70 443.5 241.1)">0</text><text x="422.3" y="329.4" font-size="21" font-style="italic" text-anchor="middle" transform="rotate(15 422.3 329.4)">0</text><text x="438.1" y="349.2" font-size="21" font-style="italic" text-anchor="middle" transform="rotate(5 438.1 349.2)">0</text><text x="381.0" y="66.0" font-size="21" font-style="italic" text-anchor="middle" transform="rotate(15 381.0 66.0)">0</text></g>
<path d="M244.0 40.7L254.1 47.3L264.2 53.8L274.3 60.3L284.4 66.8L294.5 73.2L304.6 79.6L314.7 86.0L324.8 92.3L334.9 98.6L345.0 104.9L355.1 111.1L365.2 117.3L375.2 123.5L385.3 129.6L395.4 135.7L405.5 141.8L415.6 147.9L425.7 153.9L435.8 159.9L445.9 165.8L456.0 171.7L466.1 177.6L476.2 183.5L486.3 189.3" stroke="#0e0e0e" stroke-width="1.0" stroke-dasharray="11.8 11.7" fill="none"/>
<path d="M77.1 40.7L94.1 52.4L111.2 64.0L128.2 75.5L145.3 87.0L162.4 98.3L179.4 109.6L196.5 120.8L213.5 131.9L230.6 142.9L247.6 153.9L264.7 164.7L281.7 175.5L298.8 186.2L315.8 196.8L332.9 207.3L349.9 217.7L367.0 228.1L384.0 238.4L401.1 248.5L418.1 258.6L435.1 268.7L452.2 278.6L469.2 288.4L486.3 298.2" stroke="#0e0e0e" stroke-width="1.0" stroke-dasharray="11.8 11.7" fill="none"/>

<path d="M33.4 41.1V549.4M112.1 41.1V549.4M190.8 41.1V549.4M269.5 41.1V549.4M348.2 41.1V549.4M426.9 41.1V549.4M12.7 80.3H486.6M12.7 164.9H486.6M12.7 249.5H486.6M12.7 334.2H486.6M12.7 418.8H486.6M12.7 503.4H486.6" stroke="#000" stroke-width="1.25" stroke-dasharray="3 5.27" fill="none"/>
<g font-size="12" text-anchor="middle">
<text x="33.4" y="312.9">58</text>
<text x="112.1" y="312.9">60</text>
<text x="190.8" y="312.9">62</text>
<text x="269.5" y="312.9">64</text>
<text x="348.2" y="312.9">66</text>
<text x="426.9" y="312.9">68</text>
<text x="249.8" y="79.7">-18</text>
<text x="249.8" y="164.3">-20</text>
<text x="249.8" y="248.9">-22</text>
<text x="249.8" y="333.6">-24</text>
<text x="249.8" y="418.2">-26</text>
<text x="249.8" y="502.8">-28</text>
</g>
<path d="M242.70000000000002 294.9H256.1M249.4 288.2V301.59999999999997" stroke="#000" stroke-width="4.6" fill="none"/>
<text x="36.7" y="65.5" font-size="25" xml:space="preserve">2A12 rainrate (mm/hr)</text>
<text x="438.9" y="522.6" font-size="30">(f)</text>
<rect x="495.1" y="531.79" width="8.9" height="8.77" fill="#82e487"/>
<rect x="495.1" y="523.32" width="8.9" height="8.77" fill="#82e487"/>
<rect x="495.1" y="514.85" width="8.9" height="8.77" fill="#7ad980"/>
<rect x="495.1" y="506.38" width="8.9" height="8.77" fill="#73ce78"/>
<rect x="495.1" y="497.92" width="8.9" height="8.77" fill="#6cc470"/>
<rect x="495.1" y="489.45" width="8.9" height="8.77" fill="#6cc470"/>
<rect x="495.1" y="480.98" width="8.9" height="8.77" fill="#64b969"/>
<rect x="495.1" y="472.52" width="8.9" height="8.77" fill="#cdd7ff"/>
<rect x="495.1" y="464.05" width="8.9" height="8.77" fill="#b3ceff"/>
<rect x="495.1" y="455.58" width="8.9" height="8.77" fill="#b3ceff"/>
<rect x="495.1" y="447.12" width="8.9" height="8.77" fill="#98c6ff"/>
<rect x="495.1" y="438.65" width="8.9" height="8.77" fill="#7ebdff"/>
<rect x="495.1" y="430.18" width="8.9" height="8.77" fill="#64b4ff"/>
<rect x="495.1" y="421.72" width="8.9" height="8.77" fill="#64b4ff"/>
<rect x="495.1" y="413.25" width="8.9" height="8.77" fill="#50aaff"/>
<rect x="495.1" y="404.78" width="8.9" height="8.77" fill="#488cff"/>
<rect x="495.1" y="396.31" width="8.9" height="8.77" fill="#416eff"/>
<rect x="495.1" y="387.85" width="8.9" height="8.77" fill="#416eff"/>
<rect x="495.1" y="379.38" width="8.9" height="8.77" fill="#3a50ff"/>
<rect x="495.1" y="370.91" width="8.9" height="8.77" fill="#3232ff"/>
<rect x="495.1" y="362.45" width="8.9" height="8.77" fill="#0000ff"/>
<rect x="495.1" y="353.98" width="8.9" height="8.77" fill="#0000ff"/>
<rect x="495.1" y="345.51" width="8.9" height="8.77" fill="#0000f1"/>
<rect x="495.1" y="337.05" width="8.9" height="8.77" fill="#0000e4"/>
<rect x="495.1" y="328.58" width="8.9" height="8.77" fill="#0000d6"/>
<rect x="495.1" y="320.11" width="8.9" height="8.77" fill="#0000d6"/>
<rect x="495.1" y="311.64" width="8.9" height="8.77" fill="#0000c8"/>
<rect x="495.1" y="303.18" width="8.9" height="8.77" fill="#ffff00"/>
<rect x="495.1" y="294.71" width="8.9" height="8.77" fill="#fff200"/>
<rect x="495.1" y="286.24" width="8.9" height="8.77" fill="#fff200"/>
<rect x="495.1" y="277.78" width="8.9" height="8.77" fill="#ffe600"/>
<rect x="495.1" y="269.31" width="8.9" height="8.77" fill="#ffda00"/>
<rect x="495.1" y="260.84" width="8.9" height="8.77" fill="#ffcd00"/>
<rect x="495.1" y="252.38" width="8.9" height="8.77" fill="#ffcd00"/>
<rect x="495.1" y="243.91" width="8.9" height="8.77" fill="#ff9100"/>
<rect x="495.1" y="235.44" width="8.9" height="8.77" fill="#ff8a00"/>
<rect x="495.1" y="226.97" width="8.9" height="8.77" fill="#ff8200"/>
<rect x="495.1" y="218.51" width="8.9" height="8.77" fill="#ff8200"/>
<rect x="495.1" y="210.04" width="8.9" height="8.77" fill="#ff7a00"/>
<rect x="495.1" y="201.57" width="8.9" height="8.77" fill="#ff7300"/>
<rect x="495.1" y="193.11" width="8.9" height="8.77" fill="#ff4100"/>
<rect x="495.1" y="184.64" width="8.9" height="8.77" fill="#ff4100"/>
<rect x="495.1" y="176.17" width="8.9" height="8.77" fill="#ff3700"/>
<rect x="495.1" y="167.71" width="8.9" height="8.77" fill="#ff2d00"/>
<rect x="495.1" y="159.24" width="8.9" height="8.77" fill="#ff2300"/>
<rect x="495.1" y="150.77" width="8.9" height="8.77" fill="#ff2300"/>
<rect x="495.1" y="142.30" width="8.9" height="8.77" fill="#ff1900"/>
<rect x="495.1" y="133.84" width="8.9" height="8.77" fill="#c80000"/>
<rect x="495.1" y="125.37" width="8.9" height="8.77" fill="#be0400"/>
<rect x="495.1" y="116.90" width="8.9" height="8.77" fill="#be0400"/>
<rect x="495.1" y="108.44" width="8.9" height="8.77" fill="#b40800"/>
<rect x="495.1" y="99.97" width="8.9" height="8.77" fill="#aa0b00"/>
<rect x="495.1" y="91.50" width="8.9" height="8.77" fill="#a00f00"/>
<rect x="495.1" y="83.03" width="8.9" height="8.77" fill="#a00f00"/>
<rect x="495.1" y="74.57" width="8.9" height="8.77" fill="#640f05"/>
<rect x="495.1" y="66.10" width="8.9" height="8.77" fill="#60120a"/>
<rect x="495.1" y="57.63" width="8.9" height="8.77" fill="#5c140f"/>
<rect x="495.1" y="49.17" width="8.9" height="8.77" fill="#5c140f"/>
<rect x="495.1" y="40.70" width="8.9" height="8.77" fill="#591614"/>
<line x1="504.0" x2="506.3" y1="91.5" y2="91.5" stroke="#000" stroke-width="0.8"/>
<text x="524.2" y="99.9" font-size="20.7" text-anchor="middle">54</text>
<line x1="504.0" x2="506.3" y1="142.3" y2="142.3" stroke="#000" stroke-width="0.8"/>
<text x="524.2" y="150.7" font-size="20.7" text-anchor="middle">48</text>
<line x1="504.0" x2="506.3" y1="193.1" y2="193.1" stroke="#000" stroke-width="0.8"/>
<text x="524.2" y="201.5" font-size="20.7" text-anchor="middle">42</text>
<line x1="504.0" x2="506.3" y1="243.9" y2="243.9" stroke="#000" stroke-width="0.8"/>
<text x="524.2" y="252.3" font-size="20.7" text-anchor="middle">36</text>
<line x1="504.0" x2="506.3" y1="294.7" y2="294.7" stroke="#000" stroke-width="0.8"/>
<text x="524.2" y="303.1" font-size="20.7" text-anchor="middle">30</text>
<line x1="504.0" x2="506.3" y1="345.5" y2="345.5" stroke="#000" stroke-width="0.8"/>
<text x="524.2" y="353.9" font-size="20.7" text-anchor="middle">24</text>
<line x1="504.0" x2="506.3" y1="396.3" y2="396.3" stroke="#000" stroke-width="0.8"/>
<text x="524.2" y="404.7" font-size="20.7" text-anchor="middle">18</text>
<line x1="504.0" x2="506.3" y1="447.1" y2="447.1" stroke="#000" stroke-width="0.8"/>
<text x="524.2" y="455.5" font-size="20.7" text-anchor="middle">12</text>
<line x1="504.0" x2="506.3" y1="497.9" y2="497.9" stroke="#000" stroke-width="0.8"/>
<text x="524.2" y="506.3" font-size="20.7" text-anchor="middle">6</text>
<line x1="504.0" x2="506.3" y1="548.7" y2="548.7" stroke="#000" stroke-width="0.8"/>
<text x="524.2" y="557.1" font-size="20.7" text-anchor="middle">0</text>
</g>
<g transform="translate(0.00 1180.67)">
<g clip-path="url(#pc)"><g clip-path="url(#virsclip)"><g filter="url(#cmg)"><polygon points="0.0,30.0 500.0,30.0 500.0,560.0 0.0,560.0" fill="#101010"/><g filter="url(#b9)"><polygon points="331.8,69.6 416.5,76.7 444.7,133.1 444.7,217.8 352.9,224.9 324.7,189.6 352.9,133.1" fill="#1e1e1e"/><polygon points="367.0,76.7 416.5,83.7 437.6,133.1 437.6,210.8 381.2,210.8 367.0,161.4" fill="#222222"/></g><g filter="url(#b3)"><path d="M275.3 83.7L286.6 93.6" fill="none" stroke="#1c1c1c" stroke-width="5" stroke-linecap="round" stroke-linejoin="round"/></g><g filter="url(#b6)"><path d="M98.8 113.4C105.9 115.3 129.4 121.4 141.2 124.7C152.9 128.0 164.7 131.7 169.4 133.1" fill="none" stroke="#202020" stroke-width="14" stroke-linecap="round" stroke-linejoin="round"/></g><g filter="url(#b5)"><path d="M141.2 93.6L176.5 104.9" fill="none" stroke="#202020" stroke-width="10" stroke-linecap="round" stroke-linejoin="round"/><path d="M171.2 228.4C173.1 224.1 176.6 211.7 182.5 203.0C188.3 194.3 198.7 183.2 206.5 176.2C214.2 169.1 217.3 164.6 229.1 160.6C240.8 156.6 267.2 151.2 277.0 152.2C286.9 153.1 282.5 159.0 288.3 166.3C294.2 173.6 305.3 186.7 312.3 195.9C319.4 205.1 327.6 217.1 330.7 221.3" fill="none" stroke="#282828" stroke-width="16" stroke-linecap="round" stroke-linejoin="round"/></g><g filter="url(#b3)"><path d="M381.2 157.1C382.3 160.2 388.7 170.1 388.2 175.5C387.8 180.9 381.2 182.6 378.3 189.6C375.5 196.7 372.5 213.1 371.3 217.8" fill="none" stroke="#1e1e1e" stroke-width="5" stroke-linecap="round" stroke-linejoin="round"/></g><g filter="url(#b1_2)"><polygon points="8.5,100.7 18.4,96.4 35.3,104.9 56.5,107.7 60.7,119.0 84.7,124.7 98.8,115.5 107.3,124.7 127.0,128.9 152.5,131.7 153.9,137.4 127.0,141.6 121.4,138.8 98.8,133.1 90.3,136.0 84.7,145.9 63.5,148.7 53.6,155.7 42.3,151.5 8.5,131.7" fill="#484848"/></g><g filter="url(#b2)"><polygon points="8.5,107.7 33.9,110.6 53.6,114.8 59.3,124.7 84.7,130.3 98.8,121.9 107.3,128.9 127.0,133.1 124.2,138.1 98.8,128.9 84.7,138.8 63.5,143.0 52.2,150.1 42.3,144.4 8.5,127.5" fill="#5c5c5c"/></g><g filter="url(#b3)"><polygon points="8.5,119.0 28.2,117.6 38.1,128.9 29.6,140.2 8.5,131.7" fill="#7e7e7e"/></g><g filter="url(#b2_5)"><polygon points="46.6,130.3 59.3,133.1 56.5,143.0 46.6,144.4" fill="#6e6e6e"/></g><g filter="url(#b2)"><polygon points="62.1,131.7 73.4,133.1 70.6,141.6 62.1,138.8" fill="#767676"/></g><g filter="url(#b1_2)"><polygon points="32.5,113.4 48.0,113.4 45.2,121.9 35.3,121.9" fill="#262626"/><polygon points="40.9,127.5 49.4,126.1 48.0,136.0 42.3,136.0" fill="#262626"/></g><g filter="url(#b0_9)"><polygon points="148.2,96.4 155.3,97.9 166.6,103.5 165.2,106.3 149.6,102.1" fill="#545454"/><polygon points="141.2,135.3 148.2,132.4 153.9,135.3 148.2,140.2 141.2,139.5" fill="#484848"/></g><g filter="url(#b0_8)"><polygon points="168.7,108.4 175.7,107.0 176.5,110.6 170.1,111.3" fill="#484848"/></g><g filter="url(#b0_7)"><ellipse cx="166.6" cy="92.5" rx="2.0" ry="1.5" fill="#484848"/><ellipse cx="211.0" cy="120.7" rx="2.0" ry="1.7" fill="#484848"/></g><g filter="url(#b0_6)"><ellipse cx="131.3" cy="93.6" rx="1.5" ry="1.5" fill="#4a4a4a"/><ellipse cx="175.0" cy="100.0" rx="1.5" ry="1.5" fill="#4a4a4a"/><ellipse cx="23.3" cy="76.3" rx="1.5" ry="1.5" fill="#4a4a4a"/></g><g filter="url(#b0_8)"><polygon points="35.3,93.6 38.1,92.2 37.4,100.7 34.6,101.4" fill="#484848"/></g><g filter="url(#b1_2)"><polygon points="13.4,42.8 18.4,42.8 19.8,61.2 14.1,59.7" fill="#4e4e4e"/></g><g filter="url(#b1)"><polygon points="12.7,96.4 19.8,97.9 18.4,103.5 12.7,104.9" fill="#565656"/></g><g filter="url(#b0_8)"><polygon points="69.2,161.4 73.4,160.0 72.7,167.0 69.9,167.0" fill="#484848"/></g><g filter="url(#b0_7)"><ellipse cx="79.8" cy="169.8" rx="2.0" ry="1.5" fill="#484848"/></g><g filter="url(#b1_2)"><polygon points="171.2,239.7 178.2,219.9 183.2,205.8 192.3,193.1 206.5,179.0 220.6,166.3 229.1,162.0 248.8,159.2 262.9,155.0 277.0,154.3 283.4,157.8 281.3,164.9 291.2,176.2 302.5,188.9 312.3,198.7 319.4,208.6 325.0,218.5 333.5,224.1 344.8,228.4 350.5,241.1 354.7,243.9 358.9,234.0 370.2,228.4 390.0,217.1 418.2,217.1 418.2,403.4 171.2,276.4" fill="#464646"/></g><g filter="url(#b3)"><polygon points="178.2,239.7 183.9,217.1 196.6,204.4 214.9,197.3 237.5,194.5 251.6,197.3 257.3,191.7 248.8,186.0 251.6,180.4 271.4,181.8 277.0,191.7 291.2,195.9 305.3,208.6 319.4,222.7 330.7,231.2 347.6,248.1 361.7,248.1 390.0,228.4 418.2,228.4 418.2,403.4 178.2,276.4" fill="#5a5a5a"/></g><g filter="url(#b2)"><path d="M217.8 170.5C221.8 169.8 234.2 167.0 241.8 166.3C249.3 165.6 257.0 165.3 262.9 166.3C268.8 167.2 274.7 171.0 277.0 171.9" fill="none" stroke="#5a5a5a" stroke-width="7" stroke-linecap="round" stroke-linejoin="round"/></g><g filter="url(#b1_5)"><path d="M229.1 168.4L257.3 167.7" fill="none" stroke="#6a6a6a" stroke-width="3" stroke-linecap="round" stroke-linejoin="round"/></g><g filter="url(#b4)"><polygon points="182.5,239.7 190.9,222.7 206.5,211.4 229.1,207.2 248.8,205.8 268.6,203.0 285.5,208.6 302.5,219.9 316.6,234.0 330.7,248.1 347.6,259.4 418.2,248.1 418.2,403.4 182.5,276.4" fill="#6e6e6e"/></g><g filter="url(#b3)"><polygon points="192.3,239.7 200.8,225.6 214.9,217.1 234.7,214.3 257.3,212.9 277.0,215.7 294.0,228.4 308.1,239.7 322.2,256.6 336.3,262.3 418.2,262.3 418.2,403.4 192.3,276.4" fill="#828282"/></g><g filter="url(#b2)"><path d="M274.2 170.5C276.1 174.0 281.3 185.1 285.5 191.7C289.8 198.3 297.3 207.0 299.6 210.0" fill="none" stroke="#767676" stroke-width="5" stroke-linecap="round" stroke-linejoin="round"/><path d="M265.8 184.6C267.6 188.2 273.3 199.9 277.0 205.8C280.8 211.7 286.5 217.6 288.3 219.9" fill="none" stroke="#7e7e7e" stroke-width="5" stroke-linecap="round" stroke-linejoin="round"/><path d="M291.2 195.9C293.5 199.2 300.6 209.3 305.3 215.7C310.0 222.0 317.0 231.0 319.4 234.0" fill="none" stroke="#5a5a5a" stroke-width="5" stroke-linecap="round" stroke-linejoin="round"/></g><g filter="url(#b1_2)"><path d="M196.6 248.1C197.1 246.5 197.3 241.3 199.4 238.3C201.5 235.2 205.3 232.4 209.3 229.8C213.3 227.2 219.2 224.6 223.4 222.7C227.6 220.9 232.8 219.2 234.7 218.5" fill="none" stroke="#9a9a9a" stroke-width="7" stroke-linecap="round" stroke-linejoin="round"/></g><g filter="url(#b1)"><path d="M199.4 239.7C201.3 238.4 206.7 234.3 210.7 231.9C214.7 229.6 221.3 226.6 223.4 225.6" fill="none" stroke="#a6a6a6" stroke-width="3" stroke-linecap="round" stroke-linejoin="round"/><path d="M216.3 219.9C217.5 219.4 221.3 217.1 223.4 217.1C225.5 217.1 228.1 219.4 229.1 219.9" fill="none" stroke="#9a9a9a" stroke-width="4" stroke-linecap="round" stroke-linejoin="round"/></g><g filter="url(#b1_5)"><path d="M206.5 256.6C207.4 254.7 209.3 248.6 212.1 245.3C214.9 242.0 219.2 239.3 223.4 236.9C227.6 234.4 235.2 231.6 237.5 230.5" fill="none" stroke="#6e6e6e" stroke-width="6" stroke-linecap="round" stroke-linejoin="round"/><polygon points="203.6,262.3 214.9,248.1 226.2,236.9 241.8,230.5 262.9,229.1 277.0,232.6 291.2,239.7 302.5,248.1 312.3,259.4 323.6,262.3 332.1,251.0 337.7,262.3 347.6,273.6 361.7,276.4 390.0,269.3 418.2,269.3 418.2,403.4 203.6,304.6" fill="#969696"/></g><g filter="url(#b3)"><polygon points="216.3,256.6 226.2,242.5 243.2,235.4 262.9,234.0 277.0,239.7 285.5,248.1 277.0,262.3 274.2,290.5 305.3,304.6 305.3,347.0 216.3,290.5" fill="#aaaaaa"/><polygon points="234.7,245.3 248.8,239.7 265.8,241.1 271.4,252.4 262.9,259.4 241.8,256.6" fill="#b8b8b8"/><polygon points="277.0,248.1 296.8,248.1 299.6,273.6 285.5,276.4" fill="#9a9a9a"/></g><g filter="url(#b2)"><polygon points="220.6,260.9 230.5,259.4 231.9,269.3 223.4,269.3" fill="#9a9a9a"/></g><g filter="url(#b3)"><polygon points="302.5,256.6 313.7,262.3 312.3,276.4 299.6,276.4" fill="#aaaaaa"/></g><g filter="url(#b1_2)"><polygon points="236.8,256.6 243.2,253.1 248.8,262.3 260.1,266.5 270.0,269.3 273.5,276.4 277.8,283.4 282.7,290.5 282.0,298.3 291.2,294.7 299.6,297.6 303.9,307.4 304.6,327.2 229.1,276.4 240.3,267.9" fill="#c0c0c0"/></g><g filter="url(#b2_5)"><polygon points="240.3,276.4 262.9,275.0 267.2,284.8 260.1,291.9" fill="#cccccc"/><polygon points="285.5,297.6 298.2,299.0 302.5,318.7 289.8,311.7" fill="#cecece"/></g><g filter="url(#b1_2)"><polygon points="264.3,272.1 271.4,270.7 272.8,277.8 265.8,278.5" fill="#aeaeae"/><path d="M318.0 269.3C319.6 267.7 322.5 268.6 323.6 270.7C324.8 272.9 325.7 278.7 325.0 282.0C324.3 285.3 321.3 290.7 319.4 290.5C317.5 290.3 314.0 284.1 313.7 280.6C313.5 277.1 316.3 271.0 318.0 269.3Z" fill="#727272"/><path d="M303.9 289.1C305.2 288.1 309.3 288.1 310.9 290.5C312.6 292.8 314.2 300.8 313.7 303.2C313.3 305.6 309.9 305.8 308.1 304.6C306.3 303.4 303.9 298.7 303.2 296.1C302.5 293.6 302.6 290.0 303.9 289.1Z" fill="#7e7e7e"/><path d="M316.6 253.8L322.2 262.3" fill="none" stroke="#7a7a7a" stroke-width="5" stroke-linecap="round" stroke-linejoin="round"/></g><g filter="url(#b0_8)"><path d="M291.2 272.1L292.6 276.4" fill="none" stroke="#7a7a7a" stroke-width="3" stroke-linecap="round" stroke-linejoin="round"/><path d="M279.9 272.1L282.0 276.4" fill="none" stroke="#7a7a7a" stroke-width="3" stroke-linecap="round" stroke-linejoin="round"/><path d="M213.5 262.3L219.2 255.2" fill="none" stroke="#7e7e7e" stroke-width="3" stroke-linecap="round" stroke-linejoin="round"/></g><g filter="url(#b4)"><path d="M312.3 248.1C315.4 252.9 326.5 268.1 330.7 276.4C334.9 284.6 337.3 290.5 337.7 297.6C338.2 304.6 334.2 315.2 333.5 318.7" fill="none" stroke="#aaaaaa" stroke-width="16" stroke-linecap="round" stroke-linejoin="round"/><path d="M333.5 290.5C335.9 292.8 340.6 301.8 347.6 304.6C354.7 307.4 371.2 307.0 375.9 307.4" fill="none" stroke="#b6b6b6" stroke-width="9" stroke-linecap="round" stroke-linejoin="round"/></g><g filter="url(#b0_9)"><path d="M296.8 212.9L302.5 222.7" fill="none" stroke="#9a9a9a" stroke-width="3.2" stroke-linecap="round" stroke-linejoin="round"/><path d="M308.1 222.7L316.6 234.0" fill="none" stroke="#9a9a9a" stroke-width="3.2" stroke-linecap="round" stroke-linejoin="round"/><path d="M277.0 219.9L284.1 228.4" fill="none" stroke="#9a9a9a" stroke-width="3.2" stroke-linecap="round" stroke-linejoin="round"/><path d="M285.5 228.4L291.2 236.9" fill="none" stroke="#9a9a9a" stroke-width="3.2" stroke-linecap="round" stroke-linejoin="round"/><path d="M257.3 212.9L262.9 215.7" fill="none" stroke="#9a9a9a" stroke-width="3.2" stroke-linecap="round" stroke-linejoin="round"/><path d="M262.9 218.5L267.2 221.3" fill="none" stroke="#9a9a9a" stroke-width="3.2" stroke-linecap="round" stroke-linejoin="round"/></g><g filter="url(#b0_8)"><path d="M237.5 186.0L240.3 190.3" fill="none" stroke="#2a2a2a" stroke-width="3.2" stroke-linecap="round" stroke-linejoin="round"/><path d="M265.8 197.3L268.6 201.6" fill="none" stroke="#2a2a2a" stroke-width="3.2" stroke-linecap="round" stroke-linejoin="round"/><path d="M274.2 201.6L275.6 205.1" fill="none" stroke="#2a2a2a" stroke-width="3.2" stroke-linecap="round" stroke-linejoin="round"/><polygon points="224.8,179.7 243.2,176.2 244.6,179.0 229.1,181.1" fill="#2a2a2a"/><ellipse cx="237.5" cy="188.2" rx="3.0" ry="2.0" fill="#2a2a2a" transform="rotate(30 237.5 188.2)"/></g><g filter="url(#b1_5)"><polygon points="319.1,298.6 338.8,285.9 355.8,298.6 381.2,295.8 409.4,293.0 427.7,295.8 448.9,298.6 460.2,293.0 486.3,298.6 486.3,318.4 471.5,324.0 460.2,338.1 454.6,360.7 437.6,366.4 427.7,380.5 427.7,422.8 296.5,338.1" fill="#989898"/></g><g filter="url(#b3)"><polygon points="324.7,307.1 347.3,301.4 381.2,302.9 409.4,298.6 415.0,309.9 395.3,312.7 367.0,312.7 347.3,318.4 330.3,324.0" fill="#aaaaaa"/></g><g filter="url(#b2)"><polygon points="331.8,304.3 347.3,302.9 352.9,307.1 338.8,309.9" fill="#b8b8b8"/><polygon points="364.2,305.7 381.2,304.3 395.3,307.1 378.3,309.9" fill="#b8b8b8"/></g><g filter="url(#b3)"><polygon points="361.4,338.1 381.2,335.3 409.4,338.1 437.6,336.7 440.5,352.3 423.5,363.6 395.3,360.7 381.2,352.3" fill="#aaaaaa"/><polygon points="451.7,304.3 472.9,301.4 486.3,301.4 486.3,312.7 465.9,318.4 454.6,315.6" fill="#aaaaaa"/></g><g filter="url(#b2_5)"><polygon points="319.1,326.9 330.3,329.7 338.8,341.0 324.7,341.0" fill="#aaaaaa"/></g><g filter="url(#b1_2)"><path d="M365.6 319.8C366.6 317.4 371.5 313.7 375.5 312.7C379.5 311.8 384.9 313.7 389.6 314.1C394.3 314.6 401.6 314.6 403.7 315.6C405.9 316.5 405.2 318.4 402.3 319.8C399.5 321.2 390.3 322.4 386.8 324.0C383.3 325.7 384.0 329.2 381.2 329.7C378.3 330.1 372.5 328.5 369.9 326.9C367.3 325.2 364.7 322.1 365.6 319.8Z" fill="#7e7e7e"/><path d="M336.0 318.4C337.4 316.7 344.9 314.9 347.3 315.6C349.6 316.3 351.5 321.0 350.1 322.6C348.7 324.3 341.2 326.1 338.8 325.4C336.5 324.7 334.6 320.0 336.0 318.4Z" fill="#7e7e7e"/></g><g filter="url(#b1)"><polygon points="350.1,331.1 357.2,329.7 358.6,336.7 352.9,336.7" fill="#7e7e7e"/></g><g filter="url(#b0_9)"><polygon points="348.7,346.6 357.2,346.6 357.2,352.3" fill="#7e7e7e"/></g><g filter="url(#b1_5)"><path d="M415.0 309.9C416.0 305.9 419.7 302.9 423.5 301.4C427.3 300.0 433.4 300.0 437.6 301.4C441.9 302.9 446.8 306.2 448.9 309.9C451.0 313.7 451.7 321.2 450.3 324.0C448.9 326.9 444.2 327.3 440.5 326.9C436.7 326.4 431.5 321.4 427.7 321.2C424.0 321.0 420.0 327.3 417.9 325.4C415.7 323.6 414.1 313.9 415.0 309.9Z" fill="#7e7e7e"/></g><g filter="url(#b1_2)"><path d="M313.4 277.4C314.1 274.2 321.4 267.3 323.3 267.6C325.2 267.8 325.4 275.6 324.7 278.9C324.0 282.2 320.9 287.6 319.1 287.3C317.2 287.1 312.7 280.7 313.4 277.4Z" fill="#767676"/><path d="M303.5 290.2C304.0 287.6 308.9 285.9 310.6 287.3C312.2 288.7 313.9 296.0 313.4 298.6C312.9 301.2 309.4 304.3 307.8 302.9C306.1 301.4 303.1 292.7 303.5 290.2Z" fill="#7e7e7e"/></g><g filter="url(#b1)"><polygon points="338.8,290.2 347.3,287.3 348.7,291.6 341.6,294.4" fill="#7e7e7e"/><polygon points="381.2,298.6 395.3,295.8 396.7,300.0 384.0,302.9" fill="#7e7e7e"/></g><g filter="url(#b1_5)"><polygon points="486.3,318.4 471.5,324.0 460.2,338.1 454.6,360.7 437.6,366.4 427.7,380.5 426.3,393.2 486.3,427.1" fill="#808080"/></g><g filter="url(#b4)"><polygon points="465.9,338.1 480.0,329.7 486.3,332.5 486.3,355.1 471.5,352.3" fill="#6a6a6a"/></g><g filter="url(#b1_5)"><ellipse cx="478.6" cy="338.1" rx="3.5" ry="4.5" fill="#525252"/></g><g filter="url(#b0_8)"><ellipse cx="478.6" cy="338.9" rx="2.0" ry="2.5" fill="#2e2e2e"/></g><g filter="url(#b3)"><polygon points="437.6,373.4 451.7,369.2 454.6,377.7 441.9,380.5" fill="#626262"/></g><g filter="url(#b1)"><polygon points="451.7,400.3 460.2,405.9 471.5,404.5 478.6,401.7 480.0,415.8 460.2,413.0" fill="#989898"/></g><g filter="url(#b0_8)"><path d="M460.2 363.6L467.3 357.9" fill="none" stroke="#989898" stroke-width="3" stroke-linecap="round" stroke-linejoin="round"/></g><g filter="url(#b1_5)"><polygon points="427.7,72.4 416.5,76.7 413.6,93.6 409.4,110.6 415.0,119.0 423.5,124.7 443.3,130.3 447.5,147.3 443.3,161.4 448.9,169.8 451.7,161.4 465.9,158.6 471.5,168.4 480.0,182.6 486.3,189.6 488.4,40.0 429.2,40.0" fill="#484848"/></g><g filter="url(#b3)"><polygon points="433.4,71.0 422.1,79.5 419.3,96.4 417.9,113.4 427.7,121.9 447.5,127.5 451.7,147.3 451.7,158.6 468.7,155.7 477.2,169.8 488.4,181.1 488.4,40.0 434.8,40.0" fill="#707070"/></g><g filter="url(#b4)"><polygon points="437.6,93.6 460.2,96.4 482.8,124.7 485.6,147.3 460.2,141.6 446.1,119.0" fill="#7e7e7e"/><polygon points="427.7,73.9 451.7,69.6 460.2,88.0 437.6,90.8" fill="#7a7a7a"/></g><g filter="url(#b1_3)"><polygon points="360.0,40.0 423.5,40.0 434.8,52.7 437.6,69.6 423.5,75.3 395.3,72.4 386.8,80.9 382.6,93.6 375.5,95.0 379.8,76.7 372.7,59.7 361.4,51.3" fill="#484848"/></g><g filter="url(#b2_5)"><polygon points="362.8,40.0 422.1,40.0 432.0,52.7 434.8,68.2 422.1,72.4 396.7,71.0 386.8,65.4 375.5,58.3 364.2,48.4" fill="#727272"/></g><g filter="url(#b1_2)"><polygon points="367.8,40.0 416.5,40.0 427.7,51.3 423.5,62.6 433.4,66.1 426.3,72.4 416.5,69.6 409.4,72.4 395.3,69.6 389.6,61.2 378.3,56.9 371.3,48.4" fill="#989898"/></g><g filter="url(#b2_5)"><polygon points="369.9,40.0 415.0,40.0 410.8,52.7 395.3,62.6 381.2,55.5" fill="#a8a8a8"/></g><g filter="url(#b1)"><path d="M419.3 55.5C420.0 56.2 421.6 57.9 423.5 59.7C425.4 61.6 429.4 65.6 430.6 66.8" fill="none" stroke="#7e7e7e" stroke-width="4" stroke-linecap="round" stroke-linejoin="round"/></g><g filter="url(#b0_8)"><path d="M378.3 83.7L384.0 78.1" fill="none" stroke="#989898" stroke-width="2.5" stroke-linecap="round" stroke-linejoin="round"/></g><g filter="url(#b1_2)"><path d="M376.9 90.8L385.4 76.7" fill="none" stroke="#626262" stroke-width="4" stroke-linecap="round" stroke-linejoin="round"/></g><g filter="url(#b2_5)"><path d="M364.6 65.5C367.7 66.8 378.1 71.1 383.5 73.6C389.0 76.1 391.9 77.0 397.1 80.4C402.3 83.8 411.8 91.7 414.7 93.9" fill="none" stroke="#727272" stroke-width="9" stroke-linecap="round" stroke-linejoin="round"/></g><g filter="url(#b2)"><path d="M401.2 91.2L410.6 88.5" fill="none" stroke="#727272" stroke-width="7" stroke-linecap="round" stroke-linejoin="round"/></g><g filter="url(#b3)"><path d="M445.8 47.9C447.7 52.4 452.2 65.5 456.7 75.0C461.2 84.4 468.2 95.7 472.9 104.8C477.7 113.8 483.1 125.1 485.1 129.1" fill="none" stroke="#5a5a5a" stroke-width="6" stroke-linecap="round" stroke-linejoin="round"/><path d="M435.0 61.4C436.8 66.4 442.2 83.1 445.8 91.2C449.5 99.3 454.9 107.0 456.7 110.2" fill="none" stroke="#5a5a5a" stroke-width="5" stroke-linecap="round" stroke-linejoin="round"/></g><g filter="url(#b1)"><polygon points="415.0,107.0 426.3,100.7 437.6,97.9 439.0,102.1 433.4,110.6 422.1,111.3" fill="#989898"/></g><g filter="url(#b1_5)"><polygon points="422.1,104.9 434.8,100.7 432.0,107.7 423.5,109.1" fill="#a8a8a8"/></g><g filter="url(#b1)"><path d="M463.0 112.0C464.0 113.6 466.3 119.5 468.7 121.9C471.0 124.2 474.8 124.2 477.2 126.1C479.5 128.0 481.9 132.0 482.8 133.1" fill="none" stroke="#989898" stroke-width="5" stroke-linecap="round" stroke-linejoin="round"/></g><g filter="url(#b0_8)"><path d="M451.7 98.6L457.4 102.1" fill="none" stroke="#989898" stroke-width="3" stroke-linecap="round" stroke-linejoin="round"/></g><g filter="url(#b1_2)"><polygon points="468.7,52.7 480.0,52.7 488.4,59.7 488.4,62.6 472.9,59.7" fill="#a6a6a6"/></g><g filter="url(#b1)"><ellipse cx="303.5" cy="48.4" rx="3.5" ry="2.5" fill="#9a9a9a"/></g><g filter="url(#b1_2)"><path d="M289.4 44.9C291.3 45.5 297.9 47.3 300.7 48.4C303.5 49.6 305.4 51.4 306.3 52.0" fill="none" stroke="#727272" stroke-width="5" stroke-linecap="round" stroke-linejoin="round"/></g><g filter="url(#b1)"><polygon points="437.6,41.4 447.5,41.4 446.1,49.9 439.0,48.4" fill="#262626"/></g><g filter="url(#b1_2)"><polygon points="457.4,62.6 471.5,64.0 472.9,73.9 460.2,71.0" fill="#262626"/></g><g filter="url(#b1)"><polygon points="477.2,90.8 488.4,88.0 488.4,102.1 480.0,102.1" fill="#262626"/></g><g filter="url(#b0_8)"><polygon points="420.7,80.9 424.9,80.9 426.3,86.6 422.1,86.6" fill="#262626"/></g><g filter="url(#b0_7)"><ellipse cx="317.6" cy="62.6" rx="3.5" ry="2.2" fill="#4a4a4a" transform="rotate(-20 317.6 62.6)"/><ellipse cx="361.4" cy="82.3" rx="4.5" ry="1.8" fill="#4a4a4a" transform="rotate(45 361.4 82.3)"/><ellipse cx="354.3" cy="114.8" rx="2.2" ry="5.5" fill="#4a4a4a" transform="rotate(10 354.3 114.8)"/><ellipse cx="355.8" cy="128.9" rx="3.0" ry="3.0" fill="#4a4a4a"/><ellipse cx="378.3" cy="109.1" rx="2.0" ry="3.0" fill="#4a4a4a"/><ellipse cx="379.0" cy="116.9" rx="2.0" ry="1.6" fill="#4a4a4a"/><ellipse cx="405.2" cy="107.0" rx="4.0" ry="2.0" fill="#4a4a4a" transform="rotate(-20 405.2 107.0)"/><ellipse cx="385.4" cy="102.1" rx="2.0" ry="1.4" fill="#4a4a4a"/><ellipse cx="393.9" cy="103.5" rx="2.0" ry="1.4" fill="#4a4a4a"/><ellipse cx="422.1" cy="143.0" rx="2.0" ry="1.5" fill="#4a4a4a"/><ellipse cx="434.8" cy="143.0" rx="1.5" ry="1.5" fill="#4a4a4a"/><ellipse cx="434.8" cy="157.1" rx="2.0" ry="3.0" fill="#4a4a4a"/><ellipse cx="319.1" cy="159.3" rx="2.5" ry="1.3" fill="#4a4a4a"/><ellipse cx="391.0" cy="181.8" rx="1.5" ry="1.5" fill="#4a4a4a"/><ellipse cx="349.4" cy="44.9" rx="1.6" ry="2.6" fill="#4a4a4a"/><ellipse cx="376.2" cy="75.3" rx="1.6" ry="1.6" fill="#4a4a4a"/><ellipse cx="450.3" cy="133.1" rx="2.0" ry="4.0" fill="#4a4a4a" transform="rotate(20 450.3 133.1)"/><ellipse cx="415.0" cy="130.3" rx="1.5" ry="2.5" fill="#4a4a4a"/></g><g filter="url(#b1)"><polygon points="375.5,93.6 381.2,76.7 386.8,78.1 382.6,95.0" fill="#484848"/></g><g filter="url(#b0_6)"><path d="M379.8 186.8C379.0 188.4 376.5 193.8 375.5 196.7C374.6 199.5 374.3 202.6 374.1 203.7" fill="none" stroke="#4a4a4a" stroke-width="2.2" stroke-linecap="round" stroke-linejoin="round"/><path d="M372.7 212.2L369.9 220.7" fill="none" stroke="#4a4a4a" stroke-width="2" stroke-linecap="round" stroke-linejoin="round"/></g><g filter="url(#b1_5)"><polygon points="319.1,200.9 327.5,212.2 338.8,222.1 350.1,243.3 357.2,232.0 367.0,229.1 375.5,224.9 381.2,216.4 388.2,224.9 402.3,217.8 416.5,222.1 427.7,217.8 441.9,226.3 448.9,222.1 460.2,216.4 471.5,203.7 480.0,189.6 488.4,189.6 488.4,288.4 367.0,288.4 338.8,254.5" fill="#484848"/></g><g filter="url(#b1)"><polygon points="415.0,169.8 423.5,165.6 426.3,175.5 419.3,176.9" fill="#484848"/><polygon points="440.5,169.8 448.9,167.0 454.6,178.3 447.5,185.4 441.9,181.1" fill="#484848"/></g><g filter="url(#b1_2)"><polygon points="402.3,191.0 416.5,186.8 417.9,200.9 406.6,203.7 395.3,208.0" fill="#484848"/></g><g filter="url(#b1)"><path d="M400.9 203.7L409.4 193.8" fill="none" stroke="#6a6a6a" stroke-width="3" stroke-linecap="round" stroke-linejoin="round"/></g><g filter="url(#b3)"><polygon points="330.3,222.1 347.3,246.1 361.4,237.6 375.5,232.0 386.8,232.0 403.7,226.3 416.5,232.0 440.5,234.8 460.2,223.5 474.3,209.4 488.4,203.7 488.4,288.4 374.1,288.4 347.3,260.2" fill="#686868"/><polygon points="338.8,243.3 352.9,254.5 367.0,251.7 381.2,241.8 395.3,239.0 395.3,254.5 374.1,274.3 352.9,274.3" fill="#7a7a7a"/><polygon points="460.2,220.7 480.0,212.2 488.4,217.8 488.4,246.1 465.9,237.6" fill="#7e7e7e"/><polygon points="352.9,274.6 367.0,267.6 395.3,276.0 416.5,285.9 409.4,295.8 381.2,295.8 360.0,298.6 350.1,301.4" fill="#767676"/><polygon points="451.7,285.9 486.3,276.0 486.3,298.6 460.2,293.0" fill="#7a7a7a"/><polygon points="395.3,245.0 427.7,242.2 451.7,253.4 480.0,267.6 486.3,285.9 451.7,285.9 427.7,281.7 402.3,271.8" fill="#4a4a4a"/></g><g filter="url(#b1)"><polygon points="426.3,246.1 434.8,243.3 451.7,250.3 456.0,257.4 443.3,263.0 427.7,258.8" fill="#989898"/></g><g filter="url(#b1_5)"><polygon points="429.2,247.5 446.1,250.3 448.9,256.0 430.6,257.4" fill="#a8a8a8"/></g><g filter="url(#b1)"><polygon points="365.6,263.0 375.5,254.5 388.2,247.5 386.8,254.5 378.3,265.8 367.0,268.7" fill="#989898"/></g><g filter="url(#b1_2)"><polygon points="369.9,263.0 381.2,256.0 378.3,263.0" fill="#a8a8a8"/></g><g filter="url(#b0_9)"><path d="M385.4 237.6L391.0 229.1" fill="none" stroke="#9e9e9e" stroke-width="4.5" stroke-linecap="round" stroke-linejoin="round"/></g><g filter="url(#b0_8)"><path d="M410.8 258.8L416.5 256.0" fill="none" stroke="#989898" stroke-width="3.5" stroke-linecap="round" stroke-linejoin="round"/><path d="M385.4 283.1C386.6 282.6 390.1 280.0 392.5 280.3C394.8 280.5 398.3 283.8 399.5 284.5" fill="none" stroke="#989898" stroke-width="3" stroke-linecap="round" stroke-linejoin="round"/></g><g filter="url(#b0_9)"><path d="M409.4 293.0C412.2 292.7 422.8 291.1 426.3 291.6C429.9 292.0 429.9 295.1 430.6 295.8" fill="none" stroke="#989898" stroke-width="4" stroke-linecap="round" stroke-linejoin="round"/></g><g filter="url(#b1)"><polygon points="393.9,258.8 406.6,251.7 424.9,243.3 416.5,254.5 400.9,263.0" fill="#2e2e2e"/><polygon points="399.5,272.9 409.4,268.7 420.7,280.0 416.5,284.3 400.9,284.3" fill="#2e2e2e"/><polygon points="398.1,273.2 409.4,266.2 420.7,277.4 416.5,280.3 400.9,280.3" fill="#2e2e2e"/><polygon points="416.5,232.0 423.5,227.7 424.9,234.8 417.9,237.6" fill="#2e2e2e"/><polygon points="448.9,263.0 457.4,260.2 458.8,268.7 450.3,271.5" fill="#2e2e2e"/><polygon points="448.9,260.5 457.4,256.3 460.2,266.2 451.7,269.0" fill="#2e2e2e"/><polygon points="465.9,254.9 472.9,257.7 474.3,264.7 467.3,263.3" fill="#2e2e2e"/></g><g filter="url(#b0_9)"><polygon points="361.4,245.0 367.0,243.6 368.5,252.0 362.8,252.0" fill="#2e2e2e"/></g><g filter="url(#b0_8)"><polygon points="264.0,196.7 268.2,195.3 269.6,200.9 265.4,202.3" fill="#2a2a2a"/><polygon points="271.1,200.9 276.7,200.9 276.7,205.1 272.5,205.1" fill="#2a2a2a"/></g></g></g><g clip-path="url(#virsclip)"><text x="245" y="165.5" font-size="21" text-anchor="middle" fill="#222">273</text></g></g>
<path d="M244.0 40.7L254.1 47.3L264.2 53.8L274.3 60.3L284.4 66.8L294.5 73.2L304.6 79.6L314.7 86.0L324.8 92.3L334.9 98.6L345.0 104.9L355.1 111.1L365.2 117.3L375.2 123.5L385.3 129.6L395.4 135.7L405.5 141.8L415.6 147.9L425.7 153.9L435.8 159.9L445.9 165.8L456.0 171.7L466.1 177.6L476.2 183.5L486.3 189.3" stroke="#0e0e0e" stroke-width="1.0" stroke-dasharray="11.8 11.7" fill="none"/>
<path d="M77.1 40.7L94.1 52.4L111.2 64.0L128.2 75.5L145.3 87.0L162.4 98.3L179.4 109.6L196.5 120.8L213.5 131.9L230.6 142.9L247.6 153.9L264.7 164.7L281.7 175.5L298.8 186.2L315.8 196.8L332.9 207.3L349.9 217.7L367.0 228.1L384.0 238.4L401.1 248.5L418.1 258.6L435.1 268.7L452.2 278.6L469.2 288.4L486.3 298.2" stroke="#0e0e0e" stroke-width="1.0" stroke-dasharray="11.8 11.7" fill="none"/>

<path d="M33.4 41.1V549.4M112.1 41.1V549.4M190.8 41.1V549.4M269.5 41.1V549.4M348.2 41.1V549.4M426.9 41.1V549.4M12.7 80.3H486.6M12.7 164.9H486.6M12.7 249.5H486.6M12.7 334.2H486.6M12.7 418.8H486.6M12.7 503.4H486.6" stroke="#000" stroke-width="1.25" stroke-dasharray="3 5.27" fill="none"/>
<g font-size="12" text-anchor="middle">
<text x="33.4" y="312.9">58</text>
<text x="112.1" y="312.9">60</text>
<text x="190.8" y="312.9">62</text>
<text x="269.5" y="312.9">64</text>
<text x="348.2" y="312.9">66</text>
<text x="426.9" y="312.9">68</text>
<text x="249.8" y="79.7">-18</text>
<text x="249.8" y="164.3">-20</text>
<text x="249.8" y="248.9">-22</text>
<text x="249.8" y="333.6">-24</text>
<text x="249.8" y="418.2">-26</text>
<text x="249.8" y="502.8">-28</text>
</g>
<path d="M242.70000000000002 294.9H256.1M249.4 288.2V301.59999999999997" stroke="#000" stroke-width="4.6" fill="none"/>
<text x="36.7" y="65.5" font-size="25" xml:space="preserve">VIRS T<tspan font-size="15" dy="6">B11</tspan><tspan dy="-6"> (K)</tspan></text>
<text x="438.9" y="522.6" font-size="30">(g)</text>
<rect x="495.1" y="531.79" width="8.9" height="8.77" fill="#f7f7f7"/>
<rect x="495.1" y="523.32" width="8.9" height="8.77" fill="#f0f0f0"/>
<rect x="495.1" y="514.85" width="8.9" height="8.77" fill="#e9e9e9"/>
<rect x="495.1" y="506.38" width="8.9" height="8.77" fill="#e2e2e1"/>
<rect x="495.1" y="497.92" width="8.9" height="8.77" fill="#dbdbda"/>
<rect x="495.1" y="489.45" width="8.9" height="8.77" fill="#d4d4d3"/>
<rect x="495.1" y="480.98" width="8.9" height="8.77" fill="#cdcdcc"/>
<rect x="495.1" y="472.52" width="8.9" height="8.77" fill="#c6c6c5"/>
<rect x="495.1" y="464.05" width="8.9" height="8.77" fill="#bfbfbe"/>
<rect x="495.1" y="455.58" width="8.9" height="8.77" fill="#b8b8b7"/>
<rect x="495.1" y="447.12" width="8.9" height="8.77" fill="#b1b1b0"/>
<rect x="495.1" y="438.65" width="8.9" height="8.77" fill="#aaaaa9"/>
<rect x="495.1" y="430.18" width="8.9" height="8.77" fill="#a3a3a2"/>
<rect x="495.1" y="421.72" width="8.9" height="8.77" fill="#9c9c9b"/>
<rect x="495.1" y="413.25" width="8.9" height="8.77" fill="#82e487"/>
<rect x="495.1" y="404.78" width="8.9" height="8.77" fill="#7ad980"/>
<rect x="495.1" y="396.31" width="8.9" height="8.77" fill="#73ce78"/>
<rect x="495.1" y="387.85" width="8.9" height="8.77" fill="#6cc470"/>
<rect x="495.1" y="379.38" width="8.9" height="8.77" fill="#64b969"/>
<rect x="495.1" y="370.91" width="8.9" height="8.77" fill="#cdd7ff"/>
<rect x="495.1" y="362.45" width="8.9" height="8.77" fill="#b3ceff"/>
<rect x="495.1" y="353.98" width="8.9" height="8.77" fill="#98c6ff"/>
<rect x="495.1" y="345.51" width="8.9" height="8.77" fill="#7ebdff"/>
<rect x="495.1" y="337.05" width="8.9" height="8.77" fill="#64b4ff"/>
<rect x="495.1" y="328.58" width="8.9" height="8.77" fill="#50aaff"/>
<rect x="495.1" y="320.11" width="8.9" height="8.77" fill="#488cff"/>
<rect x="495.1" y="311.64" width="8.9" height="8.77" fill="#416eff"/>
<rect x="495.1" y="303.18" width="8.9" height="8.77" fill="#3a50ff"/>
<rect x="495.1" y="294.71" width="8.9" height="8.77" fill="#3232ff"/>
<rect x="495.1" y="286.24" width="8.9" height="8.77" fill="#0000ff"/>
<rect x="495.1" y="277.78" width="8.9" height="8.77" fill="#0000f1"/>
<rect x="495.1" y="269.31" width="8.9" height="8.77" fill="#0000e4"/>
<rect x="495.1" y="260.84" width="8.9" height="8.77" fill="#0000d6"/>
<rect x="495.1" y="252.38" width="8.9" height="8.77" fill="#0000c8"/>
<rect x="495.1" y="243.91" width="8.9" height="8.77" fill="#ffff00"/>
<rect x="495.1" y="235.44" width="8.9" height="8.77" fill="#fff200"/>
<rect x="495.1" y="226.97" width="8.9" height="8.77" fill="#ffe600"/>
<rect x="495.1" y="218.51" width="8.9" height="8.77" fill="#ffda00"/>
<rect x="495.1" y="210.04" width="8.9" height="8.77" fill="#ffcd00"/>
<rect x="495.1" y="201.57" width="8.9" height="8.77" fill="#ff9100"/>
<rect x="495.1" y="193.11" width="8.9" height="8.77" fill="#ff8a00"/>
<rect x="495.1" y="184.64" width="8.9" height="8.77" fill="#ff8200"/>
<rect x="495.1" y="176.17" width="8.9" height="8.77" fill="#ff7a00"/>
<rect x="495.1" y="167.71" width="8.9" height="8.77" fill="#ff7300"/>
<rect x="495.1" y="159.24" width="8.9" height="8.77" fill="#ff4100"/>
<rect x="495.1" y="150.77" width="8.9" height="8.77" fill="#ff3700"/>
<rect x="495.1" y="142.30" width="8.9" height="8.77" fill="#ff2d00"/>
<rect x="495.1" y="133.84" width="8.9" height="8.77" fill="#ff2300"/>
<rect x="495.1" y="125.37" width="8.9" height="8.77" fill="#ff1900"/>
<rect x="495.1" y="116.90" width="8.9" height="8.77" fill="#c80000"/>
<rect x="495.1" y="108.44" width="8.9" height="8.77" fill="#be0400"/>
<rect x="495.1" y="99.97" width="8.9" height="8.77" fill="#b40800"/>
<rect x="495.1" y="91.50" width="8.9" height="8.77" fill="#aa0b00"/>
<rect x="495.1" y="83.03" width="8.9" height="8.77" fill="#a00f00"/>
<rect x="495.1" y="74.57" width="8.9" height="8.77" fill="#640f05"/>
<rect x="495.1" y="66.10" width="8.9" height="8.77" fill="#60120a"/>
<rect x="495.1" y="57.63" width="8.9" height="8.77" fill="#5c140f"/>
<rect x="495.1" y="49.17" width="8.9" height="8.77" fill="#591614"/>
<rect x="495.1" y="40.70" width="8.9" height="8.77" fill="#551919"/>
<line x1="504.0" x2="506.3" y1="91.5" y2="91.5" stroke="#000" stroke-width="0.8"/>
<text x="524.2" y="99.9" font-size="20.7" text-anchor="middle">196</text>
<line x1="504.0" x2="506.3" y1="142.3" y2="142.3" stroke="#000" stroke-width="0.8"/>
<text x="524.2" y="150.7" font-size="20.7" text-anchor="middle">208</text>
<line x1="504.0" x2="506.3" y1="193.1" y2="193.1" stroke="#000" stroke-width="0.8"/>
<text x="524.2" y="201.5" font-size="20.7" text-anchor="middle">220</text>
<line x1="504.0" x2="506.3" y1="243.9" y2="243.9" stroke="#000" stroke-width="0.8"/>
<text x="524.2" y="252.3" font-size="20.7" text-anchor="middle">232</text>
<line x1="504.0" x2="506.3" y1="294.7" y2="294.7" stroke="#000" stroke-width="0.8"/>
<text x="524.2" y="303.1" font-size="20.7" text-anchor="middle">244</text>
<line x1="504.0" x2="506.3" y1="345.5" y2="345.5" stroke="#000" stroke-width="0.8"/>
<text x="524.2" y="353.9" font-size="20.7" text-anchor="middle">256</text>
<line x1="504.0" x2="506.3" y1="396.3" y2="396.3" stroke="#000" stroke-width="0.8"/>
<text x="524.2" y="404.7" font-size="20.7" text-anchor="middle">268</text>
<line x1="504.0" x2="506.3" y1="447.1" y2="447.1" stroke="#000" stroke-width="0.8"/>
<text x="524.2" y="455.5" font-size="20.7" text-anchor="middle">280</text>
<line x1="504.0" x2="506.3" y1="497.9" y2="497.9" stroke="#000" stroke-width="0.8"/>
<text x="524.2" y="506.3" font-size="20.7" text-anchor="middle">292</text>
<line x1="504.0" x2="506.3" y1="548.7" y2="548.7" stroke="#000" stroke-width="0.8"/>
<text x="524.2" y="557.1" font-size="20.7" text-anchor="middle">304</text>
</g>
<g transform="translate(590.33 1180.67)">
<g clip-path="url(#pc)"><g shape-rendering="crispEdges"><ellipse cx="205.8" cy="50.3" rx="1.6" ry="1.9" fill="#0000ff" transform="rotate(20 205.8 50.3)"/><ellipse cx="208.0" cy="121.3" rx="1.5" ry="1.4" fill="#0000ff" transform="rotate(0 208.0 121.3)"/><ellipse cx="311.1" cy="132.2" rx="1.2" ry="1.1" fill="#0000ff" transform="rotate(0 311.1 132.2)"/><ellipse cx="412.1" cy="153.1" rx="1.2" ry="1.1" fill="#0000ff" transform="rotate(0 412.1 153.1)"/><ellipse cx="426.0" cy="179.7" rx="1.2" ry="1.1" fill="#0000ff" transform="rotate(0 426.0 179.7)"/><ellipse cx="470.7" cy="272.9" rx="1.2" ry="1.1" fill="#0000ff" transform="rotate(0 470.7 272.9)"/><ellipse cx="337.8" cy="120.8" rx="2.7" ry="2.4" fill="#0000ff" transform="rotate(0 337.8 120.8)"/><ellipse cx="316.7" cy="134.1" rx="2.2" ry="1.9" fill="#0000ff" transform="rotate(0 316.7 134.1)"/><ellipse cx="316.7" cy="158.6" rx="3.5" ry="2.6" fill="#0000ff" transform="rotate(20 316.7 158.6)"/><polyline points="338.2,156.5 339.4,162.7 340.7,170.1" fill="none" stroke="#0000ff" stroke-width="3.8" stroke-linecap="round"/><ellipse cx="340.4" cy="175.7" rx="2.2" ry="1.8" fill="#0000ff" transform="rotate(0 340.4 175.7)"/><polyline points="411.1,191.2 414.8,188.1 419.2,185.2" fill="none" stroke="#0000ff" stroke-width="3.0" stroke-linecap="round"/><ellipse cx="451.2" cy="203.3" rx="2.0" ry="1.8" fill="#0000ff" transform="rotate(0 451.2 203.3)"/><ellipse cx="388.8" cy="217.0" rx="1.3" ry="1.8" fill="#0000ff" transform="rotate(20 388.8 217.0)"/><polyline points="446.3,223.2 452.7,225.2 460.4,228.1" fill="none" stroke="#0000ff" stroke-width="5.6" stroke-linecap="round"/><polyline points="443.8,229.4 440.9,236.0 438.4,244.0" fill="none" stroke="#0000ff" stroke-width="6.9" stroke-linecap="round"/><polyline points="444.7,244.7 450.2,242.8 457.1,240.9" fill="none" stroke="#0000ff" stroke-width="5.9" stroke-linecap="round"/><polygon points="463.9,230.4 472.6,226.6 485.0,230.4 476.3,236.6 478.8,242.8 477.6,251.5 467.6,254.0 455.2,255.2 451.5,250.2 463.9,247.8 468.9,239.1 466.4,234.1" fill="#0000ff"/><polyline points="466.4,231.6 473.9,228.5 481.3,231.0" fill="none" stroke="#0000ff" stroke-width="2.6" stroke-linecap="round"/><polyline points="472.6,234.1 472.6,241.6" fill="none" stroke="#0000ff" stroke-width="2.8" stroke-linecap="round"/><ellipse cx="472.6" cy="248.0" rx="4.9" ry="3.3" fill="#0000ff" transform="rotate(-20 472.6 248.0)"/><polygon points="421.7,257.1 426.6,253.4 434.1,250.2 440.3,252.7 447.8,255.2 448.4,261.4 444.7,266.4 438.4,265.8 435.3,262.0 427.9,261.2" fill="#0000ff"/><polygon points="455.2,275.7 460.2,276.3 464.5,278.2 469.5,279.4 470.1,285.0 468.9,288.8 463.9,285.7 458.9,283.8" fill="#0000ff"/><polygon points="475.7,285.7 478.8,281.9 485.7,281.9 486.3,299.9 481.9,296.2 478.8,290.0" fill="#0000ff"/><ellipse cx="151.6" cy="44.9" rx="1.2" ry="1.1" fill="#ff4500" transform="rotate(0 151.6 44.9)"/><ellipse cx="159.2" cy="44.9" rx="1.2" ry="1.1" fill="#ff4500" transform="rotate(0 159.2 44.9)"/><ellipse cx="195.7" cy="44.9" rx="1.2" ry="1.1" fill="#ff4500" transform="rotate(0 195.7 44.9)"/><ellipse cx="218.5" cy="67.8" rx="1.2" ry="1.1" fill="#ff4500" transform="rotate(0 218.5 67.8)"/><ellipse cx="200.7" cy="105.9" rx="1.2" ry="1.1" fill="#ff4500" transform="rotate(0 200.7 105.9)"/><ellipse cx="261.7" cy="139.2" rx="1.2" ry="1.1" fill="#ff4500" transform="rotate(0 261.7 139.2)"/><ellipse cx="245.6" cy="124.2" rx="1.2" ry="1.1" fill="#ff4500" transform="rotate(0 245.6 124.2)"/><ellipse cx="254.9" cy="127.4" rx="1.2" ry="1.1" fill="#ff4500" transform="rotate(0 254.9 127.4)"/><ellipse cx="306.8" cy="111.4" rx="1.2" ry="1.1" fill="#ff4500" transform="rotate(0 306.8 111.4)"/><ellipse cx="313.0" cy="113.0" rx="1.2" ry="1.1" fill="#ff4500" transform="rotate(0 313.0 113.0)"/><ellipse cx="313.0" cy="115.7" rx="1.2" ry="1.1" fill="#ff4500" transform="rotate(0 313.0 115.7)"/><ellipse cx="337.2" cy="116.7" rx="1.2" ry="1.1" fill="#ff4500" transform="rotate(0 337.2 116.7)"/><ellipse cx="338.8" cy="126.9" rx="1.2" ry="1.1" fill="#ff4500" transform="rotate(0 338.8 126.9)"/><ellipse cx="317.6" cy="136.2" rx="1.2" ry="1.1" fill="#ff4500" transform="rotate(0 317.6 136.2)"/><ellipse cx="309.9" cy="147.1" rx="1.2" ry="1.1" fill="#ff4500" transform="rotate(0 309.9 147.1)"/><ellipse cx="312.6" cy="148.4" rx="1.2" ry="1.1" fill="#ff4500" transform="rotate(0 312.6 148.4)"/><ellipse cx="321.1" cy="158.7" rx="1.2" ry="1.1" fill="#ff4500" transform="rotate(0 321.1 158.7)"/><ellipse cx="406.1" cy="190.4" rx="1.2" ry="1.1" fill="#ff4500" transform="rotate(0 406.1 190.4)"/><ellipse cx="421.7" cy="197.8" rx="1.2" ry="1.1" fill="#ff4500" transform="rotate(0 421.7 197.8)"/><ellipse cx="379.7" cy="217.0" rx="1.2" ry="1.1" fill="#ff4500" transform="rotate(0 379.7 217.0)"/><ellipse cx="409.3" cy="251.2" rx="1.2" ry="1.1" fill="#ff4500" transform="rotate(0 409.3 251.2)"/><ellipse cx="440.7" cy="146.3" rx="1.2" ry="1.1" fill="#ff4500" transform="rotate(0 440.7 146.3)"/><polyline points="342.2,142.8 343.4,140.3" fill="none" stroke="#ff4500" stroke-width="1.7" stroke-linecap="round"/><ellipse cx="315.2" cy="157.5" rx="1.2" ry="1.0" fill="#ff4500"/><ellipse cx="339.4" cy="163.0" rx="1.2" ry="1.8" fill="#ff4500"/><polyline points="435.3,210.2 439.1,209.5" fill="none" stroke="#ff4500" stroke-width="1.8" stroke-linecap="round"/><polyline points="434.1,218.0 435.3,215.5" fill="none" stroke="#ff4500" stroke-width="1.7" stroke-linecap="round"/><ellipse cx="449.6" cy="223.9" rx="2.6" ry="1.4" fill="#ff4500"/><ellipse cx="454.6" cy="225.7" rx="2.0" ry="1.2" fill="#ff4500"/><ellipse cx="441.2" cy="234.7" rx="1.1" ry="2.0" fill="#ff4500"/><ellipse cx="438.4" cy="238.7" rx="1.2" ry="1.4" fill="#ff4500"/><ellipse cx="447.1" cy="244.9" rx="1.5" ry="1.7" fill="#ff4500"/><ellipse cx="432.9" cy="257.1" rx="4.8" ry="2.8" fill="#ff4500"/><ellipse cx="434.7" cy="256.5" rx="2.2" ry="1.4" fill="#ff4500"/><ellipse cx="442.2" cy="261.2" rx="3.8" ry="3.2" fill="#ff4500"/><ellipse cx="444.0" cy="261.4" rx="1.8" ry="1.8" fill="#ff4500"/><polyline points="451.5,251.5 456.5,254.0 462.7,251.5" fill="none" stroke="#ff4500" stroke-width="2.0" stroke-linecap="round"/><polyline points="444.0,250.2 447.8,251.5" fill="none" stroke="#ff4500" stroke-width="1.9" stroke-linecap="round"/><ellipse cx="465.8" cy="280.7" rx="1.8" ry="2.0" fill="#ff4500"/></g></g>
<path d="M244.0 40.7L254.1 47.3L264.2 53.8L274.3 60.3L284.4 66.8L294.5 73.2L304.6 79.6L314.7 86.0L324.8 92.3L334.9 98.6L345.0 104.9L355.1 111.1L365.2 117.3L375.2 123.5L385.3 129.6L395.4 135.7L405.5 141.8L415.6 147.9L425.7 153.9L435.8 159.9L445.9 165.8L456.0 171.7L466.1 177.6L476.2 183.5L486.3 189.3" stroke="#0e0e0e" stroke-width="1.0" stroke-dasharray="11.8 11.7" fill="none"/>
<path d="M77.1 40.7L94.1 52.4L111.2 64.0L128.2 75.5L145.3 87.0L162.4 98.3L179.4 109.6L196.5 120.8L213.5 131.9L230.6 142.9L247.6 153.9L264.7 164.7L281.7 175.5L298.8 186.2L315.8 196.8L332.9 207.3L349.9 217.7L367.0 228.1L384.0 238.4L401.1 248.5L418.1 258.6L435.1 268.7L452.2 278.6L469.2 288.4L486.3 298.2" stroke="#0e0e0e" stroke-width="1.0" stroke-dasharray="11.8 11.7" fill="none"/>

<path d="M33.4 41.1V549.4M112.1 41.1V549.4M190.8 41.1V549.4M269.5 41.1V549.4M348.2 41.1V549.4M426.9 41.1V549.4M12.7 80.3H486.6M12.7 164.9H486.6M12.7 249.5H486.6M12.7 334.2H486.6M12.7 418.8H486.6M12.7 503.4H486.6" stroke="#000" stroke-width="1.25" stroke-dasharray="3 5.27" fill="none"/>
<g font-size="12" text-anchor="middle">
<text x="33.4" y="312.9">58</text>
<text x="112.1" y="312.9">60</text>
<text x="190.8" y="312.9">62</text>
<text x="269.5" y="312.9">64</text>
<text x="348.2" y="312.9">66</text>
<text x="426.9" y="312.9">68</text>
<text x="249.8" y="79.7">-18</text>
<text x="249.8" y="164.3">-20</text>
<text x="249.8" y="248.9">-22</text>
<text x="249.8" y="333.6">-24</text>
<text x="249.8" y="418.2">-26</text>
<text x="249.8" y="502.8">-28</text>
</g>
<path d="M242.70000000000002 294.9H256.1M249.4 288.2V301.59999999999997" stroke="#000" stroke-width="4.6" fill="none"/>
<text x="36.7" y="65.5" font-size="25" xml:space="preserve">2A23 rain types</text>
<text x="438.9" y="522.6" font-size="30">(h)</text>
<rect x="495.1" y="40.7" width="8.9" height="169.3" fill="#ff4500" stroke="#301000" stroke-width="0.5"/>
<rect x="495.1" y="210.0" width="8.9" height="169.3" fill="#0000ff" stroke="#000030" stroke-width="0.5"/>
<rect x="495.5" y="379.4" width="8.1" height="169.3" fill="#fff" stroke="#000" stroke-width="0.8"/>
<line x1="504.0" x2="506.5" y1="40.7" y2="40.7" stroke="#000" stroke-width="0.8"/>
<text x="507.6" y="48.9" font-size="20.5">Conv</text>
<line x1="504.0" x2="506.5" y1="210.0" y2="210.0" stroke="#000" stroke-width="0.8"/>
<text x="507.6" y="218.2" font-size="20.5">Strat</text>
<line x1="504.0" x2="506.5" y1="379.4" y2="379.4" stroke="#000" stroke-width="0.8"/>
<text x="507.6" y="387.6" font-size="20.5">N/A</text>
</g>
<g transform="translate(1180.67 1180.67)">
<g clip-path="url(#pc)"><g filter="url(#cmi)"><polygon points="0.0,30.0 500.0,30.0 500.0,560.0 0.0,560.0" fill="#020202"/><ellipse cx="151.6" cy="44.9" rx="1.6" ry="1.6" fill="#2a2a2a"/><ellipse cx="159.2" cy="44.9" rx="1.6" ry="1.6" fill="#2a2a2a"/><ellipse cx="195.7" cy="44.9" rx="1.6" ry="1.6" fill="#2a2a2a"/><ellipse cx="218.5" cy="67.8" rx="1.6" ry="1.6" fill="#2a2a2a"/><ellipse cx="200.7" cy="105.9" rx="1.6" ry="1.6" fill="#2a2a2a"/><ellipse cx="261.7" cy="139.2" rx="1.6" ry="1.6" fill="#2a2a2a"/><ellipse cx="245.6" cy="124.2" rx="1.6" ry="1.6" fill="#222222"/><ellipse cx="254.9" cy="127.4" rx="1.6" ry="1.6" fill="#222222"/><ellipse cx="205.8" cy="50.3" rx="2.0" ry="2.4" fill="#3b3b3b" transform="rotate(20 205.8 50.3)"/><ellipse cx="208.0" cy="121.3" rx="1.9" ry="1.9" fill="#3b3b3b"/><ellipse cx="306.8" cy="111.4" rx="1.6" ry="1.6" fill="#222222"/><ellipse cx="313.0" cy="113.0" rx="1.6" ry="1.6" fill="#222222"/><ellipse cx="313.0" cy="115.7" rx="1.6" ry="1.6" fill="#2a2a2a"/><ellipse cx="337.2" cy="116.7" rx="1.6" ry="1.6" fill="#222222"/><ellipse cx="338.8" cy="126.9" rx="1.6" ry="1.6" fill="#2a2a2a"/><ellipse cx="311.1" cy="132.2" rx="1.6" ry="1.6" fill="#3b3b3b"/><ellipse cx="317.6" cy="136.2" rx="1.6" ry="1.6" fill="#2a2a2a"/><ellipse cx="309.9" cy="147.1" rx="1.6" ry="1.6" fill="#2a2a2a"/><ellipse cx="312.6" cy="148.4" rx="1.6" ry="1.6" fill="#2a2a2a"/><ellipse cx="321.1" cy="158.7" rx="1.6" ry="1.6" fill="#222222"/><ellipse cx="412.1" cy="153.1" rx="1.6" ry="1.6" fill="#3b3b3b"/><ellipse cx="426.0" cy="179.7" rx="1.6" ry="1.6" fill="#3b3b3b"/><ellipse cx="406.1" cy="190.4" rx="1.6" ry="1.6" fill="#2a2a2a"/><ellipse cx="421.7" cy="197.8" rx="1.6" ry="1.6" fill="#222222"/><ellipse cx="379.7" cy="217.0" rx="1.6" ry="1.6" fill="#2a2a2a"/><ellipse cx="470.7" cy="272.9" rx="1.6" ry="1.6" fill="#3b3b3b"/><ellipse cx="409.3" cy="251.2" rx="1.6" ry="1.6" fill="#2a2a2a"/><ellipse cx="440.7" cy="146.3" rx="1.6" ry="1.6" fill="#2a2a2a"/><g filter="url(#b0_75)"><ellipse cx="337.8" cy="120.8" rx="2.8" ry="2.5" fill="#464646"/><ellipse cx="316.7" cy="134.1" rx="2.3" ry="2.0" fill="#3b3b3b"/></g><path d="M342.2 142.8L343.4 140.3" fill="none" stroke="#222222" stroke-width="2.6" stroke-linecap="round" stroke-linejoin="round"/><g filter="url(#b0_75)"><ellipse cx="316.7" cy="158.6" rx="3.6" ry="2.7" fill="#3b3b3b" transform="rotate(20 316.7 158.6)"/></g><ellipse cx="315.2" cy="157.5" rx="1.3" ry="1.1" fill="#4a4a4a"/><g filter="url(#b0_75)"><path d="M338.2 156.5C338.4 157.5 339.0 160.4 339.4 162.7C339.9 164.9 340.5 168.9 340.7 170.1" fill="none" stroke="#3b3b3b" stroke-width="4.2" stroke-linecap="round" stroke-linejoin="round"/></g><ellipse cx="339.4" cy="163.0" rx="1.3" ry="1.9" fill="#4a4a4a"/><g filter="url(#b0_75)"><ellipse cx="340.4" cy="175.7" rx="2.3" ry="1.9" fill="#2a2a2a"/><path d="M411.1 191.2C411.7 190.7 413.5 189.2 414.8 188.1C416.2 187.1 418.5 185.7 419.2 185.2" fill="none" stroke="#2a2a2a" stroke-width="3.4000000000000004" stroke-linecap="round" stroke-linejoin="round"/></g><ellipse cx="412.0" cy="191.2" rx="1.8" ry="1.6" fill="#464646"/><g filter="url(#b0_75)"><ellipse cx="451.2" cy="203.3" rx="2.1" ry="1.9" fill="#3b3b3b"/></g><path d="M435.3 210.2L439.1 209.5" fill="none" stroke="#222222" stroke-width="2.7" stroke-linecap="round" stroke-linejoin="round"/><path d="M434.1 218.0L435.3 215.5" fill="none" stroke="#222222" stroke-width="2.6" stroke-linecap="round" stroke-linejoin="round"/><ellipse cx="388.8" cy="217.0" rx="1.8" ry="2.2" fill="#3b3b3b" transform="rotate(20 388.8 217.0)"/><g filter="url(#b0_75)"><path d="M446.3 223.2C447.3 223.5 450.4 224.3 452.7 225.2C455.1 226.0 459.2 227.6 460.4 228.1" fill="none" stroke="#3b3b3b" stroke-width="6.0" stroke-linecap="round" stroke-linejoin="round"/></g><ellipse cx="449.6" cy="223.9" rx="2.7" ry="1.5" fill="#4a4a4a"/><ellipse cx="454.6" cy="225.7" rx="2.1" ry="1.3" fill="#666666"/><g filter="url(#b0_75)"><path d="M443.8 229.4C443.3 230.5 441.8 233.5 440.9 236.0C440.0 238.4 438.9 242.7 438.4 244.0" fill="none" stroke="#3b3b3b" stroke-width="7.3" stroke-linecap="round" stroke-linejoin="round"/></g><ellipse cx="441.2" cy="234.7" rx="1.2" ry="2.1" fill="#4a4a4a"/><ellipse cx="438.4" cy="238.7" rx="1.3" ry="1.5" fill="#4a4a4a"/><g filter="url(#b0_75)"><path d="M444.7 244.7C445.6 244.3 448.2 243.4 450.2 242.8C452.3 242.2 455.9 241.2 457.1 240.9" fill="none" stroke="#3b3b3b" stroke-width="6.3" stroke-linecap="round" stroke-linejoin="round"/></g><ellipse cx="447.1" cy="244.9" rx="1.6" ry="1.8" fill="#4a4a4a"/><g filter="url(#b0_75)"><polygon points="463.9,230.4 472.6,226.6 485.0,230.4 476.3,236.6 478.8,242.8 477.6,251.5 467.6,254.0 455.2,255.2 451.5,250.2 463.9,247.8 468.9,239.1 466.4,234.1" fill="#222222"/><path d="M463.9 230.4L472.6 226.6L485.0 230.4L476.3 236.6L478.8 242.8L477.6 251.5L467.6 254.0L455.2 255.2L451.5 250.2L463.9 247.8L468.9 239.1L466.4 234.1L463.9 230.4" fill="none" stroke="#222222" stroke-width="0.8" stroke-linecap="round" stroke-linejoin="round"/><path d="M466.4 231.6C467.6 231.1 471.4 228.6 473.9 228.5C476.3 228.4 480.1 230.6 481.3 231.0" fill="none" stroke="#2a2a2a" stroke-width="3.0" stroke-linecap="round" stroke-linejoin="round"/><path d="M472.6 234.1L472.6 241.6" fill="none" stroke="#2a2a2a" stroke-width="3.2" stroke-linecap="round" stroke-linejoin="round"/><ellipse cx="472.6" cy="248.0" rx="5.0" ry="3.4" fill="#3b3b3b" transform="rotate(-20 472.6 248.0)"/></g><ellipse cx="472.0" cy="248.4" rx="3.1" ry="1.9" fill="#464646"/><g filter="url(#b0_75)"><polygon points="421.7,257.1 426.6,253.4 434.1,250.2 440.3,252.7 447.8,255.2 448.4,261.4 444.7,266.4 438.4,265.8 435.3,262.0 427.9,261.2" fill="#464646"/><path d="M421.7 257.1L426.6 253.4L434.1 250.2L440.3 252.7L447.8 255.2L448.4 261.4L444.7 266.4L438.4 265.8L435.3 262.0L427.9 261.2L421.7 257.1" fill="none" stroke="#464646" stroke-width="0.8" stroke-linecap="round" stroke-linejoin="round"/></g><ellipse cx="432.9" cy="257.1" rx="4.9" ry="2.9" fill="#4a4a4a"/><ellipse cx="434.7" cy="256.5" rx="2.3" ry="1.5" fill="#666666"/><ellipse cx="442.2" cy="261.2" rx="3.9" ry="3.3" fill="#4a4a4a"/><ellipse cx="444.0" cy="261.4" rx="1.9" ry="1.9" fill="#666666"/><path d="M451.5 251.5C452.3 251.9 454.6 254.0 456.5 254.0C458.3 254.0 461.6 251.9 462.7 251.5" fill="none" stroke="#222222" stroke-width="2.9000000000000004" stroke-linecap="round" stroke-linejoin="round"/><path d="M444.0 250.2L447.8 251.5" fill="none" stroke="#2a2a2a" stroke-width="2.8" stroke-linecap="round" stroke-linejoin="round"/><g filter="url(#b0_75)"><polygon points="455.2,275.7 460.2,276.3 464.5,278.2 469.5,279.4 470.1,285.0 468.9,288.8 463.9,285.7 458.9,283.8" fill="#3b3b3b"/><path d="M455.2 275.7L460.2 276.3L464.5 278.2L469.5 279.4L470.1 285.0L468.9 288.8L463.9 285.7L458.9 283.8L455.2 275.7" fill="none" stroke="#3b3b3b" stroke-width="0.8" stroke-linecap="round" stroke-linejoin="round"/></g><ellipse cx="465.8" cy="280.7" rx="1.9" ry="2.1" fill="#4a4a4a"/><g filter="url(#b0_75)"><polygon points="475.7,285.7 478.8,281.9 485.7,281.9 486.3,299.9 481.9,296.2 478.8,290.0" fill="#2a2a2a"/><path d="M475.7 285.7L478.8 281.9L485.7 281.9L486.3 299.9L481.9 296.2L478.8 290.0L475.7 285.7" fill="none" stroke="#2a2a2a" stroke-width="0.8" stroke-linecap="round" stroke-linejoin="round"/></g><ellipse cx="479.1" cy="285.3" rx="2.5" ry="2.1" fill="#464646"/></g></g>
<path d="M244.0 40.7L254.1 47.3L264.2 53.8L274.3 60.3L284.4 66.8L294.5 73.2L304.6 79.6L314.7 86.0L324.8 92.3L334.9 98.6L345.0 104.9L355.1 111.1L365.2 117.3L375.2 123.5L385.3 129.6L395.4 135.7L405.5 141.8L415.6 147.9L425.7 153.9L435.8 159.9L445.9 165.8L456.0 171.7L466.1 177.6L476.2 183.5L486.3 189.3" stroke="#0e0e0e" stroke-width="1.0" stroke-dasharray="11.8 11.7" fill="none"/>
<path d="M77.1 40.7L94.1 52.4L111.2 64.0L128.2 75.5L145.3 87.0L162.4 98.3L179.4 109.6L196.5 120.8L213.5 131.9L230.6 142.9L247.6 153.9L264.7 164.7L281.7 175.5L298.8 186.2L315.8 196.8L332.9 207.3L349.9 217.7L367.0 228.1L384.0 238.4L401.1 248.5L418.1 258.6L435.1 268.7L452.2 278.6L469.2 288.4L486.3 298.2" stroke="#0e0e0e" stroke-width="1.0" stroke-dasharray="11.8 11.7" fill="none"/>

<path d="M33.4 41.1V549.4M112.1 41.1V549.4M190.8 41.1V549.4M269.5 41.1V549.4M348.2 41.1V549.4M426.9 41.1V549.4M12.7 80.3H486.6M12.7 164.9H486.6M12.7 249.5H486.6M12.7 334.2H486.6M12.7 418.8H486.6M12.7 503.4H486.6" stroke="#000" stroke-width="1.25" stroke-dasharray="3 5.27" fill="none"/>
<g font-size="12" text-anchor="middle">
<text x="33.4" y="312.9">58</text>
<text x="112.1" y="312.9">60</text>
<text x="190.8" y="312.9">62</text>
<text x="269.5" y="312.9">64</text>
<text x="348.2" y="312.9">66</text>
<text x="426.9" y="312.9">68</text>
<text x="249.8" y="79.7">-18</text>
<text x="249.8" y="164.3">-20</text>
<text x="249.8" y="248.9">-22</text>
<text x="249.8" y="333.6">-24</text>
<text x="249.8" y="418.2">-26</text>
<text x="249.8" y="502.8">-28</text>
</g>
<path d="M242.70000000000002 294.9H256.1M249.4 288.2V301.59999999999997" stroke="#000" stroke-width="4.6" fill="none"/>
<text x="36.7" y="65.5" font-size="25" xml:space="preserve">2A23 storm height (km)</text>
<text x="438.9" y="522.6" font-size="30">(i)</text>
<rect x="495.1" y="531.79" width="8.9" height="8.77" fill="#f7f7f7"/>
<rect x="495.1" y="523.32" width="8.9" height="8.77" fill="#f0f0f0"/>
<rect x="495.1" y="514.85" width="8.9" height="8.77" fill="#e9e9e9"/>
<rect x="495.1" y="506.38" width="8.9" height="8.77" fill="#e2e2e1"/>
<rect x="495.1" y="497.92" width="8.9" height="8.77" fill="#dbdbda"/>
<rect x="495.1" y="489.45" width="8.9" height="8.77" fill="#d4d4d3"/>
<rect x="495.1" y="480.98" width="8.9" height="8.77" fill="#cdcdcc"/>
<rect x="495.1" y="472.52" width="8.9" height="8.77" fill="#c6c6c5"/>
<rect x="495.1" y="464.05" width="8.9" height="8.77" fill="#bfbfbe"/>
<rect x="495.1" y="455.58" width="8.9" height="8.77" fill="#b8b8b7"/>
<rect x="495.1" y="447.12" width="8.9" height="8.77" fill="#b1b1b0"/>
<rect x="495.1" y="438.65" width="8.9" height="8.77" fill="#aaaaa9"/>
<rect x="495.1" y="430.18" width="8.9" height="8.77" fill="#a3a3a2"/>
<rect x="495.1" y="421.72" width="8.9" height="8.77" fill="#9c9c9b"/>
<rect x="495.1" y="413.25" width="8.9" height="8.77" fill="#82e487"/>
<rect x="495.1" y="404.78" width="8.9" height="8.77" fill="#7ad980"/>
<rect x="495.1" y="396.31" width="8.9" height="8.77" fill="#73ce78"/>
<rect x="495.1" y="387.85" width="8.9" height="8.77" fill="#6cc470"/>
<rect x="495.1" y="379.38" width="8.9" height="8.77" fill="#64b969"/>
<rect x="495.1" y="370.91" width="8.9" height="8.77" fill="#cdd7ff"/>
<rect x="495.1" y="362.45" width="8.9" height="8.77" fill="#b3ceff"/>
<rect x="495.1" y="353.98" width="8.9" height="8.77" fill="#98c6ff"/>
<rect x="495.1" y="345.51" width="8.9" height="8.77" fill="#7ebdff"/>
<rect x="495.1" y="337.05" width="8.9" height="8.77" fill="#64b4ff"/>
<rect x="495.1" y="328.58" width="8.9" height="8.77" fill="#50aaff"/>
<rect x="495.1" y="320.11" width="8.9" height="8.77" fill="#488cff"/>
<rect x="495.1" y="311.64" width="8.9" height="8.77" fill="#416eff"/>
<rect x="495.1" y="303.18" width="8.9" height="8.77" fill="#3a50ff"/>
<rect x="495.1" y="294.71" width="8.9" height="8.77" fill="#3232ff"/>
<rect x="495.1" y="286.24" width="8.9" height="8.77" fill="#0000ff"/>
<rect x="495.1" y="277.78" width="8.9" height="8.77" fill="#0000f1"/>
<rect x="495.1" y="269.31" width="8.9" height="8.77" fill="#0000e4"/>
<rect x="495.1" y="260.84" width="8.9" height="8.77" fill="#0000d6"/>
<rect x="495.1" y="252.38" width="8.9" height="8.77" fill="#0000c8"/>
<rect x="495.1" y="243.91" width="8.9" height="8.77" fill="#ffff00"/>
<rect x="495.1" y="235.44" width="8.9" height="8.77" fill="#fff200"/>
<rect x="495.1" y="226.97" width="8.9" height="8.77" fill="#ffe600"/>
<rect x="495.1" y="218.51" width="8.9" height="8.77" fill="#ffda00"/>
<rect x="495.1" y="210.04" width="8.9" height="8.77" fill="#ffcd00"/>
<rect x="495.1" y="201.57" width="8.9" height="8.77" fill="#ff9100"/>
<rect x="495.1" y="193.11" width="8.9" height="8.77" fill="#ff8a00"/>
<rect x="495.1" y="184.64" width="8.9" height="8.77" fill="#ff8200"/>
<rect x="495.1" y="176.17" width="8.9" height="8.77" fill="#ff7a00"/>
<rect x="495.1" y="167.71" width="8.9" height="8.77" fill="#ff7300"/>
<rect x="495.1" y="159.24" width="8.9" height="8.77" fill="#ff4100"/>
<rect x="495.1" y="150.77" width="8.9" height="8.77" fill="#ff3700"/>
<rect x="495.1" y="142.30" width="8.9" height="8.77" fill="#ff2d00"/>
<rect x="495.1" y="133.84" width="8.9" height="8.77" fill="#ff2300"/>
<rect x="495.1" y="125.37" width="8.9" height="8.77" fill="#ff1900"/>
<rect x="495.1" y="116.90" width="8.9" height="8.77" fill="#c80000"/>
<rect x="495.1" y="108.44" width="8.9" height="8.77" fill="#be0400"/>
<rect x="495.1" y="99.97" width="8.9" height="8.77" fill="#b40800"/>
<rect x="495.1" y="91.50" width="8.9" height="8.77" fill="#aa0b00"/>
<rect x="495.1" y="83.03" width="8.9" height="8.77" fill="#a00f00"/>
<rect x="495.1" y="74.57" width="8.9" height="8.77" fill="#640f05"/>
<rect x="495.1" y="66.10" width="8.9" height="8.77" fill="#60120a"/>
<rect x="495.1" y="57.63" width="8.9" height="8.77" fill="#5c140f"/>
<rect x="495.1" y="49.17" width="8.9" height="8.77" fill="#591614"/>
<rect x="495.1" y="40.70" width="8.9" height="8.77" fill="#551919"/>
<line x1="504.0" x2="506.3" y1="91.5" y2="91.5" stroke="#000" stroke-width="0.8"/>
<text x="533.0" y="99.9" font-size="20.7" text-anchor="middle">18.0</text>
<line x1="504.0" x2="506.3" y1="142.3" y2="142.3" stroke="#000" stroke-width="0.8"/>
<text x="533.0" y="150.7" font-size="20.7" text-anchor="middle">16.0</text>
<line x1="504.0" x2="506.3" y1="193.1" y2="193.1" stroke="#000" stroke-width="0.8"/>
<text x="533.0" y="201.5" font-size="20.7" text-anchor="middle">14.0</text>
<line x1="504.0" x2="506.3" y1="243.9" y2="243.9" stroke="#000" stroke-width="0.8"/>
<text x="533.0" y="252.3" font-size="20.7" text-anchor="middle">12.0</text>
<line x1="504.0" x2="506.3" y1="294.7" y2="294.7" stroke="#000" stroke-width="0.8"/>
<text x="533.0" y="303.1" font-size="20.7" text-anchor="middle">10.0</text>
<line x1="504.0" x2="506.3" y1="345.5" y2="345.5" stroke="#000" stroke-width="0.8"/>
<text x="533.0" y="353.9" font-size="20.7" text-anchor="middle">8.0</text>
<line x1="504.0" x2="506.3" y1="396.3" y2="396.3" stroke="#000" stroke-width="0.8"/>
<text x="533.0" y="404.7" font-size="20.7" text-anchor="middle">6.0</text>
<line x1="504.0" x2="506.3" y1="447.1" y2="447.1" stroke="#000" stroke-width="0.8"/>
<text x="533.0" y="455.5" font-size="20.7" text-anchor="middle">4.0</text>
<line x1="504.0" x2="506.3" y1="497.9" y2="497.9" stroke="#000" stroke-width="0.8"/>
<text x="533.0" y="506.3" font-size="20.7" text-anchor="middle">2.0</text>
<line x1="504.0" x2="506.3" y1="548.7" y2="548.7" stroke="#000" stroke-width="0.8"/>
<text x="533.0" y="557.1" font-size="20.7" text-anchor="middle">0.0</text>
</g>
</g></svg></body></html>
